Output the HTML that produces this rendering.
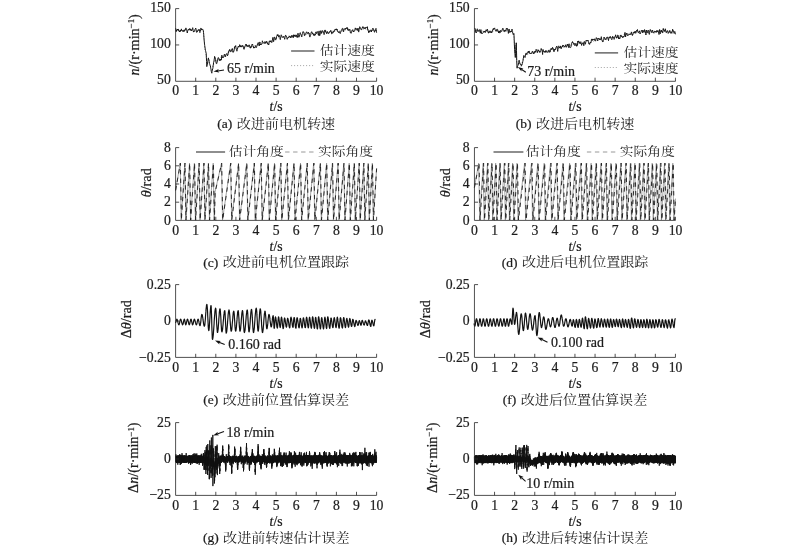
<!DOCTYPE html>
<html lang="zh"><head><meta charset="utf-8"><title>电机转速与位置估算对比</title>
<style>
html,body{margin:0;padding:0;background:#fff;}
body{width:800px;height:546px;overflow:hidden;}
svg{display:block;}
svg text{font-family:"Liberation Serif", "Noto Serif CJK SC", serif;font-size:13.7px;fill:#1c1c1c;font-weight:400;stroke:#1c1c1c;stroke-width:0.22px;}
svg text.cj{font-family:"Noto Serif CJK SC","Liberation Serif",serif;stroke:none;}
</style></head><body>
<svg width="800" height="546" viewBox="0 0 800 546">
<rect width="800" height="546" fill="#fff"/>
<polyline points="175.6,30.0 176.0,30.0 176.4,30.0 176.8,30.0 177.2,30.0 177.6,30.0 178.0,30.0 178.4,30.0 178.8,30.0 179.2,30.0 179.6,30.0 180.0,30.0 180.4,30.0 180.8,30.0 181.2,30.0 181.6,30.0 182.0,30.0 182.4,30.0 182.8,30.0 183.2,30.0 183.6,30.0 184.0,30.0 184.4,30.0 184.8,30.0 185.2,30.0 185.7,30.0 186.1,30.0 186.5,30.0 186.9,30.0 187.3,30.0 187.7,30.0 188.1,30.0 188.5,30.0 188.9,30.0 189.3,30.0 189.7,30.0 190.1,30.0 190.5,30.0 190.9,30.0 191.3,30.0 191.7,30.0 192.1,30.0 192.5,30.0 192.9,30.0 193.3,30.0 193.7,30.0 194.1,30.0 194.5,30.0 194.9,30.0 195.3,30.0 195.7,30.0 196.1,30.0 196.5,30.0 196.9,30.0 197.3,30.0 197.7,30.0 198.1,30.0 198.5,30.0 198.9,30.0 199.3,30.0 199.7,30.0 200.1,30.0 200.5,30.0 200.9,30.0 201.3,30.0 201.7,30.0 202.1,30.0 202.5,30.0 202.9,30.0 203.3,30.0 203.7,34.2 204.1,38.5 204.5,43.1 204.9,47.7 205.3,51.3 205.8,54.0 206.2,56.6 206.6,61.9 207.0,63.7 207.4,62.0 207.8,60.2 208.2,58.8 208.6,59.3 209.0,62.0 209.4,64.6 209.8,65.7 210.2,66.8 210.6,67.8 211.0,68.8 211.4,69.8 211.8,70.8 212.2,68.9 212.6,67.1 213.0,65.3 213.4,63.3 213.8,61.3 214.2,59.3 214.6,57.3 215.0,58.8 215.4,60.2 215.8,61.7 216.2,61.1 216.6,60.6 217.0,60.0 217.4,59.5 217.8,59.2 218.2,58.9 218.6,58.7 219.0,58.4 219.4,58.1 219.8,57.8 220.2,57.6 220.6,57.3 221.0,57.1 221.4,56.9 221.8,56.7 222.2,56.4 222.6,56.2 223.0,56.0 223.4,55.8 223.8,55.5 224.2,55.3 224.6,55.1 225.0,54.9 225.4,54.6 225.8,54.4 226.3,54.1 226.7,53.8 227.1,53.5 227.5,53.2 227.9,52.9 228.3,52.6 228.7,52.3 229.1,52.0 229.5,51.7 229.9,51.4 230.3,51.1 230.7,50.9 231.1,50.7 231.5,50.6 231.9,50.4 232.3,50.2 232.7,50.0 233.1,49.8 233.5,49.6 233.9,49.5 234.3,49.3 234.7,49.1 235.1,48.9 235.5,48.7 235.9,48.5 236.3,48.4 236.7,48.2 237.1,48.0 237.5,47.8 237.9,47.6 238.3,47.4 238.7,47.2 239.1,47.1 239.5,46.9 239.9,46.7 240.3,46.7 240.7,46.7 241.1,46.7 241.5,46.7 241.9,46.7 242.3,46.7 242.7,46.7 243.1,46.7 243.5,46.7 243.9,46.7 244.3,46.7 244.7,46.7 245.1,46.7 245.5,46.7 245.9,46.7 246.4,46.7 246.8,46.7 247.2,46.7 247.6,46.8 248.0,46.8 248.4,46.8 248.8,46.8 249.2,46.8 249.6,46.8 250.0,46.8 250.4,46.7 250.8,46.6 251.2,46.5 251.6,46.4 252.0,46.3 252.4,46.3 252.8,46.2 253.2,46.1 253.6,46.0 254.0,45.9 254.4,45.8 254.8,45.8 255.2,45.7 255.6,45.6 256.0,45.5 256.4,45.4 256.8,45.3 257.2,45.2 257.6,45.2 258.0,45.1 258.4,45.0 258.8,44.9 259.2,44.8 259.6,44.7 260.0,44.7 260.4,44.5 260.8,44.4 261.2,44.3 261.6,44.2 262.0,44.1 262.4,43.9 262.8,43.8 263.2,43.7 263.6,43.6 264.0,43.5 264.4,43.3 264.8,43.2 265.2,43.1 265.6,43.0 266.1,42.9 266.5,42.8 266.9,42.6 267.3,42.5 267.7,42.4 268.1,42.3 268.5,42.2 268.9,42.0 269.3,41.9 269.7,41.8 270.1,41.7 270.5,41.4 270.9,41.2 271.3,41.0 271.7,40.7 272.1,40.5 272.5,40.2 272.9,40.0 273.3,39.7 273.7,39.5 274.1,39.3 274.5,39.0 274.9,38.8 275.3,38.5 275.7,38.3 276.1,38.0 276.5,38.0 276.9,37.9 277.3,37.9 277.7,37.8 278.1,37.7 278.5,37.7 278.9,37.6 279.3,37.6 279.7,37.5 280.1,37.4 280.5,37.4 280.9,37.3 281.3,37.3 281.7,37.2 282.1,37.1 282.5,37.1 282.9,37.0 283.3,37.0 283.7,36.9 284.1,36.8 284.5,36.8 284.9,36.7 285.3,36.7 285.7,36.6 286.1,36.5 286.6,36.5 287.0,36.4 287.4,36.3 287.8,36.3 288.2,36.2 288.6,36.2 289.0,36.2 289.4,36.1 289.8,36.1 290.2,36.0 290.6,36.0 291.0,36.0 291.4,35.9 291.8,35.9 292.2,35.9 292.6,35.8 293.0,35.8 293.4,35.8 293.8,35.7 294.2,35.7 294.6,35.6 295.0,35.6 295.4,35.6 295.8,35.5 296.2,35.5 296.6,35.5 297.0,35.4 297.4,35.4 297.8,35.4 298.2,35.3 298.6,35.3 299.0,35.2 299.4,35.2 299.8,35.2 300.2,35.1 300.6,35.1 301.0,35.0 301.4,35.0 301.8,35.0 302.2,34.9 302.6,34.9 303.0,34.8 303.4,34.8 303.8,34.7 304.2,34.7 304.6,34.6 305.0,34.6 305.4,34.5 305.8,34.5 306.2,34.5 306.7,34.4 307.1,34.4 307.5,34.3 307.9,34.3 308.3,34.2 308.7,34.2 309.1,34.1 309.5,34.1 309.9,34.0 310.3,34.0 310.7,34.0 311.1,33.9 311.5,33.9 311.9,33.8 312.3,33.8 312.7,33.7 313.1,33.7 313.5,33.6 313.9,33.6 314.3,33.5 314.7,33.5 315.1,33.5 315.5,33.4 315.9,33.4 316.3,33.3 316.7,33.3 317.1,33.2 317.5,33.2 317.9,33.1 318.3,33.1 318.7,33.0 319.1,33.0 319.5,32.9 319.9,32.9 320.3,32.8 320.7,32.8 321.1,32.7 321.5,32.7 321.9,32.6 322.3,32.6 322.7,32.5 323.1,32.5 323.5,32.4 323.9,32.4 324.3,32.3 324.7,32.2 325.1,32.2 325.5,32.1 325.9,32.1 326.4,32.0 326.8,32.0 327.2,31.9 327.6,31.9 328.0,31.8 328.4,31.8 328.8,31.7 329.2,31.7 329.6,31.6 330.0,31.6 330.4,31.5 330.8,31.5 331.2,31.4 331.6,31.4 332.0,31.3 332.4,31.3 332.8,31.2 333.2,31.2 333.6,31.1 334.0,31.1 334.4,31.0 334.8,31.0 335.2,30.9 335.6,30.9 336.0,30.8 336.4,30.8 336.8,30.7 337.2,30.7 337.6,30.7 338.0,30.7 338.4,30.6 338.8,30.6 339.2,30.6 339.6,30.5 340.0,30.5 340.4,30.5 340.8,30.5 341.2,30.4 341.6,30.4 342.0,30.4 342.4,30.3 342.8,30.3 343.2,30.3 343.6,30.3 344.0,30.2 344.4,30.2 344.8,30.2 345.2,30.1 345.6,30.1 346.0,30.1 346.5,30.0 346.9,30.0 347.3,30.0 347.7,30.0 348.1,29.9 348.5,29.9 348.9,29.9 349.3,29.8 349.7,29.8 350.1,29.8 350.5,29.8 350.9,29.7 351.3,29.7 351.7,29.7 352.1,29.6 352.5,29.6 352.9,29.6 353.3,29.6 353.7,29.5 354.1,29.5 354.5,29.5 354.9,29.4 355.3,29.4 355.7,29.4 356.1,29.3 356.5,29.3 356.9,29.3 357.3,29.3 357.7,29.3 358.1,29.3 358.5,29.3 358.9,29.3 359.3,29.3 359.7,29.3 360.1,29.3 360.5,29.3 360.9,29.3 361.3,29.3 361.7,29.3 362.1,29.3 362.5,29.3 362.9,29.3 363.3,29.3 363.7,29.3 364.1,29.3 364.5,29.3 364.9,29.3 365.3,29.3 365.7,29.3 366.1,29.3 366.6,29.3 367.0,29.4 367.4,29.4 367.8,29.5 368.2,29.5 368.6,29.5 369.0,29.6 369.4,29.6 369.8,29.7 370.2,29.7 370.6,29.8 371.0,29.8 371.4,29.8 371.8,29.9 372.2,29.9 372.6,30.0 373.0,30.0 373.4,30.1 373.8,30.1 374.2,30.1 374.6,30.2 375.0,30.2 375.4,30.3 375.8,30.3 376.2,30.4 376.6,30.4" fill="none" stroke="#999" stroke-width="0.9" stroke-dasharray="1 1.6"/>
<polyline points="175.6,28.2 175.8,28.9 176.0,29.7 176.2,31.6 176.4,30.2 176.6,30.7 176.8,30.8 177.0,30.4 177.2,29.7 177.4,29.1 177.6,30.1 177.8,29.9 178.0,29.1 178.2,29.1 178.4,30.2 178.6,30.6 178.8,30.0 179.0,30.1 179.2,31.4 179.4,31.0 179.6,31.8 179.8,31.3 180.0,31.9 180.2,31.7 180.4,31.0 180.6,30.0 180.8,31.0 181.0,30.6 181.2,30.1 181.4,28.9 181.6,29.8 181.8,30.2 182.0,30.3 182.2,30.1 182.4,31.3 182.6,31.3 182.8,31.2 183.0,31.1 183.2,31.1 183.4,30.5 183.6,31.4 183.8,30.9 184.0,31.4 184.2,30.4 184.4,31.1 184.6,30.3 184.8,30.5 185.0,30.6 185.2,29.1 185.4,29.6 185.7,28.6 185.9,27.9 186.1,29.0 186.3,29.2 186.5,29.3 186.7,29.8 186.9,30.7 187.1,32.0 187.3,33.0 187.5,31.3 187.7,31.3 187.9,30.5 188.1,30.0 188.3,29.4 188.5,29.3 188.7,29.0 188.9,29.5 189.1,30.1 189.3,29.5 189.5,28.8 189.7,28.5 189.9,29.1 190.1,29.6 190.3,28.9 190.5,30.2 190.7,30.2 190.9,29.9 191.1,30.3 191.3,31.0 191.5,30.7 191.7,29.9 191.9,30.1 192.1,28.9 192.3,28.9 192.5,28.6 192.7,27.7 192.9,28.9 193.1,30.7 193.3,31.0 193.5,32.1 193.7,31.8 193.9,31.2 194.1,31.6 194.3,30.9 194.5,31.1 194.7,30.6 194.9,29.6 195.1,29.3 195.3,29.2 195.5,28.8 195.7,28.0 195.9,29.2 196.1,29.5 196.3,31.6 196.5,31.7 196.7,32.4 196.9,31.4 197.1,31.1 197.3,31.8 197.5,31.2 197.7,30.6 197.9,30.7 198.1,30.9 198.3,29.7 198.5,29.8 198.7,29.9 198.9,29.8 199.1,29.3 199.3,30.3 199.5,30.1 199.7,31.7 199.9,32.6 200.1,31.5 200.3,31.3 200.5,29.7 200.7,29.2 200.9,28.1 201.1,28.2 201.3,29.7 201.5,29.6 201.7,29.9 201.9,29.0 202.1,29.5 202.3,29.2 202.5,29.2 202.7,29.5 202.9,29.6 203.1,29.7 203.3,30.4 203.5,32.3 203.7,34.3 203.9,37.2 204.1,39.9 204.3,41.6 204.5,44.2 204.7,45.5 204.9,47.0 205.1,48.1 205.3,49.9 205.5,50.5 205.8,51.7 206.0,52.4 206.2,53.2 206.4,57.5 206.6,61.5 206.8,66.6 207.0,65.5 207.2,64.9 207.4,64.1 207.6,62.2 207.8,61.2 208.0,60.5 208.2,58.9 208.4,57.9 208.6,59.3 208.8,59.3 209.0,60.1 209.2,61.6 209.4,63.5 209.6,63.6 209.8,64.3 210.0,64.9 210.2,65.3 210.4,65.8 210.6,67.3 210.8,68.7 211.0,69.4 211.2,71.2 211.4,71.6 211.6,72.5 211.8,73.2 212.0,71.5 212.2,71.2 212.4,70.3 212.6,69.0 212.8,68.5 213.0,67.3 213.2,65.1 213.4,64.9 213.6,62.3 213.8,61.9 214.0,61.2 214.2,59.7 214.4,58.7 214.6,56.4 214.8,57.9 215.0,58.2 215.2,57.7 215.4,58.6 215.6,59.7 215.8,61.1 216.0,62.6 216.2,63.1 216.4,63.8 216.6,63.7 216.8,63.4 217.0,61.9 217.2,61.9 217.4,60.9 217.6,59.9 217.8,58.5 218.0,57.9 218.2,58.0 218.4,57.6 218.6,57.8 218.8,58.1 219.0,59.1 219.2,60.4 219.4,60.5 219.6,59.5 219.8,60.2 220.0,59.7 220.2,60.4 220.4,59.6 220.6,59.5 220.8,60.3 221.0,59.1 221.2,59.9 221.4,59.0 221.6,56.9 221.8,55.2 222.0,55.8 222.2,56.6 222.4,57.7 222.6,57.5 222.8,57.2 223.0,56.8 223.2,57.7 223.4,57.2 223.6,56.9 223.8,56.8 224.0,56.8 224.2,54.7 224.4,54.9 224.6,54.2 224.8,54.6 225.0,55.5 225.2,56.1 225.4,56.9 225.6,56.5 225.8,55.0 226.1,54.7 226.3,54.3 226.5,54.2 226.7,53.6 226.9,54.1 227.1,54.5 227.3,54.9 227.5,55.8 227.7,55.0 227.9,55.1 228.1,53.9 228.3,53.2 228.5,52.0 228.7,51.1 228.9,50.9 229.1,50.5 229.3,51.1 229.5,50.3 229.7,49.4 229.9,50.5 230.1,50.4 230.3,50.4 230.5,51.0 230.7,51.8 230.9,51.7 231.1,50.9 231.3,51.1 231.5,50.8 231.7,49.9 231.9,49.4 232.1,49.9 232.3,48.5 232.5,49.7 232.7,50.4 232.9,52.0 233.1,52.4 233.3,51.3 233.5,51.0 233.7,51.4 233.9,51.3 234.1,49.9 234.3,49.1 234.5,47.0 234.7,47.4 234.9,46.4 235.1,46.7 235.3,47.0 235.5,46.2 235.7,45.6 235.9,47.3 236.1,48.7 236.3,49.0 236.5,49.8 236.7,50.5 236.9,51.2 237.1,50.5 237.3,49.6 237.5,49.1 237.7,47.7 237.9,47.7 238.1,46.5 238.3,46.5 238.5,46.1 238.7,46.9 238.9,47.1 239.1,46.3 239.3,46.0 239.5,46.4 239.7,44.7 239.9,45.0 240.1,46.0 240.3,45.7 240.5,46.1 240.7,47.0 240.9,46.2 241.1,47.1 241.3,46.7 241.5,46.1 241.7,45.7 241.9,46.1 242.1,45.9 242.3,46.3 242.5,46.2 242.7,45.4 242.9,46.4 243.1,46.2 243.3,47.4 243.5,47.3 243.7,48.8 243.9,48.8 244.1,49.3 244.3,48.3 244.5,48.3 244.7,46.8 244.9,46.9 245.1,46.4 245.3,45.6 245.5,45.1 245.7,44.4 245.9,45.2 246.2,45.4 246.4,44.4 246.6,45.6 246.8,45.0 247.0,46.2 247.2,45.7 247.4,46.4 247.6,46.1 247.8,46.2 248.0,45.8 248.2,46.7 248.4,46.4 248.6,45.4 248.8,45.1 249.0,44.8 249.2,44.9 249.4,45.1 249.6,46.4 249.8,47.3 250.0,47.4 250.2,48.0 250.4,48.2 250.6,46.8 250.8,47.9 251.0,46.7 251.2,47.1 251.4,45.7 251.6,45.6 251.8,44.8 252.0,45.0 252.2,44.4 252.4,44.6 252.6,44.1 252.8,45.7 253.0,45.9 253.2,47.0 253.4,46.7 253.6,48.1 253.8,47.7 254.0,47.1 254.2,48.1 254.4,47.6 254.6,47.5 254.8,47.9 255.0,47.6 255.2,46.7 255.4,46.6 255.6,45.6 255.8,46.2 256.0,46.9 256.2,47.5 256.4,47.5 256.6,46.8 256.8,46.3 257.0,46.1 257.2,45.5 257.4,44.7 257.6,43.9 257.8,44.5 258.0,42.8 258.2,42.5 258.4,42.7 258.6,43.7 258.8,44.2 259.0,45.0 259.2,46.0 259.4,45.2 259.6,43.3 259.8,42.0 260.0,42.1 260.2,43.4 260.4,43.9 260.6,45.0 260.8,44.2 261.0,45.0 261.2,44.7 261.4,44.1 261.6,43.8 261.8,44.0 262.0,43.7 262.2,42.4 262.4,40.8 262.6,41.7 262.8,41.8 263.0,42.3 263.2,42.5 263.4,42.8 263.6,42.9 263.8,42.7 264.0,43.0 264.2,43.5 264.4,43.1 264.6,42.6 264.8,41.7 265.0,41.5 265.2,41.9 265.4,43.0 265.6,43.4 265.8,42.2 266.1,42.4 266.3,41.8 266.5,42.3 266.7,41.3 266.9,42.1 267.1,42.3 267.3,42.9 267.5,42.8 267.7,44.0 267.9,43.7 268.1,44.5 268.3,44.1 268.5,43.9 268.7,44.9 268.9,43.9 269.1,42.1 269.3,41.3 269.5,40.8 269.7,41.3 269.9,41.7 270.1,42.1 270.3,41.0 270.5,42.0 270.7,40.8 270.9,40.7 271.1,40.7 271.3,41.3 271.5,41.8 271.7,42.6 271.9,42.3 272.1,41.7 272.3,40.7 272.5,40.1 272.7,39.0 272.9,37.4 273.1,39.5 273.3,39.9 273.5,41.6 273.7,41.6 273.9,39.9 274.1,38.5 274.3,37.1 274.5,37.1 274.7,37.1 274.9,38.1 275.1,39.2 275.3,40.0 275.5,39.8 275.7,40.1 275.9,39.3 276.1,38.0 276.3,38.4 276.5,36.7 276.7,36.2 276.9,35.7 277.1,35.6 277.3,34.6 277.5,35.8 277.7,35.0 277.9,35.0 278.1,34.7 278.3,36.2 278.5,36.8 278.7,35.9 278.9,36.3 279.1,35.7 279.3,35.7 279.5,35.7 279.7,36.8 279.9,37.2 280.1,39.0 280.3,39.6 280.5,38.4 280.7,37.5 280.9,37.1 281.1,34.8 281.3,34.9 281.5,35.4 281.7,35.8 281.9,36.6 282.1,36.6 282.3,36.7 282.5,37.3 282.7,37.5 282.9,37.6 283.1,37.3 283.3,36.7 283.5,36.5 283.7,36.8 283.9,36.4 284.1,37.7 284.3,37.9 284.5,38.2 284.7,39.3 284.9,37.8 285.1,37.1 285.3,36.2 285.5,35.2 285.7,35.2 285.9,35.7 286.1,36.2 286.4,36.3 286.6,37.0 286.8,37.7 287.0,38.9 287.2,39.3 287.4,38.6 287.6,38.7 287.8,37.7 288.0,37.3 288.2,37.4 288.4,37.7 288.6,37.0 288.8,37.1 289.0,37.3 289.2,36.7 289.4,36.9 289.6,37.1 289.8,36.0 290.0,36.1 290.2,37.0 290.4,37.2 290.6,37.1 290.8,38.0 291.0,36.9 291.2,36.6 291.4,37.1 291.6,36.3 291.8,35.6 292.0,35.1 292.2,35.9 292.4,36.7 292.6,36.3 292.8,36.9 293.0,37.4 293.2,37.9 293.4,37.4 293.6,35.0 293.8,34.7 294.0,35.2 294.2,35.4 294.4,35.0 294.6,36.2 294.8,35.4 295.0,35.6 295.2,36.7 295.4,35.9 295.6,36.2 295.8,36.0 296.0,34.8 296.2,35.7 296.4,35.7 296.6,35.3 296.8,37.0 297.0,36.7 297.2,37.6 297.4,37.0 297.6,35.7 297.8,34.0 298.0,33.2 298.2,33.8 298.4,34.5 298.6,35.6 298.8,37.2 299.0,37.2 299.2,35.9 299.4,35.9 299.6,34.8 299.8,34.3 300.0,32.8 300.2,32.7 300.4,32.8 300.6,33.7 300.8,34.1 301.0,34.9 301.2,35.1 301.4,36.4 301.6,36.3 301.8,36.9 302.0,35.3 302.2,34.7 302.4,34.1 302.6,33.4 302.8,32.3 303.0,32.7 303.2,31.5 303.4,31.9 303.6,32.1 303.8,32.5 304.0,33.5 304.2,33.4 304.4,35.6 304.6,35.7 304.8,35.2 305.0,35.3 305.2,34.8 305.4,34.5 305.6,33.9 305.8,33.9 306.0,32.8 306.2,32.6 306.5,31.8 306.7,32.5 306.9,32.8 307.1,33.0 307.3,33.5 307.5,33.6 307.7,33.3 307.9,32.3 308.1,32.4 308.3,32.6 308.5,32.2 308.7,33.5 308.9,33.5 309.1,33.1 309.3,34.7 309.5,35.8 309.7,36.2 309.9,37.1 310.1,35.5 310.3,35.8 310.5,35.3 310.7,34.9 310.9,33.3 311.1,33.1 311.3,32.1 311.5,32.3 311.7,31.7 311.9,32.0 312.1,32.4 312.3,33.0 312.5,34.0 312.7,33.9 312.9,33.4 313.1,34.0 313.3,34.3 313.5,35.1 313.7,33.9 313.9,35.5 314.1,35.6 314.3,35.2 314.5,34.5 314.7,35.4 314.9,34.7 315.1,34.9 315.3,35.0 315.5,33.9 315.7,33.3 315.9,31.9 316.1,32.6 316.3,33.1 316.5,33.6 316.7,33.2 316.9,32.4 317.1,31.5 317.3,31.6 317.5,31.8 317.7,32.5 317.9,32.7 318.1,33.5 318.3,35.1 318.5,35.4 318.7,33.2 318.9,31.5 319.1,30.9 319.3,32.5 319.5,33.6 319.7,35.7 319.9,34.5 320.1,34.5 320.3,33.0 320.5,32.8 320.7,30.8 320.9,30.6 321.1,31.5 321.3,31.6 321.5,33.4 321.7,32.3 321.9,32.4 322.1,31.6 322.3,31.2 322.5,30.6 322.7,30.7 322.9,31.6 323.1,31.4 323.3,32.4 323.5,32.3 323.7,33.2 323.9,33.3 324.1,34.6 324.3,32.6 324.5,31.2 324.7,30.2 324.9,30.2 325.1,30.0 325.3,30.2 325.5,31.6 325.7,30.8 325.9,32.2 326.1,32.7 326.4,32.4 326.6,33.7 326.8,33.3 327.0,33.4 327.2,31.6 327.4,31.7 327.6,31.7 327.8,32.7 328.0,32.5 328.2,32.5 328.4,33.5 328.6,33.6 328.8,32.9 329.0,33.0 329.2,32.9 329.4,32.7 329.6,32.7 329.8,31.3 330.0,31.5 330.2,31.5 330.4,31.6 330.6,30.6 330.8,30.3 331.0,31.1 331.2,31.3 331.4,31.7 331.6,33.7 331.8,33.7 332.0,33.5 332.2,33.1 332.4,33.3 332.6,32.3 332.8,32.2 333.0,32.7 333.2,32.7 333.4,31.2 333.6,31.1 333.8,31.5 334.0,30.9 334.2,31.4 334.4,30.8 334.6,29.9 334.8,29.7 335.0,29.3 335.2,29.0 335.4,29.2 335.6,29.7 335.8,30.0 336.0,29.4 336.2,30.2 336.4,28.8 336.6,29.4 336.8,29.1 337.0,29.9 337.2,29.4 337.4,30.3 337.6,31.3 337.8,31.0 338.0,31.7 338.2,32.1 338.4,32.5 338.6,32.4 338.8,31.8 339.0,32.5 339.2,32.5 339.4,31.6 339.6,32.3 339.8,32.7 340.0,33.1 340.2,33.6 340.4,33.3 340.6,32.3 340.8,31.3 341.0,31.4 341.2,31.4 341.4,30.7 341.6,30.5 341.8,29.7 342.0,29.9 342.2,28.5 342.4,28.4 342.6,28.3 342.8,28.8 343.0,29.5 343.2,31.0 343.4,31.9 343.6,31.7 343.8,30.1 344.0,29.2 344.2,28.8 344.4,29.2 344.6,28.8 344.8,29.2 345.0,29.3 345.2,29.4 345.4,29.4 345.6,28.2 345.8,28.7 346.0,29.0 346.2,28.4 346.5,28.4 346.7,28.6 346.9,27.3 347.1,27.5 347.3,27.8 347.5,27.8 347.7,29.6 347.9,28.8 348.1,30.1 348.3,30.4 348.5,30.2 348.7,29.7 348.9,30.4 349.1,30.6 349.3,29.5 349.5,29.6 349.7,29.3 349.9,30.0 350.1,30.6 350.3,32.4 350.5,32.1 350.7,32.7 350.9,32.6 351.1,33.3 351.3,32.0 351.5,31.9 351.7,31.3 351.9,30.7 352.1,30.1 352.3,30.2 352.5,29.9 352.7,29.8 352.9,30.8 353.1,31.2 353.3,31.9 353.5,31.0 353.7,31.9 353.9,30.8 354.1,30.8 354.3,31.0 354.5,31.0 354.7,30.9 354.9,30.2 355.1,28.7 355.3,27.9 355.5,28.5 355.7,29.2 355.9,28.5 356.1,28.9 356.3,28.7 356.5,29.2 356.7,29.1 356.9,30.1 357.1,30.2 357.3,30.5 357.5,28.7 357.7,28.6 357.9,28.5 358.1,28.1 358.3,30.0 358.5,31.7 358.7,32.1 358.9,31.2 359.1,29.6 359.3,29.0 359.5,27.4 359.7,26.7 359.9,27.4 360.1,28.0 360.3,27.7 360.5,28.0 360.7,28.7 360.9,28.7 361.1,28.8 361.3,29.7 361.5,29.7 361.7,29.6 361.9,28.6 362.1,28.4 362.3,28.2 362.5,26.9 362.7,26.8 362.9,26.7 363.1,26.6 363.3,27.1 363.5,28.0 363.7,28.5 363.9,28.4 364.1,27.8 364.3,27.7 364.5,27.7 364.7,28.5 364.9,28.2 365.1,28.8 365.3,28.2 365.5,27.5 365.7,28.2 365.9,27.9 366.1,27.4 366.3,27.4 366.6,27.4 366.8,27.6 367.0,27.2 367.2,27.6 367.4,26.7 367.6,29.0 367.8,30.0 368.0,30.6 368.2,30.5 368.4,31.0 368.6,32.3 368.8,32.9 369.0,31.6 369.2,32.0 369.4,30.8 369.6,31.3 369.8,31.0 370.0,31.3 370.2,30.3 370.4,30.0 370.6,30.1 370.8,30.3 371.0,31.1 371.2,31.7 371.4,32.0 371.6,31.0 371.8,30.2 372.0,30.8 372.2,30.0 372.4,29.4 372.6,28.5 372.8,28.8 373.0,28.3 373.2,28.5 373.4,28.8 373.6,29.7 373.8,29.7 374.0,31.1 374.2,31.3 374.4,32.2 374.6,32.2 374.8,30.7 375.0,31.0 375.2,31.0 375.4,29.8 375.6,29.2 375.8,29.0 376.0,28.4 376.2,29.6 376.4,31.2 376.6,32.7" fill="none" stroke="#141414" stroke-width="1.0" stroke-linejoin="round"/>
<polyline points="474.4,31.1 474.9,31.1 475.3,31.1 475.7,31.1 476.1,31.1 476.5,31.1 476.9,31.1 477.3,31.1 477.7,31.1 478.1,31.1 478.5,31.1 478.9,31.1 479.3,31.1 479.7,31.1 480.1,31.1 480.5,31.1 480.9,31.1 481.3,31.1 481.7,31.1 482.1,31.1 482.5,31.1 482.9,31.1 483.3,31.1 483.7,31.0 484.1,31.0 484.5,31.0 484.9,31.0 485.3,31.0 485.7,31.0 486.1,31.0 486.5,31.0 486.9,31.0 487.3,31.0 487.7,31.0 488.1,31.0 488.5,31.0 488.9,31.0 489.3,31.0 489.7,31.0 490.1,31.0 490.5,31.0 490.9,31.0 491.3,31.0 491.7,31.0 492.1,31.0 492.5,31.0 492.9,31.0 493.3,31.0 493.7,31.0 494.1,30.9 494.6,30.9 495.0,30.9 495.4,30.9 495.8,30.9 496.2,30.9 496.6,30.9 497.0,30.9 497.4,30.9 497.8,30.9 498.2,30.9 498.6,30.9 499.0,30.9 499.4,30.9 499.8,30.9 500.2,30.9 500.6,30.9 501.0,30.9 501.4,30.9 501.8,30.9 502.2,30.9 502.6,30.9 503.0,30.9 503.4,30.9 503.8,30.9 504.2,30.9 504.6,30.9 505.0,30.8 505.4,30.8 505.8,30.8 506.2,30.8 506.6,30.8 507.0,30.8 507.4,30.8 507.8,30.8 508.2,30.8 508.6,30.8 509.0,30.8 509.4,30.8 509.8,30.8 510.2,30.8 510.6,30.8 511.0,30.8 511.4,30.8 511.8,30.8 512.2,30.8 512.6,30.8 513.0,31.9 513.4,33.0 513.8,34.0 514.2,41.3 514.6,48.6 515.1,52.9 515.5,51.7 515.9,44.9 516.3,42.0 516.7,59.5 517.1,66.8 517.5,65.3 517.9,63.9 518.3,62.5 518.7,61.2 519.1,61.9 519.5,62.5 519.9,63.1 520.3,63.7 520.7,64.4 521.1,65.0 521.5,64.6 521.9,63.1 522.3,61.7 522.7,60.2 523.1,59.2 523.5,58.2 523.9,57.2 524.3,56.2 524.7,56.0 525.1,55.8 525.5,55.6 525.9,55.4 526.3,55.2 526.7,55.0 527.1,54.8 527.5,54.6 527.9,54.4 528.3,54.2 528.7,54.0 529.1,53.8 529.5,53.6 529.9,53.4 530.3,53.2 530.7,53.1 531.1,53.1 531.5,53.0 531.9,52.9 532.3,52.9 532.7,52.8 533.1,52.8 533.5,52.7 533.9,52.7 534.3,52.6 534.8,52.6 535.2,52.5 535.6,52.5 536.0,52.4 536.4,52.3 536.8,52.3 537.2,52.2 537.6,52.2 538.0,52.1 538.4,52.1 538.8,52.0 539.2,52.0 539.6,51.9 540.0,51.9 540.4,51.8 540.8,51.7 541.2,51.7 541.6,51.6 542.0,51.6 542.4,51.5 542.8,51.5 543.2,51.4 543.6,51.4 544.0,51.3 544.4,51.3 544.8,51.2 545.2,51.1 545.6,51.0 546.0,51.0 546.4,50.9 546.8,50.8 547.2,50.7 547.6,50.6 548.0,50.6 548.4,50.5 548.8,50.4 549.2,50.3 549.6,50.3 550.0,50.2 550.4,50.1 550.8,50.0 551.2,49.9 551.6,49.9 552.0,49.8 552.4,49.7 552.8,49.6 553.2,49.5 553.6,49.5 554.0,49.4 554.4,49.3 554.9,49.2 555.3,49.1 555.7,49.1 556.1,49.0 556.5,48.9 556.9,48.8 557.3,48.7 557.7,48.7 558.1,48.6 558.5,48.5 558.9,48.4 559.3,48.3 559.7,48.3 560.1,48.2 560.5,48.1 560.9,48.0 561.3,47.9 561.7,47.8 562.1,47.6 562.5,47.5 562.9,47.4 563.3,47.3 563.7,47.2 564.1,47.1 564.5,47.0 564.9,46.9 565.3,46.7 565.7,46.6 566.1,46.5 566.5,46.4 566.9,46.3 567.3,46.2 567.7,46.1 568.1,46.0 568.5,45.8 568.9,45.7 569.3,45.6 569.7,45.5 570.1,45.4 570.5,45.3 570.9,45.2 571.3,45.1 571.7,45.0 572.1,44.8 572.5,44.7 572.9,44.6 573.3,44.5 573.7,44.4 574.1,44.3 574.5,44.2 575.0,44.2 575.4,44.1 575.8,44.1 576.2,44.0 576.6,44.0 577.0,43.9 577.4,43.9 577.8,43.8 578.2,43.8 578.6,43.7 579.0,43.7 579.4,43.6 579.8,43.6 580.2,43.6 580.6,43.5 581.0,43.5 581.4,43.4 581.8,43.4 582.2,43.3 582.6,43.3 583.0,43.2 583.4,43.2 583.8,43.1 584.2,43.1 584.6,43.0 585.0,43.0 585.4,43.0 585.8,42.9 586.2,42.9 586.6,42.8 587.0,42.8 587.4,42.7 587.8,42.6 588.2,42.5 588.6,42.4 589.0,42.3 589.4,42.2 589.8,42.1 590.2,42.1 590.6,42.0 591.0,41.9 591.4,41.8 591.8,41.7 592.2,41.6 592.6,41.5 593.0,41.4 593.4,41.3 593.8,41.2 594.2,41.2 594.6,41.1 595.0,41.0 595.5,40.9 595.9,40.8 596.3,40.7 596.7,40.6 597.1,40.5 597.5,40.4 597.9,40.4 598.3,40.3 598.7,40.2 599.1,40.1 599.5,40.0 599.9,39.9 600.3,39.8 600.7,39.7 601.1,39.7 601.5,39.6 601.9,39.5 602.3,39.4 602.7,39.3 603.1,39.3 603.5,39.2 603.9,39.1 604.3,39.0 604.7,38.9 605.1,38.9 605.5,38.8 605.9,38.7 606.3,38.6 606.7,38.5 607.1,38.4 607.5,38.4 607.9,38.3 608.3,38.2 608.7,38.1 609.1,38.0 609.5,38.0 609.9,37.9 610.3,37.8 610.7,37.7 611.1,37.6 611.5,37.6 611.9,37.5 612.3,37.4 612.7,37.3 613.1,37.2 613.5,37.2 613.9,37.1 614.3,37.0 614.7,36.9 615.1,36.8 615.6,36.8 616.0,36.7 616.4,36.6 616.8,36.5 617.2,36.4 617.6,36.3 618.0,36.3 618.4,36.2 618.8,36.1 619.2,36.0 619.6,35.9 620.0,35.8 620.4,35.6 620.8,35.5 621.2,35.4 621.6,35.3 622.0,35.2 622.4,35.1 622.8,35.0 623.2,34.9 623.6,34.8 624.0,34.7 624.4,34.6 624.8,34.5 625.2,34.4 625.6,34.3 626.0,34.2 626.4,34.1 626.8,34.0 627.2,33.8 627.6,33.7 628.0,33.6 628.4,33.5 628.8,33.4 629.2,33.3 629.6,33.2 630.0,33.2 630.4,33.1 630.8,33.0 631.2,32.9 631.6,32.8 632.0,32.7 632.4,32.7 632.8,32.6 633.2,32.5 633.6,32.4 634.0,32.3 634.4,32.2 634.8,32.2 635.2,32.1 635.7,32.0 636.1,31.9 636.5,31.9 636.9,31.9 637.3,31.9 637.7,31.9 638.1,31.9 638.5,31.9 638.9,31.9 639.3,31.9 639.7,31.9 640.1,31.9 640.5,31.9 640.9,31.9 641.3,31.9 641.7,31.9 642.1,31.9 642.5,31.9 642.9,31.9 643.3,31.9 643.7,31.9 644.1,31.9 644.5,31.9 644.9,31.9 645.3,31.9 645.7,31.9 646.1,31.9 646.5,31.9 646.9,31.9 647.3,31.9 647.7,31.9 648.1,31.9 648.5,31.9 648.9,31.9 649.3,31.9 649.7,31.9 650.1,31.9 650.5,31.9 650.9,31.9 651.3,31.9 651.7,31.9 652.1,31.9 652.5,31.9 652.9,31.9 653.3,31.9 653.7,31.9 654.1,31.9 654.5,31.9 654.9,31.9 655.4,31.9 655.8,31.9 656.2,31.8 656.6,31.8 657.0,31.8 657.4,31.8 657.8,31.8 658.2,31.8 658.6,31.8 659.0,31.8 659.4,31.8 659.8,31.8 660.2,31.8 660.6,31.8 661.0,31.8 661.4,31.8 661.8,31.7 662.2,31.7 662.6,31.7 663.0,31.7 663.4,31.7 663.8,31.7 664.2,31.7 664.6,31.7 665.0,31.7 665.4,31.7 665.8,31.7 666.2,31.7 666.6,31.7 667.0,31.7 667.4,31.6 667.8,31.6 668.2,31.6 668.6,31.6 669.0,31.6 669.4,31.6 669.8,31.6 670.2,31.6 670.6,31.6 671.0,31.6 671.4,31.6 671.8,31.6 672.2,31.6 672.6,31.6 673.0,31.5 673.4,31.5 673.8,31.5 674.2,31.5 674.6,31.5 675.0,31.5 675.5,31.5" fill="none" stroke="#999" stroke-width="0.9" stroke-dasharray="1 1.6"/>
<polyline points="474.4,29.0 474.7,28.5 474.9,28.7 475.1,29.1 475.3,28.8 475.5,29.7 475.7,32.2 475.9,32.3 476.1,32.9 476.3,32.1 476.5,32.5 476.7,31.6 476.9,29.8 477.1,29.3 477.3,28.8 477.5,29.6 477.7,30.7 477.9,30.5 478.1,31.3 478.3,30.7 478.5,31.0 478.7,30.9 478.9,31.3 479.1,30.3 479.3,29.6 479.5,30.4 479.7,30.8 479.9,31.7 480.1,32.1 480.3,33.2 480.5,32.2 480.7,30.6 480.9,29.6 481.1,30.9 481.3,31.4 481.5,33.4 481.7,33.6 481.9,34.0 482.1,33.8 482.3,33.2 482.5,33.3 482.7,33.1 482.9,32.9 483.1,32.8 483.3,32.4 483.5,31.5 483.7,31.9 483.9,32.0 484.1,31.9 484.3,31.9 484.5,31.0 484.7,32.2 484.9,31.5 485.1,31.9 485.3,32.3 485.5,32.4 485.7,31.3 485.9,31.4 486.1,29.8 486.3,30.1 486.5,30.9 486.7,30.8 486.9,30.9 487.1,29.9 487.3,29.0 487.5,29.6 487.7,30.6 487.9,31.9 488.1,32.3 488.3,31.9 488.5,33.2 488.7,32.6 488.9,32.9 489.1,32.1 489.3,31.2 489.5,30.9 489.7,31.4 489.9,31.8 490.1,32.8 490.3,32.3 490.5,32.2 490.7,31.7 490.9,31.1 491.1,31.3 491.3,31.9 491.5,33.0 491.7,32.6 491.9,32.4 492.1,32.3 492.3,31.1 492.5,30.1 492.7,30.0 492.9,29.3 493.1,28.8 493.3,28.6 493.5,29.5 493.7,29.1 493.9,29.2 494.1,28.0 494.3,28.3 494.6,27.9 494.8,28.7 495.0,29.5 495.2,30.2 495.4,30.1 495.6,30.3 495.8,30.3 496.0,30.0 496.2,31.3 496.4,30.7 496.6,29.5 496.8,29.5 497.0,29.3 497.2,29.2 497.4,29.8 497.6,29.6 497.8,31.0 498.0,30.9 498.2,32.0 498.4,31.9 498.6,32.9 498.8,31.9 499.0,31.2 499.2,30.9 499.4,32.1 499.6,31.4 499.8,33.1 500.0,32.9 500.2,32.3 500.4,30.7 500.6,30.6 500.8,30.3 501.0,30.9 501.2,31.2 501.4,31.5 501.6,31.5 501.8,31.3 502.0,30.5 502.2,30.1 502.4,28.9 502.6,28.3 502.8,28.5 503.0,28.4 503.2,28.5 503.4,29.3 503.6,29.7 503.8,29.9 504.0,31.2 504.2,31.8 504.4,31.7 504.6,31.6 504.8,30.1 505.0,30.6 505.2,30.0 505.4,30.6 505.6,31.0 505.8,31.3 506.0,30.6 506.2,28.9 506.4,28.3 506.6,28.9 506.8,28.9 507.0,29.1 507.2,28.3 507.4,29.3 507.6,28.9 507.8,29.6 508.0,31.2 508.2,31.7 508.4,33.4 508.6,32.1 508.8,30.4 509.0,29.1 509.2,29.2 509.4,30.9 509.6,31.7 509.8,32.5 510.0,32.0 510.2,31.4 510.4,31.4 510.6,32.1 510.8,31.7 511.0,31.1 511.2,31.9 511.4,31.1 511.6,30.7 511.8,30.4 512.0,29.1 512.2,30.3 512.4,31.6 512.6,32.8 512.8,33.4 513.0,33.9 513.2,34.5 513.4,34.1 513.6,34.1 513.8,33.4 514.0,35.2 514.2,39.6 514.4,44.8 514.6,49.6 514.9,53.7 515.1,55.0 515.3,57.5 515.5,53.5 515.7,49.8 515.9,46.1 516.1,44.5 516.3,42.9 516.5,50.7 516.7,60.4 516.9,64.7 517.1,68.2 517.3,66.9 517.5,66.3 517.7,65.9 517.9,65.6 518.1,65.2 518.3,64.9 518.5,63.2 518.7,63.8 518.9,62.0 519.1,60.2 519.3,60.8 519.5,61.6 519.7,62.7 519.9,63.7 520.1,64.2 520.3,64.4 520.5,64.4 520.7,63.9 520.9,64.3 521.1,64.2 521.3,66.2 521.5,65.8 521.7,65.3 521.9,64.9 522.1,64.7 522.3,63.8 522.5,63.4 522.7,61.6 522.9,61.4 523.1,60.3 523.3,58.3 523.5,58.1 523.7,55.8 523.9,55.4 524.1,55.9 524.3,56.5 524.5,56.5 524.7,56.7 524.9,57.3 525.1,57.5 525.3,56.7 525.5,55.4 525.7,53.6 525.9,53.2 526.1,53.2 526.3,53.1 526.5,53.7 526.7,54.6 526.9,54.0 527.1,53.4 527.3,53.1 527.5,52.8 527.7,53.2 527.9,52.3 528.1,51.6 528.3,52.5 528.5,51.4 528.7,52.2 528.9,52.0 529.1,51.3 529.3,51.2 529.5,52.9 529.7,53.3 529.9,53.0 530.1,53.5 530.3,53.3 530.5,53.6 530.7,54.0 530.9,53.8 531.1,53.3 531.3,53.0 531.5,52.9 531.7,53.4 531.9,52.4 532.1,52.3 532.3,51.4 532.5,51.0 532.7,51.6 532.9,51.7 533.1,52.8 533.3,52.7 533.5,53.5 533.7,53.9 533.9,53.0 534.1,53.3 534.3,51.9 534.5,52.3 534.8,52.4 535.0,51.2 535.2,52.2 535.4,51.0 535.6,51.6 535.8,50.7 536.0,49.7 536.2,49.3 536.4,50.1 536.6,50.5 536.8,51.3 537.0,51.7 537.2,52.6 537.4,52.5 537.6,51.2 537.8,51.4 538.0,49.7 538.2,50.0 538.4,50.1 538.6,51.0 538.8,50.6 539.0,50.6 539.2,51.4 539.4,51.0 539.6,51.9 539.8,52.5 540.0,51.9 540.2,51.6 540.4,51.3 540.6,51.5 540.8,50.6 541.0,49.2 541.2,48.5 541.4,49.6 541.6,49.4 541.8,49.2 542.0,50.1 542.2,51.2 542.4,52.5 542.6,54.5 542.8,51.1 543.0,50.2 543.2,49.6 543.4,50.6 543.6,51.0 543.8,51.6 544.0,52.0 544.2,51.5 544.4,52.2 544.6,51.6 544.8,51.5 545.0,52.3 545.2,52.1 545.4,52.3 545.6,51.0 545.8,51.1 546.0,50.5 546.2,51.0 546.4,51.0 546.6,51.8 546.8,52.0 547.0,52.4 547.2,51.7 547.4,51.7 547.6,52.0 547.8,52.3 548.0,51.7 548.2,51.8 548.4,51.7 548.6,50.9 548.8,50.1 549.0,49.9 549.2,51.0 549.4,51.4 549.6,52.3 549.8,52.3 550.0,51.1 550.2,51.6 550.4,50.7 550.6,49.9 550.8,49.1 551.0,48.9 551.2,48.2 551.4,49.1 551.6,49.6 551.8,49.8 552.0,49.2 552.2,49.0 552.4,47.8 552.6,47.3 552.8,48.3 553.0,48.5 553.2,48.3 553.4,50.0 553.6,50.0 553.8,51.3 554.0,51.8 554.2,51.0 554.4,50.8 554.6,49.1 554.9,49.6 555.1,49.6 555.3,49.1 555.5,49.5 555.7,49.2 555.9,47.5 556.1,47.2 556.3,47.2 556.5,47.1 556.7,46.2 556.9,47.0 557.1,47.0 557.3,48.5 557.5,49.7 557.7,51.4 557.9,49.6 558.1,48.8 558.3,46.6 558.5,45.9 558.7,46.3 558.9,46.5 559.1,46.7 559.3,47.5 559.5,47.2 559.7,48.1 559.9,47.3 560.1,47.8 560.3,45.9 560.5,46.7 560.7,46.3 560.9,47.1 561.1,48.7 561.3,48.6 561.5,47.3 561.7,47.3 561.9,46.9 562.1,46.7 562.3,46.1 562.5,46.8 562.7,45.3 562.9,45.3 563.1,46.0 563.3,45.3 563.5,45.6 563.7,46.1 563.9,46.6 564.1,46.5 564.3,47.2 564.5,46.6 564.7,46.2 564.9,46.0 565.1,46.4 565.3,46.0 565.5,44.8 565.7,45.4 565.9,46.1 566.1,46.7 566.3,47.3 566.5,46.8 566.7,45.9 566.9,46.0 567.1,45.4 567.3,44.2 567.5,45.3 567.7,44.2 567.9,44.4 568.1,45.5 568.3,46.3 568.5,47.5 568.7,47.0 568.9,44.6 569.1,43.8 569.3,45.6 569.5,46.2 569.7,47.4 569.9,47.9 570.1,47.7 570.3,47.5 570.5,47.7 570.7,47.4 570.9,47.1 571.1,46.3 571.3,44.9 571.5,43.6 571.7,43.1 571.9,42.6 572.1,42.2 572.3,42.3 572.5,41.6 572.7,42.7 572.9,42.3 573.1,42.9 573.3,43.4 573.5,43.9 573.7,44.3 573.9,43.4 574.1,43.0 574.3,43.5 574.5,44.0 574.7,44.8 575.0,45.8 575.2,45.2 575.4,44.8 575.6,43.8 575.8,43.4 576.0,43.3 576.2,43.8 576.4,44.4 576.6,46.2 576.8,46.3 577.0,45.5 577.2,44.9 577.4,45.3 577.6,44.0 577.8,41.2 578.0,42.1 578.2,41.4 578.4,42.2 578.6,40.9 578.8,41.8 579.0,42.2 579.2,41.8 579.4,42.8 579.6,42.2 579.8,42.6 580.0,43.9 580.2,43.5 580.4,42.4 580.6,42.1 580.8,41.7 581.0,42.3 581.2,43.8 581.4,44.0 581.6,45.4 581.8,44.5 582.0,44.3 582.2,43.2 582.4,43.4 582.6,43.0 582.8,42.9 583.0,43.2 583.2,42.7 583.4,44.2 583.6,44.9 583.8,45.7 584.0,43.7 584.2,41.6 584.4,41.5 584.6,42.2 584.8,42.3 585.0,43.0 585.2,44.3 585.4,43.8 585.6,42.4 585.8,41.7 586.0,41.2 586.2,40.2 586.4,40.8 586.6,40.6 586.8,40.7 587.0,41.2 587.2,40.5 587.4,41.0 587.6,40.5 587.8,40.4 588.0,40.9 588.2,40.5 588.4,41.4 588.6,42.3 588.8,43.5 589.0,44.1 589.2,43.3 589.4,43.6 589.6,44.4 589.8,43.5 590.0,42.9 590.2,42.5 590.4,43.1 590.6,42.3 590.8,42.8 591.0,42.4 591.2,41.5 591.4,39.8 591.6,39.1 591.8,38.9 592.0,39.8 592.2,40.1 592.4,39.6 592.6,40.4 592.8,39.1 593.0,39.6 593.2,39.0 593.4,39.1 593.6,39.6 593.8,39.8 594.0,39.6 594.2,39.7 594.4,39.2 594.6,38.8 594.8,40.3 595.0,41.1 595.3,41.0 595.5,40.4 595.7,39.7 595.9,38.9 596.1,38.5 596.3,37.7 596.5,38.1 596.7,38.0 596.9,38.0 597.1,39.2 597.3,40.1 597.5,41.0 597.7,40.6 597.9,39.3 598.1,38.1 598.3,38.3 598.5,39.0 598.7,38.9 598.9,38.5 599.1,38.6 599.3,38.7 599.5,39.7 599.7,39.1 599.9,38.8 600.1,38.8 600.3,39.6 600.5,39.1 600.7,39.5 600.9,38.8 601.1,37.8 601.3,36.7 601.5,37.7 601.7,39.4 601.9,40.1 602.1,40.0 602.3,41.0 602.5,41.8 602.7,41.9 602.9,41.4 603.1,41.7 603.3,40.8 603.5,40.3 603.7,39.4 603.9,38.5 604.1,37.1 604.3,38.2 604.5,37.9 604.7,38.1 604.9,38.2 605.1,39.3 605.3,40.0 605.5,39.7 605.7,39.4 605.9,39.5 606.1,39.7 606.3,38.2 606.5,38.1 606.7,37.6 606.9,37.8 607.1,37.0 607.3,36.9 607.5,37.4 607.7,38.2 607.9,38.8 608.1,39.4 608.3,39.6 608.5,40.6 608.7,39.0 608.9,38.1 609.1,37.0 609.3,36.9 609.5,37.8 609.7,37.8 609.9,37.8 610.1,37.2 610.3,36.4 610.5,36.8 610.7,37.8 610.9,37.5 611.1,38.8 611.3,38.9 611.5,39.0 611.7,39.5 611.9,39.6 612.1,38.8 612.3,38.1 612.5,36.3 612.7,36.5 612.9,36.8 613.1,37.7 613.3,37.3 613.5,37.4 613.7,37.6 613.9,38.6 614.1,39.4 614.3,38.4 614.5,38.3 614.7,37.2 614.9,37.4 615.1,36.1 615.4,36.1 615.6,34.8 615.8,35.5 616.0,36.7 616.2,36.8 616.4,37.0 616.6,38.2 616.8,37.7 617.0,37.8 617.2,37.4 617.4,37.4 617.6,37.0 617.8,35.0 618.0,35.2 618.2,36.1 618.4,36.9 618.6,38.8 618.8,38.0 619.0,37.9 619.2,37.6 619.4,38.7 619.6,38.0 619.8,38.6 620.0,38.1 620.2,37.0 620.4,35.2 620.6,35.0 620.8,35.4 621.0,36.0 621.2,35.7 621.4,36.7 621.6,36.7 621.8,37.0 622.0,36.3 622.2,36.3 622.4,37.3 622.6,37.5 622.8,38.0 623.0,37.3 623.2,36.9 623.4,36.8 623.6,36.2 623.8,36.7 624.0,36.9 624.2,36.5 624.4,35.9 624.6,35.2 624.8,32.9 625.0,32.4 625.2,34.1 625.4,35.2 625.6,36.9 625.8,34.9 626.0,34.5 626.2,33.7 626.4,33.4 626.6,33.5 626.8,34.2 627.0,33.4 627.2,35.0 627.4,35.4 627.6,35.2 627.8,35.7 628.0,35.8 628.2,35.3 628.4,35.0 628.6,34.5 628.8,34.5 629.0,34.8 629.2,34.6 629.4,34.8 629.6,34.2 629.8,34.3 630.0,33.9 630.2,33.8 630.4,34.6 630.6,34.3 630.8,33.8 631.0,33.1 631.2,33.0 631.4,31.9 631.6,32.4 631.8,34.0 632.0,35.0 632.2,35.1 632.4,35.5 632.6,34.2 632.8,34.6 633.0,34.5 633.2,33.2 633.4,32.4 633.6,32.1 633.8,32.1 634.0,32.7 634.2,33.2 634.4,32.6 634.6,33.0 634.8,31.6 635.0,31.4 635.2,31.0 635.5,32.8 635.7,33.3 635.9,32.8 636.1,32.2 636.3,31.7 636.5,30.5 636.7,30.4 636.9,31.0 637.1,30.4 637.3,29.8 637.5,29.5 637.7,31.3 637.9,32.0 638.1,32.1 638.3,32.8 638.5,32.9 638.7,32.4 638.9,31.8 639.1,31.8 639.3,31.1 639.5,30.8 639.7,32.4 639.9,32.8 640.1,34.0 640.3,32.9 640.5,32.6 640.7,32.4 640.9,32.2 641.1,31.6 641.3,30.8 641.5,30.3 641.7,30.0 641.9,30.6 642.1,31.0 642.3,31.7 642.5,32.8 642.7,32.1 642.9,30.0 643.1,30.8 643.3,31.4 643.5,31.4 643.7,31.6 643.9,32.4 644.1,31.0 644.3,31.3 644.5,29.6 644.7,29.7 644.9,29.9 645.1,31.1 645.3,32.1 645.5,31.9 645.7,33.3 645.9,35.0 646.1,33.6 646.3,31.1 646.5,30.0 646.7,30.7 646.9,31.7 647.1,32.6 647.3,32.9 647.5,32.9 647.7,32.7 647.9,30.7 648.1,30.3 648.3,30.1 648.5,30.9 648.7,31.6 648.9,33.4 649.1,33.9 649.3,34.4 649.5,33.8 649.7,32.3 649.9,30.8 650.1,29.8 650.3,29.5 650.5,30.1 650.7,30.9 650.9,31.1 651.1,30.9 651.3,31.6 651.5,32.5 651.7,32.4 651.9,32.2 652.1,30.6 652.3,30.0 652.5,30.7 652.7,30.5 652.9,31.2 653.1,32.8 653.3,32.4 653.5,32.7 653.7,32.9 653.9,33.2 654.1,32.2 654.3,32.0 654.5,31.7 654.7,31.0 654.9,31.1 655.1,31.8 655.4,31.9 655.6,31.6 655.8,31.2 656.0,32.4 656.2,32.4 656.4,31.9 656.6,30.7 656.8,30.8 657.0,30.5 657.2,31.3 657.4,31.9 657.6,31.5 657.8,31.8 658.0,30.5 658.2,31.1 658.4,31.6 658.6,32.9 658.8,33.6 659.0,34.5 659.2,33.1 659.4,31.5 659.6,29.5 659.8,30.8 660.0,32.5 660.2,33.8 660.4,33.6 660.6,32.7 660.8,31.2 661.0,31.2 661.2,30.2 661.4,31.4 661.6,30.4 661.8,31.7 662.0,32.2 662.2,31.5 662.4,32.1 662.6,32.8 662.8,32.8 663.0,30.7 663.2,28.6 663.4,29.7 663.6,28.8 663.8,29.9 664.0,30.5 664.2,31.1 664.4,30.4 664.6,30.9 664.8,31.5 665.0,30.9 665.2,29.7 665.4,28.8 665.6,29.9 665.8,31.1 666.0,31.6 666.2,32.7 666.4,32.7 666.6,32.1 666.8,31.4 667.0,31.4 667.2,31.2 667.4,31.3 667.6,30.6 667.8,31.3 668.0,31.8 668.2,33.4 668.4,32.8 668.6,32.8 668.8,32.6 669.0,32.3 669.2,32.5 669.4,31.0 669.6,30.9 669.8,30.4 670.0,32.0 670.2,32.1 670.4,32.3 670.6,32.5 670.8,33.3 671.0,33.0 671.2,31.8 671.4,32.6 671.6,33.0 671.8,33.3 672.0,32.3 672.2,31.1 672.4,31.1 672.6,29.3 672.8,30.0 673.0,29.9 673.2,30.3 673.4,31.0 673.6,31.8 673.8,32.2 674.0,33.3 674.2,33.4 674.4,32.4 674.6,31.5 674.8,31.8 675.0,32.2 675.2,33.1 675.5,34.3" fill="none" stroke="#141414" stroke-width="1.0" stroke-linejoin="round"/>
<path d="M175.60,8.60 V81.30 H376.60" fill="none" stroke="#2a2a2a" stroke-width="0.82"/>
<path d="M195.70,81.30 v-3.6 M215.80,81.30 v-3.6 M235.90,81.30 v-3.6 M256.00,81.30 v-3.6 M276.10,81.30 v-3.6 M296.20,81.30 v-3.6 M316.30,81.30 v-3.6 M336.40,81.30 v-3.6 M356.50,81.30 v-3.6 M376.60,81.30 v-3.6 M175.60,44.95 h3.6 M175.60,8.60 h3.6 " fill="none" stroke="#2a2a2a" stroke-width="0.82"/>
<text x="175.6" y="94.7" text-anchor="middle">0</text>
<text x="195.7" y="94.7" text-anchor="middle">1</text>
<text x="215.8" y="94.7" text-anchor="middle">2</text>
<text x="235.9" y="94.7" text-anchor="middle">3</text>
<text x="256.0" y="94.7" text-anchor="middle">4</text>
<text x="276.1" y="94.7" text-anchor="middle">5</text>
<text x="296.2" y="94.7" text-anchor="middle">6</text>
<text x="316.3" y="94.7" text-anchor="middle">7</text>
<text x="336.4" y="94.7" text-anchor="middle">8</text>
<text x="356.5" y="94.7" text-anchor="middle">9</text>
<text x="376.6" y="94.7" text-anchor="middle">10</text>
<text x="170.8" y="84.2" text-anchor="end">50</text>
<text x="170.8" y="48.1" text-anchor="end">100</text>
<text x="170.8" y="12.2" text-anchor="end">150</text>
<text x="276.1" y="110.9" text-anchor="middle"><tspan font-style="italic">t</tspan>/s</text>
<text x="217.3" y="128.1" style="font-size:13.5px">(a)</text>
<text class="cj" transform="translate(236.77,127.70) scale(1.1050,1)" style="font-size:12.72px">改进前电机转速</text>
<text transform="translate(138.8,44.9) rotate(-90)" text-anchor="middle" style="font-size:14.2px"><tspan font-style="italic">n</tspan>/(r·min<tspan font-size="8.8" dy="-4.8">−1</tspan><tspan dy="4.8">)</tspan></text>
<path d="M474.45,8.60 V81.30 H675.45" fill="none" stroke="#2a2a2a" stroke-width="0.82"/>
<path d="M494.55,81.30 v-3.6 M514.65,81.30 v-3.6 M534.75,81.30 v-3.6 M554.85,81.30 v-3.6 M574.95,81.30 v-3.6 M595.05,81.30 v-3.6 M615.15,81.30 v-3.6 M635.25,81.30 v-3.6 M655.35,81.30 v-3.6 M675.45,81.30 v-3.6 M474.45,44.95 h3.6 M474.45,8.60 h3.6 " fill="none" stroke="#2a2a2a" stroke-width="0.82"/>
<text x="474.4" y="94.7" text-anchor="middle">0</text>
<text x="494.6" y="94.7" text-anchor="middle">1</text>
<text x="514.6" y="94.7" text-anchor="middle">2</text>
<text x="534.8" y="94.7" text-anchor="middle">3</text>
<text x="554.9" y="94.7" text-anchor="middle">4</text>
<text x="575.0" y="94.7" text-anchor="middle">5</text>
<text x="595.0" y="94.7" text-anchor="middle">6</text>
<text x="615.1" y="94.7" text-anchor="middle">7</text>
<text x="635.2" y="94.7" text-anchor="middle">8</text>
<text x="655.4" y="94.7" text-anchor="middle">9</text>
<text x="675.5" y="94.7" text-anchor="middle">10</text>
<text x="469.6" y="84.2" text-anchor="end">50</text>
<text x="469.6" y="48.1" text-anchor="end">100</text>
<text x="469.6" y="12.2" text-anchor="end">150</text>
<text x="575.0" y="110.9" text-anchor="middle"><tspan font-style="italic">t</tspan>/s</text>
<text x="515.8" y="128.1" style="font-size:13.5px">(b)</text>
<text class="cj" transform="translate(536.00,127.70) scale(1.1050,1)" style="font-size:12.72px">改进后电机转速</text>
<text transform="translate(437.6,44.9) rotate(-90)" text-anchor="middle" style="font-size:14.2px"><tspan font-style="italic">n</tspan>/(r·min<tspan font-size="8.8" dy="-4.8">−1</tspan><tspan dy="4.8">)</tspan></text>
<path d="M291.1,51.0 H314.5" stroke="#3a3a3a" stroke-width="1.15"/>
<path d="M291.1,65.6 H314.5" stroke="#999" stroke-width="0.9" stroke-dasharray="1 2"/>
<text class="cj" transform="translate(319.80,55.00) scale(1.1050,1)" style="font-size:12.44px">估计速度</text>
<text class="cj" transform="translate(319.80,70.75) scale(1.1050,1)" style="font-size:12.44px">实际速度</text>
<path d="M594.8,52.9 H618.1" stroke="#3a3a3a" stroke-width="1.15"/>
<path d="M594.8,67.5 H618.1" stroke="#999" stroke-width="0.9" stroke-dasharray="1 2"/>
<text class="cj" transform="translate(623.45,56.90) scale(1.1050,1)" style="font-size:12.44px">估计速度</text>
<text class="cj" transform="translate(623.45,72.65) scale(1.1050,1)" style="font-size:12.44px">实际速度</text>
<path d="M224.0,70.0 L217.8,71.0" stroke="#111" stroke-width="1.05" fill="none"/>
<path d="M213.5,71.6 L218.7,68.9 L217.8,71.0 L219.3,72.6 Z" fill="#111"/>
<text x="227.0" y="73.2" text-anchor="start" style="font-size:14px">65 r/min</text>
<path d="M525.8,72.2 L521.4,69.3" stroke="#111" stroke-width="1.05" fill="none"/>
<path d="M517.8,67.0 L523.5,68.5 L521.4,69.3 L521.5,71.6 Z" fill="#111"/>
<text x="527.2" y="76.2" text-anchor="start" style="font-size:14px">73 r/min</text>
<polyline points="175.6,190.4 180.2,163.2 181.2,220.0 184.8,163.2 185.8,220.0 189.5,163.2 190.5,220.0 194.4,163.2 195.4,220.0 199.0,163.2 200.0,220.0 203.8,163.2 204.8,220.0 208.4,163.2 209.4,220.0 213.2,163.2 214.2,220.0 215.0,192.0 221.5,163.2 222.5,220.0 230.6,163.2 231.6,220.0 238.5,163.2 239.5,220.0 246.7,163.2 247.7,220.0 254.2,163.2 255.2,220.0 261.1,163.2 262.1,220.0 268.2,163.2 269.2,220.0 274.5,163.2 275.5,220.0 280.7,163.2 281.7,220.0 287.3,163.2 288.3,220.0 293.9,163.2 294.9,220.0 300.5,163.2 301.5,220.0 307.1,163.2 308.1,220.0 313.7,163.2 314.7,220.0 320.3,163.2 321.3,220.0 326.6,163.2 327.6,220.0 332.4,163.2 333.4,220.0 338.0,163.2 339.0,220.0 343.8,163.2 344.8,220.0 349.2,163.2 350.2,220.0 354.2,163.2 355.2,220.0 359.1,163.2 360.1,220.0 363.7,163.2 364.7,220.0 368.2,163.2 369.2,220.0 372.3,163.2 373.3,220.0 376.6,168.5" fill="none" stroke="#7a7a7a" stroke-width="0.68" stroke-linejoin="miter"/>
<polyline points="175.6,190.4 180.4,163.2 181.4,220.0 185.0,163.2 186.0,220.0 189.7,163.2 190.7,220.0 194.6,163.2 195.6,220.0 199.2,163.2 200.2,220.0 204.0,163.2 205.0,220.0 208.6,163.2 209.6,220.0 213.4,163.2 214.4,220.0 215.2,192.0 221.7,163.2 222.7,220.0 230.8,163.2 231.8,220.0 238.7,163.2 239.7,220.0 246.9,163.2 247.9,220.0 254.4,163.2 255.4,220.0 261.3,163.2 262.3,220.0 268.4,163.2 269.4,220.0 274.7,163.2 275.7,220.0 280.9,163.2 281.9,220.0 287.5,163.2 288.5,220.0 294.1,163.2 295.1,220.0 300.7,163.2 301.7,220.0 307.3,163.2 308.3,220.0 313.9,163.2 314.9,220.0 320.5,163.2 321.5,220.0 326.8,163.2 327.8,220.0 332.6,163.2 333.6,220.0 338.2,163.2 339.2,220.0 344.0,163.2 345.0,220.0 349.4,163.2 350.4,220.0 354.4,163.2 355.4,220.0 359.3,163.2 360.3,220.0 363.9,163.2 364.9,220.0 368.4,163.2 369.4,220.0 372.5,163.2 373.5,220.0 376.6,168.5" fill="none" stroke="#1c1c1c" stroke-width="0.92" stroke-dasharray="4.4 4.2"/>
<polyline points="474.4,187.6 478.7,163.2 479.7,220.0 483.2,163.2 484.2,220.0 487.5,163.2 488.5,220.0 491.6,163.2 492.6,220.0 495.7,163.2 496.7,220.0 499.8,163.2 500.8,220.0 504.3,163.2 505.3,220.0 508.4,163.2 509.4,220.0 512.6,163.2 513.6,220.0 517.0,163.2 518.0,220.0 524.6,163.2 525.6,220.0 531.5,163.2 532.5,220.0 537.8,163.2 538.8,220.0 544.2,163.2 545.2,220.0 550.5,163.2 551.5,220.0 556.8,163.2 557.8,220.0 562.9,163.2 563.9,220.0 569.6,163.2 570.6,220.0 575.4,163.2 576.4,220.0 580.9,163.2 581.9,220.0 586.2,163.2 587.2,220.0 591.1,163.2 592.1,220.0 596.0,163.2 597.0,220.0 601.0,163.2 602.0,220.0 606.0,163.2 607.0,220.0 610.9,163.2 611.9,220.0 615.9,163.2 616.9,220.0 620.8,163.2 621.8,220.0 625.8,163.2 626.8,220.0 630.4,163.2 631.4,220.0 634.8,163.2 635.8,220.0 639.3,163.2 640.3,220.0 643.6,163.2 644.6,220.0 648.0,163.2 649.0,220.0 652.2,163.2 653.2,220.0 656.3,163.2 657.3,220.0 660.4,163.2 661.4,220.0 664.5,163.2 665.5,220.0 668.7,163.2 669.7,220.0 672.8,163.2 673.8,220.0 675.5,198.6" fill="none" stroke="#7a7a7a" stroke-width="0.68" stroke-linejoin="miter"/>
<polyline points="474.4,187.6 479.1,163.2 480.1,220.0 483.6,163.2 484.6,220.0 487.9,163.2 488.9,220.0 492.1,163.2 493.1,220.0 496.1,163.2 497.1,220.0 500.2,163.2 501.2,220.0 504.8,163.2 505.8,220.0 508.8,163.2 509.8,220.0 513.1,163.2 514.1,220.0 517.5,163.2 518.5,220.0 525.1,163.2 526.1,220.0 532.0,163.2 533.0,220.0 538.2,163.2 539.2,220.0 544.7,163.2 545.7,220.0 551.0,163.2 552.0,220.0 557.2,163.2 558.2,220.0 563.4,163.2 564.4,220.0 570.1,163.2 571.1,220.0 575.9,163.2 576.9,220.0 581.4,163.2 582.4,220.0 586.7,163.2 587.7,220.0 591.6,163.2 592.6,220.0 596.5,163.2 597.5,220.0 601.5,163.2 602.5,220.0 606.5,163.2 607.5,220.0 611.4,163.2 612.4,220.0 616.4,163.2 617.4,220.0 621.2,163.2 622.2,220.0 626.2,163.2 627.2,220.0 630.9,163.2 631.9,220.0 635.2,163.2 636.2,220.0 639.8,163.2 640.8,220.0 644.1,163.2 645.1,220.0 648.5,163.2 649.5,220.0 652.7,163.2 653.7,220.0 656.8,163.2 657.8,220.0 660.9,163.2 661.9,220.0 665.0,163.2 666.0,220.0 669.2,163.2 670.2,220.0 673.2,163.2 674.2,220.0 675.5,198.6" fill="none" stroke="#1c1c1c" stroke-width="0.92" stroke-dasharray="4.4 4.2"/>
<path d="M175.60,147.60 V220.40 H376.60" fill="none" stroke="#2a2a2a" stroke-width="0.82"/>
<path d="M195.70,220.40 v-3.6 M215.80,220.40 v-3.6 M235.90,220.40 v-3.6 M256.00,220.40 v-3.6 M276.10,220.40 v-3.6 M296.20,220.40 v-3.6 M316.30,220.40 v-3.6 M336.40,220.40 v-3.6 M356.50,220.40 v-3.6 M376.60,220.40 v-3.6 M175.60,202.20 h3.6 M175.60,184.00 h3.6 M175.60,165.80 h3.6 M175.60,147.60 h3.6 " fill="none" stroke="#2a2a2a" stroke-width="0.82"/>
<text x="175.6" y="234.6" text-anchor="middle">0</text>
<text x="195.7" y="234.6" text-anchor="middle">1</text>
<text x="215.8" y="234.6" text-anchor="middle">2</text>
<text x="235.9" y="234.6" text-anchor="middle">3</text>
<text x="256.0" y="234.6" text-anchor="middle">4</text>
<text x="276.1" y="234.6" text-anchor="middle">5</text>
<text x="296.2" y="234.6" text-anchor="middle">6</text>
<text x="316.3" y="234.6" text-anchor="middle">7</text>
<text x="336.4" y="234.6" text-anchor="middle">8</text>
<text x="356.5" y="234.6" text-anchor="middle">9</text>
<text x="376.6" y="234.6" text-anchor="middle">10</text>
<text x="170.8" y="224.7" text-anchor="end">0</text>
<text x="170.8" y="206.4" text-anchor="end">2</text>
<text x="170.8" y="188.2" text-anchor="end">4</text>
<text x="170.8" y="170.0" text-anchor="end">6</text>
<text x="170.8" y="151.7" text-anchor="end">8</text>
<text x="276.1" y="250.6" text-anchor="middle"><tspan font-style="italic">t</tspan>/s</text>
<text x="203.2" y="266.5" style="font-size:13.5px">(c)</text>
<text class="cj" transform="translate(222.72,266.10) scale(1.1050,1)" style="font-size:12.72px">改进前电机位置跟踪</text>
<text transform="translate(151.4,182.8) rotate(-90)" text-anchor="middle" style="font-size:14.2px"><tspan font-style="italic">θ</tspan>/rad</text>
<path d="M474.45,147.60 V220.40 H675.45" fill="none" stroke="#2a2a2a" stroke-width="0.82"/>
<path d="M494.55,220.40 v-3.6 M514.65,220.40 v-3.6 M534.75,220.40 v-3.6 M554.85,220.40 v-3.6 M574.95,220.40 v-3.6 M595.05,220.40 v-3.6 M615.15,220.40 v-3.6 M635.25,220.40 v-3.6 M655.35,220.40 v-3.6 M675.45,220.40 v-3.6 M474.45,202.20 h3.6 M474.45,184.00 h3.6 M474.45,165.80 h3.6 M474.45,147.60 h3.6 " fill="none" stroke="#2a2a2a" stroke-width="0.82"/>
<text x="474.4" y="234.6" text-anchor="middle">0</text>
<text x="494.6" y="234.6" text-anchor="middle">1</text>
<text x="514.6" y="234.6" text-anchor="middle">2</text>
<text x="534.8" y="234.6" text-anchor="middle">3</text>
<text x="554.9" y="234.6" text-anchor="middle">4</text>
<text x="575.0" y="234.6" text-anchor="middle">5</text>
<text x="595.0" y="234.6" text-anchor="middle">6</text>
<text x="615.1" y="234.6" text-anchor="middle">7</text>
<text x="635.2" y="234.6" text-anchor="middle">8</text>
<text x="655.4" y="234.6" text-anchor="middle">9</text>
<text x="675.5" y="234.6" text-anchor="middle">10</text>
<text x="469.6" y="224.7" text-anchor="end">0</text>
<text x="469.6" y="206.4" text-anchor="end">2</text>
<text x="469.6" y="188.2" text-anchor="end">4</text>
<text x="469.6" y="170.0" text-anchor="end">6</text>
<text x="469.6" y="151.7" text-anchor="end">8</text>
<text x="575.0" y="250.6" text-anchor="middle"><tspan font-style="italic">t</tspan>/s</text>
<text x="501.7" y="266.5" style="font-size:13.5px">(d)</text>
<text class="cj" transform="translate(521.95,266.10) scale(1.1050,1)" style="font-size:12.72px">改进后电机位置跟踪</text>
<text transform="translate(450.2,182.8) rotate(-90)" text-anchor="middle" style="font-size:14.2px"><tspan font-style="italic">θ</tspan>/rad</text>
<polyline points="175.6,322.5 175.7,322.3 175.9,321.9 176.1,321.2 176.3,320.5 176.5,319.9 176.7,319.4 176.9,319.2 177.0,319.3 177.2,319.6 177.4,320.1 177.5,320.6 177.7,321.3 177.9,322.0 178.0,322.7 178.2,323.4 178.4,323.9 178.5,324.4 178.7,324.7 178.9,324.8 179.1,324.6 179.2,324.2 179.4,323.6 179.6,322.8 179.8,322.0 179.9,321.2 180.1,320.4 180.3,319.8 180.4,319.4 180.6,319.2 180.8,319.3 181.0,319.6 181.1,320.1 181.3,320.6 181.5,321.3 181.6,322.0 181.8,322.7 182.0,323.4 182.1,323.9 182.3,324.4 182.5,324.7 182.6,324.8 182.8,324.6 183.0,324.2 183.2,323.6 183.3,322.8 183.5,322.0 183.7,321.2 183.8,320.4 184.0,319.8 184.2,319.4 184.4,319.2 184.5,319.5 184.7,320.1 184.9,320.9 185.1,322.0 185.2,323.1 185.4,323.9 185.6,324.5 185.8,324.8 185.9,324.6 186.1,324.2 186.3,323.6 186.4,322.8 186.6,322.0 186.8,321.2 187.0,320.4 187.2,319.8 187.3,319.4 187.5,319.2 187.7,319.4 187.8,319.8 188.0,320.4 188.2,321.2 188.4,322.0 188.6,322.8 188.7,323.6 188.9,324.2 189.1,324.6 189.2,324.8 189.4,324.6 189.6,324.2 189.8,323.6 189.9,322.8 190.1,322.0 190.3,321.2 190.5,320.4 190.7,319.8 190.8,319.4 191.0,319.2 191.2,319.4 191.4,319.9 191.5,320.6 191.7,321.5 191.9,322.5 192.1,323.4 192.3,324.1 192.4,324.6 192.6,324.8 192.8,324.6 193.0,324.2 193.2,323.6 193.3,322.8 193.5,322.0 193.7,321.2 193.8,320.4 194.0,319.8 194.2,319.4 194.4,319.2 194.5,319.3 194.7,319.6 194.9,320.1 195.0,320.6 195.2,321.3 195.4,322.0 195.5,322.7 195.7,323.4 195.9,323.9 196.0,324.4 196.2,324.7 196.4,324.8 196.6,324.6 196.7,324.2 196.9,323.6 197.1,322.8 197.2,322.0 197.4,321.2 197.6,320.4 197.8,319.8 197.9,319.4 198.1,319.2 198.3,319.4 198.5,319.8 198.6,320.4 198.8,321.1 199.0,322.0 199.1,322.9 199.3,323.8 199.5,324.5 199.7,325.1 199.8,325.5 200.0,325.6 200.2,325.4 200.3,324.7 200.5,323.7 200.7,322.3 200.9,320.8 201.0,319.2 201.2,317.7 201.4,316.3 201.5,315.3 201.7,314.6 201.9,314.4 202.0,314.5 202.2,314.9 202.4,315.5 202.5,316.3 202.7,317.3 202.9,318.5 203.0,319.7 203.2,320.9 203.4,322.1 203.5,323.3 203.7,324.3 203.9,325.1 204.0,325.7 204.2,326.1 204.4,326.2 204.5,326.0 204.7,325.3 204.9,324.2 205.0,322.6 205.2,320.8 205.4,318.7 205.5,316.5 205.7,314.2 205.9,311.9 206.0,309.8 206.2,308.0 206.4,306.5 206.5,305.3 206.7,304.6 206.9,304.4 207.0,304.9 207.2,306.5 207.4,308.9 207.6,312.0 207.7,315.6 207.9,319.4 208.1,323.0 208.2,326.1 208.4,328.5 208.6,330.1 208.8,330.6 208.9,330.3 209.1,329.2 209.3,327.5 209.4,325.2 209.6,322.6 209.8,319.6 210.0,316.6 210.1,313.7 210.3,311.0 210.5,308.8 210.7,307.1 210.8,306.0 211.0,305.6 211.2,306.6 211.3,309.6 211.5,314.1 211.7,319.6 211.8,325.4 212.0,330.9 212.2,335.4 212.3,338.4 212.5,339.4 212.7,339.1 212.8,338.4 213.0,337.3 213.2,335.7 213.4,333.8 213.5,331.6 213.7,329.1 213.9,326.5 214.1,323.8 214.2,321.0 214.4,318.4 214.6,315.9 214.8,313.7 214.9,311.8 215.1,310.2 215.3,309.1 215.5,308.4 215.6,308.1 215.8,308.6 216.0,310.1 216.1,312.3 216.3,315.2 216.5,318.6 216.6,322.0 216.8,325.4 217.0,328.3 217.2,330.6 217.3,332.0 217.5,332.5 217.7,332.2 217.8,331.5 218.0,330.2 218.2,328.6 218.3,326.6 218.5,324.3 218.7,321.9 218.8,319.4 219.0,317.0 219.2,314.7 219.3,312.7 219.5,311.0 219.7,309.8 219.8,309.0 220.0,308.8 220.2,309.2 220.3,310.6 220.5,312.7 220.7,315.5 220.9,318.7 221.0,322.0 221.2,325.1 221.4,327.9 221.5,330.0 221.7,331.4 221.9,331.9 222.0,331.7 222.2,331.2 222.4,330.3 222.6,329.1 222.7,327.7 222.9,326.0 223.1,324.2 223.2,322.2 223.4,320.3 223.6,318.3 223.7,316.5 223.9,314.8 224.1,313.4 224.2,312.2 224.4,311.3 224.6,310.8 224.8,310.6 224.9,311.3 225.1,313.3 225.2,316.2 225.4,319.9 225.6,323.8 225.8,327.5 225.9,330.5 226.1,332.4 226.2,333.1 226.4,332.9 226.6,332.2 226.8,331.2 226.9,329.7 227.1,328.0 227.3,326.0 227.5,323.8 227.6,321.6 227.8,319.3 228.0,317.1 228.1,315.1 228.3,313.4 228.5,311.9 228.7,310.9 228.8,310.2 229.0,310.0 229.2,310.3 229.3,311.2 229.5,312.7 229.7,314.6 229.9,316.9 230.0,319.3 230.2,321.9 230.4,324.4 230.6,326.7 230.7,328.6 230.9,330.0 231.1,330.9 231.2,331.2 231.4,331.0 231.6,330.4 231.8,329.3 231.9,327.9 232.1,326.2 232.2,324.3 232.4,322.3 232.6,320.2 232.8,318.2 232.9,316.2 233.1,314.6 233.2,313.2 233.4,312.1 233.6,311.5 233.8,311.2 233.9,311.7 234.1,312.8 234.3,314.7 234.4,317.1 234.6,319.8 234.8,322.7 234.9,325.4 235.1,327.8 235.3,329.7 235.5,330.8 235.6,331.2 235.8,331.0 236.0,330.4 236.1,329.3 236.3,327.8 236.5,326.1 236.6,324.1 236.8,322.0 237.0,319.9 237.1,317.8 237.3,315.8 237.5,314.0 237.6,312.6 237.8,311.5 238.0,310.9 238.1,310.6 238.3,311.0 238.5,312.3 238.6,314.2 238.8,316.7 239.0,319.5 239.1,322.4 239.3,325.2 239.5,327.7 239.7,329.6 239.8,330.8 240.0,331.2 240.2,331.0 240.3,330.4 240.5,329.3 240.7,327.8 240.8,326.1 241.0,324.1 241.2,322.0 241.3,319.9 241.5,317.8 241.7,315.8 241.8,314.0 242.0,312.6 242.2,311.5 242.3,310.9 242.5,310.6 242.7,311.1 242.8,312.4 243.0,314.4 243.2,317.0 243.4,320.0 243.5,323.1 243.7,326.1 243.9,328.7 244.0,330.8 244.2,332.1 244.4,332.5 244.5,332.3 244.7,331.7 244.9,330.8 245.1,329.6 245.2,328.0 245.4,326.3 245.6,324.3 245.7,322.3 245.9,320.2 246.1,318.2 246.2,316.2 246.4,314.5 246.6,312.9 246.7,311.7 246.9,310.8 247.1,310.2 247.2,310.0 247.4,310.5 247.6,312.1 247.8,314.5 247.9,317.6 248.1,320.9 248.3,324.3 248.5,327.4 248.7,329.8 248.8,331.3 249.0,331.9 249.2,331.6 249.3,330.9 249.5,329.7 249.7,328.2 249.8,326.2 250.0,324.1 250.2,321.8 250.3,319.4 250.5,317.1 250.7,315.0 250.8,313.1 251.0,311.5 251.2,310.3 251.3,309.6 251.5,309.4 251.7,309.8 251.8,310.9 252.0,312.8 252.2,315.2 252.3,317.9 252.5,320.9 252.7,323.9 252.8,326.7 253.0,329.1 253.2,331.0 253.3,332.1 253.5,332.5 253.7,332.3 253.8,331.6 254.0,330.4 254.2,328.9 254.4,327.1 254.5,325.0 254.7,322.7 254.9,320.3 255.0,317.9 255.2,315.6 255.4,313.5 255.6,311.7 255.7,310.2 255.9,309.1 256.1,308.4 256.2,308.1 256.4,308.6 256.6,310.0 256.8,312.1 256.9,314.9 257.1,318.0 257.3,321.3 257.4,324.5 257.6,327.3 257.8,329.4 258.0,330.8 258.1,331.2 258.3,330.9 258.5,329.7 258.7,328.0 258.8,325.6 259.0,322.9 259.2,320.0 259.4,317.1 259.5,314.4 259.7,312.0 259.9,310.3 260.1,309.1 260.2,308.8 260.4,309.1 260.6,310.1 260.8,311.7 260.9,313.9 261.1,316.4 261.3,319.2 261.5,322.1 261.6,324.8 261.8,327.4 262.0,329.5 262.2,331.1 262.3,332.2 262.5,332.5 262.7,332.3 262.8,331.6 263.0,330.5 263.2,329.0 263.3,327.2 263.5,325.2 263.7,323.0 263.8,320.8 264.0,318.6 264.2,316.6 264.3,314.8 264.5,313.3 264.7,312.2 264.8,311.5 265.0,311.2 265.2,311.6 265.3,312.6 265.5,314.3 265.7,316.4 265.9,318.8 266.0,321.2 266.2,323.6 266.4,325.7 266.5,327.4 266.7,328.4 266.9,328.8 267.1,328.5 267.2,327.8 267.4,326.6 267.6,325.2 267.8,323.4 267.9,321.6 268.1,319.7 268.3,318.0 268.5,316.5 268.6,315.3 268.8,314.6 269.0,314.4 269.2,314.6 269.3,315.1 269.5,315.9 269.7,317.1 269.9,318.4 270.0,319.9 270.2,321.4 270.4,322.8 270.6,324.2 270.7,325.3 270.9,326.2 271.1,326.7 271.2,326.9 271.4,326.6 271.6,326.0 271.8,324.9 271.9,323.6 272.1,322.1 272.3,320.4 272.4,318.9 272.6,317.6 272.8,316.5 273.0,315.9 273.1,315.6 273.3,316.5 273.5,318.8 273.7,322.0 273.9,325.2 274.0,327.6 274.2,328.4 274.4,327.9 274.6,326.3 274.8,324.0 274.9,321.4 275.1,319.1 275.3,317.5 275.5,316.9 275.6,317.2 275.8,317.8 276.0,318.9 276.1,320.2 276.3,321.7 276.5,323.3 276.7,324.9 276.8,326.2 277.0,327.2 277.2,327.9 277.3,328.1 277.5,327.6 277.7,326.0 277.8,323.7 278.0,321.2 278.2,319.0 278.4,317.4 278.5,316.8 278.7,317.1 278.9,317.9 279.0,319.0 279.2,320.5 279.4,322.2 279.5,323.8 279.7,325.3 279.9,326.5 280.1,327.3 280.2,327.5 280.4,327.0 280.6,325.5 280.8,323.5 280.9,321.1 281.1,319.0 281.3,317.6 281.5,317.1 281.6,317.4 281.8,318.2 282.0,319.4 282.2,321.0 282.3,322.8 282.5,324.6 282.7,326.2 282.9,327.5 283.0,328.3 283.2,328.6 283.4,328.1 283.6,327.0 283.7,325.3 283.9,323.3 284.1,321.2 284.2,319.5 284.4,318.4 284.6,318.0 284.7,318.2 284.9,318.7 285.1,319.6 285.2,320.7 285.4,321.9 285.6,323.3 285.8,324.5 285.9,325.6 286.1,326.5 286.3,327.0 286.4,327.2 286.6,326.8 286.8,325.5 287.0,323.7 287.1,321.7 287.3,319.9 287.5,318.7 287.7,318.2 287.8,318.4 288.0,319.0 288.2,319.9 288.4,321.0 288.6,322.3 288.8,323.7 288.9,325.0 289.1,326.2 289.3,327.1 289.5,327.6 289.7,327.8 289.9,327.3 290.0,325.8 290.2,323.7 290.4,321.3 290.6,319.1 290.8,317.6 291.0,317.1 291.2,317.3 291.3,317.9 291.5,318.9 291.7,320.1 291.9,321.5 292.1,323.0 292.2,324.4 292.4,325.6 292.6,326.6 292.8,327.2 293.0,327.4 293.2,326.7 293.3,324.9 293.5,322.4 293.7,319.9 293.9,318.1 294.1,317.5 294.3,317.7 294.5,318.5 294.6,319.7 294.8,321.2 295.0,322.8 295.2,324.5 295.3,326.0 295.5,327.2 295.7,327.9 295.9,328.2 296.1,327.7 296.2,326.2 296.4,324.1 296.6,321.7 296.7,319.6 296.9,318.2 297.1,317.7 297.3,317.9 297.5,318.5 297.6,319.4 297.8,320.6 298.0,322.0 298.2,323.5 298.4,324.8 298.5,326.1 298.7,327.0 298.9,327.6 299.1,327.8 299.3,327.2 299.5,325.4 299.7,323.0 299.9,320.6 300.1,318.9 300.2,318.3 300.4,318.5 300.6,319.0 300.8,319.9 300.9,321.1 301.1,322.4 301.3,323.7 301.4,325.1 301.6,326.2 301.8,327.1 302.0,327.7 302.1,327.9 302.3,327.4 302.5,326.0 302.7,324.0 302.8,321.7 303.0,319.7 303.2,318.3 303.4,317.8 303.6,318.0 303.7,318.6 303.9,319.5 304.1,320.7 304.3,322.1 304.4,323.5 304.6,324.8 304.8,326.0 304.9,327.0 305.1,327.5 305.3,327.7 305.5,327.2 305.7,325.8 305.8,323.6 306.0,321.3 306.2,319.2 306.4,317.7 306.6,317.2 306.7,317.4 306.9,318.2 307.1,319.4 307.3,320.8 307.4,322.5 307.6,324.1 307.8,325.6 308.0,326.8 308.1,327.5 308.3,327.8 308.5,327.3 308.7,325.8 308.9,323.7 309.0,321.3 309.2,319.2 309.4,317.7 309.6,317.2 309.7,317.5 309.9,318.3 310.1,319.5 310.3,321.0 310.5,322.7 310.6,324.4 310.8,325.9 311.0,327.1 311.2,327.9 311.4,328.2 311.5,327.6 311.7,326.0 311.9,323.8 312.1,321.2 312.3,318.9 312.4,317.4 312.6,316.8 312.8,317.1 313.0,317.9 313.2,319.2 313.3,320.8 313.5,322.6 313.7,324.4 313.9,326.0 314.1,327.3 314.3,328.1 314.4,328.4 314.6,327.8 314.8,326.3 314.9,324.1 315.1,321.7 315.3,319.5 315.4,317.9 315.6,317.4 315.8,317.7 316.0,318.5 316.1,319.8 316.3,321.4 316.5,323.1 316.7,324.9 316.9,326.5 317.0,327.8 317.2,328.6 317.4,328.9 317.6,328.3 317.7,326.6 317.9,324.2 318.1,321.5 318.3,319.1 318.4,317.4 318.6,316.8 318.8,317.0 318.9,317.8 319.1,318.9 319.3,320.3 319.4,322.0 319.6,323.7 319.8,325.4 319.9,326.8 320.1,328.0 320.3,328.7 320.4,328.9 320.6,328.4 320.8,326.8 321.0,324.5 321.1,322.0 321.3,319.7 321.5,318.1 321.7,317.6 321.8,317.8 322.0,318.5 322.2,319.5 322.3,320.9 322.5,322.4 322.7,324.0 322.9,325.6 323.0,326.9 323.2,328.0 323.4,328.7 323.5,328.9 323.7,328.3 323.9,326.7 324.1,324.3 324.3,321.7 324.5,319.3 324.7,317.7 324.9,317.1 325.0,317.4 325.2,318.2 325.4,319.5 325.6,321.1 325.7,322.8 325.9,324.6 326.1,326.2 326.2,327.4 326.4,328.2 326.6,328.5 326.8,327.9 326.9,326.3 327.1,324.0 327.3,321.4 327.4,319.0 327.6,317.4 327.8,316.8 328.0,317.1 328.1,317.8 328.3,318.8 328.5,320.2 328.7,321.8 328.9,323.5 329.0,325.0 329.2,326.4 329.4,327.5 329.6,328.2 329.8,328.4 329.9,327.9 330.1,326.5 330.3,324.4 330.5,322.0 330.7,319.9 330.8,318.5 331.0,318.0 331.2,318.2 331.4,318.8 331.5,319.7 331.7,320.8 331.9,322.1 332.0,323.5 332.2,324.9 332.4,326.0 332.6,326.9 332.7,327.5 332.9,327.7 333.1,327.2 333.3,325.8 333.4,323.8 333.6,321.5 333.8,319.5 334.0,318.1 334.2,317.6 334.3,317.8 334.5,318.4 334.7,319.3 334.9,320.5 335.0,321.8 335.2,323.2 335.4,324.6 335.6,325.8 335.7,326.7 335.9,327.3 336.1,327.5 336.3,326.8 336.5,324.9 336.7,322.3 336.9,319.8 337.1,317.9 337.3,317.2 337.4,317.4 337.6,318.1 337.8,319.1 337.9,320.4 338.1,321.9 338.3,323.5 338.4,325.0 338.6,326.3 338.8,327.3 339.0,328.0 339.1,328.2 339.3,327.7 339.5,326.2 339.7,324.1 339.9,321.8 340.1,319.6 340.2,318.2 340.4,317.7 340.6,317.9 340.8,318.5 341.0,319.4 341.1,320.7 341.3,322.1 341.5,323.5 341.7,324.9 341.8,326.2 342.0,327.1 342.2,327.7 342.4,328.0 342.6,327.4 342.8,326.0 342.9,323.9 343.1,321.6 343.3,319.5 343.5,318.0 343.7,317.5 343.9,317.8 344.1,318.5 344.2,319.6 344.4,321.0 344.6,322.5 344.8,324.1 344.9,325.5 345.1,326.6 345.3,327.3 345.5,327.6 345.6,327.1 345.8,325.8 346.0,324.0 346.2,321.9 346.4,320.1 346.6,318.8 346.8,318.4 347.0,318.6 347.1,319.2 347.3,320.2 347.5,321.4 347.7,322.8 347.8,324.1 348.0,325.4 348.2,326.4 348.4,327.0 348.5,327.2 348.7,326.8 348.9,325.6 349.1,323.8 349.2,321.9 349.4,320.2 349.6,318.9 349.8,318.5 349.9,318.7 350.1,319.1 350.3,319.9 350.4,320.8 350.6,321.9 350.8,323.0 350.9,324.1 351.1,325.1 351.3,325.8 351.4,326.3 351.6,326.4 351.8,326.1 352.0,325.1 352.1,323.7 352.3,322.1 352.5,320.7 352.6,319.7 352.8,319.3 353.0,319.5 353.2,319.9 353.4,320.6 353.5,321.4 353.7,322.4 353.9,323.4 354.1,324.4 354.3,325.2 354.4,325.9 354.6,326.3 354.8,326.5 355.0,326.2 355.2,325.3 355.3,324.1 355.5,322.7 355.7,321.5 355.9,320.7 356.1,320.4 356.2,320.5 356.4,320.8 356.6,321.2 356.8,321.8 356.9,322.5 357.1,323.2 357.3,323.9 357.5,324.5 357.6,325.0 357.8,325.3 358.0,325.4 358.2,325.2 358.4,324.5 358.6,323.5 358.7,322.5 358.9,321.5 359.1,320.8 359.3,320.6 359.5,320.7 359.6,321.1 359.8,321.6 360.0,322.2 360.2,322.9 360.3,323.7 360.5,324.3 360.7,324.8 360.9,325.1 361.0,325.3 361.2,324.9 361.4,324.0 361.6,322.8 361.8,321.6 362.0,320.7 362.2,320.4 362.4,320.5 362.6,320.8 362.7,321.2 362.9,321.8 363.1,322.4 363.3,323.1 363.4,323.7 363.6,324.2 363.8,324.7 364.0,324.9 364.1,325.0 364.3,324.8 364.5,324.2 364.7,323.4 364.9,322.5 365.1,321.6 365.3,321.0 365.5,320.8 365.7,320.9 365.8,321.2 366.0,321.6 366.2,322.2 366.4,322.8 366.6,323.5 366.7,324.1 366.9,324.7 367.1,325.1 367.3,325.4 367.5,325.4 367.6,325.2 367.8,324.4 368.0,323.3 368.2,322.0 368.4,320.9 368.6,320.1 368.8,319.9 368.9,320.0 369.1,320.3 369.3,320.8 369.4,321.5 369.6,322.3 369.8,323.1 369.9,324.0 370.1,324.8 370.3,325.4 370.4,326.0 370.6,326.3 370.8,326.4 371.0,326.0 371.1,324.8 371.3,323.3 371.5,321.7 371.7,320.6 371.9,320.2 372.1,320.3 372.2,320.6 372.4,321.1 372.6,321.8 372.8,322.6 372.9,323.4 373.1,324.1 373.3,324.8 373.4,325.3 373.6,325.6 373.8,325.8 374.0,325.4 374.1,324.6 374.3,323.3 374.5,321.9 374.7,320.6 374.9,319.7 375.1,319.4" fill="none" stroke="#111" stroke-width="1.2" stroke-linejoin="round" stroke-linecap="round"/>
<polyline points="474.1,324.0 474.3,324.3 474.4,325.1 474.6,325.9 474.8,326.2 474.9,326.1 475.1,325.5 475.3,324.7 475.4,323.7 475.6,322.5 475.8,321.3 476.0,320.3 476.1,319.5 476.3,318.9 476.5,318.8 476.7,318.9 476.9,319.5 477.0,320.3 477.2,321.3 477.4,322.5 477.6,323.7 477.7,324.7 477.9,325.5 478.1,326.1 478.2,326.2 478.4,326.1 478.6,325.5 478.8,324.7 478.9,323.7 479.1,322.5 479.3,321.3 479.5,320.3 479.6,319.5 479.8,318.9 480.0,318.8 480.2,319.0 480.4,319.6 480.5,320.6 480.7,321.8 480.9,323.2 481.1,324.4 481.3,325.4 481.4,326.0 481.6,326.2 481.8,326.1 482.0,325.5 482.1,324.7 482.3,323.7 482.5,322.5 482.7,321.3 482.9,320.3 483.0,319.5 483.2,318.9 483.4,318.8 483.6,319.0 483.7,319.6 483.9,320.6 484.1,321.8 484.3,323.2 484.5,324.4 484.6,325.4 484.8,326.0 485.0,326.2 485.2,326.1 485.4,325.5 485.5,324.7 485.7,323.7 485.9,322.5 486.1,321.3 486.2,320.3 486.4,319.5 486.6,318.9 486.8,318.8 486.9,318.9 487.1,319.5 487.3,320.3 487.4,321.3 487.6,322.5 487.8,323.7 488.0,324.7 488.1,325.5 488.3,326.1 488.5,326.2 488.7,326.1 488.9,325.5 489.0,324.7 489.2,323.7 489.4,322.5 489.6,321.3 489.7,320.3 489.9,319.5 490.1,318.9 490.2,318.8 490.4,319.0 490.6,319.6 490.8,320.6 491.0,321.8 491.2,323.2 491.3,324.4 491.5,325.4 491.7,326.0 491.9,326.2 492.1,326.1 492.2,325.5 492.4,324.7 492.6,323.7 492.8,322.5 492.9,321.3 493.1,320.3 493.3,319.5 493.4,318.9 493.6,318.8 493.8,318.9 494.0,319.5 494.1,320.3 494.3,321.3 494.5,322.5 494.7,323.7 494.9,324.7 495.0,325.5 495.2,326.1 495.4,326.2 495.6,326.1 495.7,325.5 495.9,324.7 496.1,323.7 496.2,322.5 496.4,321.3 496.6,320.3 496.8,319.5 496.9,318.9 497.1,318.8 497.3,319.0 497.5,319.6 497.7,320.6 497.8,321.8 498.0,323.2 498.2,324.4 498.4,325.4 498.6,326.0 498.8,326.2 498.9,326.1 499.1,325.5 499.3,324.7 499.4,323.7 499.6,322.5 499.8,321.3 500.0,320.3 500.1,319.5 500.3,318.9 500.5,318.8 500.7,318.9 500.9,319.5 501.0,320.3 501.2,321.3 501.4,322.5 501.6,323.7 501.7,324.7 501.9,325.5 502.1,326.1 502.2,326.2 502.4,326.1 502.6,325.5 502.8,324.7 502.9,323.7 503.1,322.5 503.3,321.3 503.5,320.3 503.6,319.5 503.8,318.9 504.0,318.8 504.2,319.0 504.3,319.8 504.5,321.1 504.7,322.5 504.9,323.9 505.0,325.2 505.2,326.0 505.4,326.2 505.6,326.1 505.7,325.5 505.9,324.7 506.1,323.7 506.2,322.5 506.4,321.3 506.6,320.3 506.8,319.5 506.9,318.9 507.1,318.8 507.3,319.0 507.5,319.8 507.6,321.1 507.8,322.5 508.0,323.9 508.2,325.2 508.3,326.0 508.5,326.2 508.7,326.1 508.9,325.5 509.0,324.7 509.2,323.7 509.4,322.5 509.6,321.3 509.7,320.3 509.9,319.5 510.1,318.9 510.2,318.8 510.4,318.9 510.6,319.4 510.8,320.2 511.0,321.1 511.2,322.1 511.3,323.0 511.5,323.7 511.7,324.2 511.9,324.4 512.1,323.3 512.2,320.3 512.4,316.2 512.6,312.2 512.8,309.2 513.0,308.1 513.2,308.6 513.4,310.0 513.5,312.2 513.7,314.8 513.9,317.7 514.1,320.3 514.3,322.5 514.4,323.9 514.6,324.4 514.8,324.1 515.0,323.4 515.1,322.3 515.3,320.9 515.5,319.3 515.6,317.6 515.8,316.0 516.0,314.5 516.2,313.4 516.3,312.7 516.5,312.5 516.7,312.8 516.8,313.8 517.0,315.3 517.2,317.2 517.4,319.6 517.5,322.1 517.7,324.8 517.9,327.3 518.1,329.7 518.2,331.6 518.4,333.1 518.6,334.1 518.8,334.4 518.9,334.1 519.1,333.5 519.2,332.4 519.4,331.0 519.6,329.2 519.8,327.2 519.9,325.1 520.1,323.0 520.2,320.9 520.4,318.9 520.6,317.2 520.8,315.7 520.9,314.6 521.1,314.0 521.2,313.8 521.4,314.0 521.6,314.9 521.8,316.2 522.0,318.0 522.1,320.0 522.3,322.2 522.5,324.4 522.7,326.4 522.8,328.2 523.0,329.5 523.2,330.3 523.4,330.6 523.6,330.3 523.7,329.5 523.9,328.1 524.1,326.2 524.3,324.1 524.4,321.9 524.6,319.6 524.8,317.5 525.0,315.7 525.1,314.3 525.3,313.4 525.5,313.1 525.7,313.4 525.8,314.1 526.0,315.2 526.2,316.6 526.4,318.4 526.5,320.3 526.7,322.2 526.9,324.1 527.1,325.9 527.2,327.3 527.4,328.4 527.6,329.1 527.8,329.4 527.9,329.1 528.1,328.5 528.3,327.4 528.4,326.0 528.6,324.3 528.8,322.5 529.0,320.6 529.1,318.8 529.3,317.1 529.5,315.7 529.7,314.6 529.8,314.0 530.0,313.8 530.2,313.9 530.3,314.5 530.5,315.3 530.7,316.4 530.8,317.8 531.0,319.4 531.2,321.0 531.3,322.7 531.5,324.4 531.7,325.9 531.8,327.3 532.0,328.4 532.2,329.3 532.3,329.8 532.5,330.0 532.7,329.8 532.8,329.4 533.0,328.6 533.2,327.6 533.3,326.4 533.5,325.0 533.7,323.6 533.8,322.1 534.0,320.6 534.2,319.2 534.3,318.0 534.5,317.0 534.7,316.2 534.8,315.8 535.0,315.6 535.2,316.0 535.3,317.2 535.5,319.1 535.7,321.5 535.9,324.2 536.0,327.0 536.2,329.8 536.4,332.2 536.5,334.0 536.7,335.2 536.9,335.6 537.0,335.3 537.2,334.5 537.4,333.1 537.6,331.3 537.7,329.1 537.9,326.6 538.1,324.1 538.2,321.5 538.4,319.0 538.6,316.9 538.7,315.0 538.9,313.6 539.1,312.8 539.2,312.5 539.4,312.7 539.6,313.4 539.8,314.4 539.9,315.7 540.1,317.3 540.3,319.1 540.5,320.9 540.6,322.7 540.8,324.3 541.0,325.6 541.2,326.6 541.3,327.3 541.5,327.5 541.7,327.3 541.8,326.9 542.0,326.2 542.2,325.2 542.4,324.1 542.5,322.8 542.7,321.5 542.9,320.3 543.1,319.2 543.2,318.2 543.4,317.5 543.6,317.0 543.8,316.9 543.9,317.1 544.1,317.7 544.3,318.7 544.5,320.0 544.6,321.5 544.8,323.1 545.0,324.7 545.2,326.2 545.3,327.5 545.5,328.5 545.7,329.2 545.9,329.4 546.0,329.3 546.2,328.9 546.4,328.4 546.5,327.6 546.7,326.7 546.9,325.7 547.0,324.6 547.2,323.5 547.4,322.4 547.5,321.4 547.7,320.5 547.9,319.8 548.0,319.2 548.2,318.9 548.4,318.8 548.6,318.9 548.7,319.3 548.9,319.9 549.1,320.8 549.3,321.8 549.4,322.8 549.6,323.9 549.8,324.8 550.0,325.7 550.1,326.3 550.3,326.7 550.5,326.9 550.7,326.7 550.8,326.3 551.0,325.7 551.2,324.9 551.4,323.8 551.5,322.8 551.7,321.6 551.9,320.5 552.1,319.5 552.2,318.7 552.4,318.0 552.6,317.6 552.8,317.5 552.9,317.6 553.1,318.1 553.3,318.8 553.4,319.7 553.6,320.7 553.8,321.9 554.0,323.1 554.1,324.3 554.3,325.3 554.5,326.2 554.7,326.9 554.8,327.4 555.0,327.5 555.2,327.3 555.4,326.9 555.5,326.1 555.7,325.2 555.9,324.0 556.1,322.8 556.2,321.6 556.4,320.5 556.6,319.5 556.8,318.8 556.9,318.3 557.1,318.1 557.3,318.3 557.5,318.8 557.6,319.5 557.8,320.5 558.0,321.6 558.1,322.8 558.3,323.9 558.5,324.8 558.7,325.6 558.8,326.1 559.0,326.2 559.2,326.1 559.3,325.6 559.5,324.8 559.7,323.8 559.9,322.6 560.0,321.3 560.2,319.9 560.4,318.6 560.6,317.4 560.7,316.4 560.9,315.6 561.1,315.2 561.2,315.0 561.4,315.1 561.6,315.5 561.8,316.1 561.9,316.9 562.1,317.8 562.2,318.9 562.4,320.0 562.6,321.2 562.8,322.4 562.9,323.4 563.1,324.4 563.2,325.2 563.4,325.8 563.6,326.1 563.8,326.2 563.9,326.1 564.1,325.7 564.3,325.2 564.5,324.4 564.6,323.5 564.8,322.5 565.0,321.5 565.2,320.6 565.3,319.8 565.5,319.3 565.7,318.9 565.9,318.8 566.1,318.9 566.2,319.3 566.4,319.9 566.6,320.8 566.8,321.8 566.9,322.8 567.1,323.9 567.3,324.8 567.5,325.7 567.6,326.3 567.8,326.7 568.0,326.9 568.2,326.8 568.3,326.4 568.5,325.9 568.7,325.3 568.9,324.5 569.0,323.6 569.2,322.7 569.4,321.8 569.6,321.0 569.7,320.3 569.9,319.8 570.1,319.5 570.2,319.4 570.4,319.5 570.6,319.9 570.8,320.6 570.9,321.4 571.1,322.3 571.3,323.3 571.4,324.2 571.6,325.1 571.8,325.7 572.0,326.1 572.1,326.2 572.3,325.9 572.5,325.0 572.6,323.7 572.8,322.3 573.0,321.0 573.2,320.1 573.3,319.7 573.5,319.9 573.7,320.3 573.8,321.1 574.0,322.0 574.2,323.0 574.3,324.1 574.5,325.1 574.7,326.1 574.8,326.8 575.0,327.2 575.2,327.4 575.4,327.0 575.5,325.9 575.7,324.3 575.9,322.5 576.0,320.9 576.2,319.8 576.4,319.4 576.5,319.6 576.7,320.2 576.9,321.1 577.1,322.2 577.2,323.4 577.4,324.7 577.6,325.8 577.8,326.7 578.0,327.2 578.1,327.4 578.3,327.0 578.5,325.9 578.6,324.3 578.8,322.5 579.0,320.9 579.1,319.8 579.3,319.4 579.5,319.6 579.7,320.1 579.9,321.0 580.0,322.1 580.2,323.3 580.4,324.5 580.6,325.6 580.8,326.5 581.0,327.1 581.1,327.3 581.3,326.8 581.5,325.5 581.7,323.7 581.9,321.6 582.1,319.8 582.3,318.5 582.4,318.0 582.6,318.3 582.8,319.1 583.0,320.2 583.1,321.7 583.3,323.4 583.5,325.0 583.7,326.5 583.8,327.7 584.0,328.4 584.2,328.7 584.4,328.1 584.5,326.4 584.7,324.1 584.9,321.4 585.1,319.0 585.2,317.4 585.4,316.8 585.6,317.1 585.8,317.8 585.9,318.9 586.1,320.3 586.3,321.9 586.5,323.6 586.6,325.3 586.8,326.7 587.0,327.8 587.2,328.5 587.3,328.8 587.5,328.3 587.7,326.8 587.9,324.8 588.1,322.5 588.2,320.4 588.4,319.0 588.6,318.4 588.8,318.6 589.0,319.2 589.1,320.1 589.3,321.3 589.5,322.6 589.7,323.9 589.8,325.2 590.0,326.4 590.2,327.3 590.4,327.9 590.5,328.1 590.7,327.6 590.9,326.2 591.1,324.3 591.2,322.1 591.4,320.2 591.6,318.8 591.8,318.3 591.9,318.5 592.1,319.1 592.3,320.0 592.5,321.2 592.7,322.5 592.8,323.9 593.0,325.3 593.2,326.5 593.4,327.4 593.5,328.0 593.7,328.2 593.9,327.7 594.1,326.4 594.2,324.6 594.4,322.5 594.6,320.7 594.7,319.4 594.9,319.0 595.1,319.1 595.3,319.7 595.4,320.5 595.6,321.5 595.8,322.7 596.0,323.9 596.2,325.1 596.3,326.1 596.5,326.9 596.7,327.5 596.9,327.6 597.1,327.2 597.3,325.9 597.4,324.1 597.6,322.1 597.8,320.2 598.0,319.0 598.2,318.5 598.4,318.7 598.5,319.3 598.7,320.3 598.9,321.5 599.1,322.8 599.3,324.1 599.4,325.3 599.6,326.2 599.8,326.8 600.0,327.0 600.1,326.6 600.3,325.5 600.5,323.8 600.7,321.9 600.9,320.3 601.1,319.1 601.3,318.7 601.5,318.9 601.6,319.4 601.8,320.1 602.0,321.2 602.2,322.3 602.3,323.5 602.5,324.6 602.7,325.6 602.9,326.4 603.0,326.9 603.2,327.1 603.4,326.7 603.6,325.6 603.7,324.0 603.9,322.2 604.1,320.7 604.3,319.6 604.4,319.2 604.6,319.3 604.8,319.8 605.0,320.5 605.1,321.5 605.3,322.6 605.5,323.7 605.6,324.8 605.8,325.8 606.0,326.5 606.1,327.0 606.3,327.2 606.5,326.7 606.7,325.6 606.8,324.0 607.0,322.1 607.2,320.5 607.4,319.4 607.5,319.0 607.7,319.2 607.9,319.8 608.1,320.7 608.2,321.8 608.4,323.1 608.6,324.4 608.8,325.6 608.9,326.5 609.1,327.1 609.3,327.3 609.5,326.9 609.7,325.7 609.8,324.1 610.0,322.2 610.2,320.6 610.4,319.4 610.6,319.0 610.8,319.2 610.9,319.8 611.1,320.7 611.3,321.8 611.4,323.1 611.6,324.4 611.8,325.6 612.0,326.5 612.1,327.1 612.3,327.3 612.5,326.9 612.7,325.8 612.8,324.2 613.0,322.5 613.2,321.0 613.4,319.9 613.6,319.5 613.7,319.7 613.9,320.2 614.1,321.0 614.3,321.9 614.4,323.0 614.6,324.1 614.8,325.1 615.0,325.9 615.1,326.4 615.3,326.6 615.5,326.2 615.6,325.2 615.8,323.7 616.0,322.0 616.1,320.5 616.3,319.4 616.5,319.1 616.6,319.3 616.8,319.8 617.0,320.7 617.2,321.7 617.4,322.9 617.5,324.1 617.7,325.2 617.9,326.0 618.1,326.6 618.2,326.8 618.4,326.4 618.6,325.4 618.7,323.9 618.9,322.3 619.1,320.8 619.3,319.8 619.4,319.4 619.6,319.6 619.8,320.1 620.0,320.8 620.1,321.8 620.3,322.9 620.5,324.1 620.7,325.2 620.8,326.2 621.0,326.9 621.2,327.4 621.4,327.6 621.5,327.1 621.7,325.9 621.9,324.2 622.0,322.3 622.2,320.5 622.4,319.3 622.6,318.9 622.7,319.1 622.9,319.7 623.1,320.6 623.2,321.7 623.4,323.0 623.6,324.3 623.8,325.4 623.9,326.3 624.1,326.9 624.3,327.1 624.4,326.7 624.6,325.7 624.8,324.2 624.9,322.5 625.1,320.9 625.3,319.9 625.5,319.5 625.6,319.7 625.8,320.1 626.0,320.9 626.1,321.8 626.3,322.9 626.5,324.0 626.6,325.0 626.8,326.0 627.0,326.7 627.1,327.1 627.3,327.3 627.5,326.9 627.6,325.8 627.8,324.2 628.0,322.5 628.2,320.9 628.3,319.8 628.5,319.4 628.7,319.6 628.9,320.2 629.1,321.2 629.2,322.4 629.4,323.8 629.6,325.2 629.8,326.4 629.9,327.4 630.1,328.0 630.3,328.3 630.5,327.7 630.7,326.3 630.8,324.3 631.0,322.0 631.2,319.9 631.4,318.5 631.6,318.0 631.8,318.2 631.9,318.7 632.1,319.7 632.3,320.8 632.4,322.2 632.6,323.6 632.8,324.9 633.0,326.1 633.1,327.0 633.3,327.6 633.5,327.8 633.6,327.4 633.8,326.1 634.0,324.3 634.2,322.3 634.3,320.5 634.5,319.3 634.7,318.8 634.9,319.0 635.0,319.5 635.2,320.3 635.4,321.3 635.5,322.4 635.7,323.6 635.9,324.8 636.1,325.8 636.2,326.6 636.4,327.1 636.6,327.3 636.7,327.0 636.9,326.1 637.1,324.9 637.2,323.4 637.4,321.9 637.6,320.6 637.7,319.8 637.9,319.5 638.1,319.7 638.3,320.3 638.4,321.2 638.6,322.3 638.8,323.6 639.0,324.8 639.1,326.0 639.3,326.9 639.5,327.4 639.7,327.6 639.8,327.2 640.0,326.1 640.2,324.5 640.4,322.7 640.5,321.1 640.7,320.0 640.9,319.6 641.1,319.8 641.2,320.3 641.4,321.2 641.6,322.3 641.8,323.6 641.9,324.8 642.1,325.9 642.3,326.8 642.5,327.3 642.6,327.5 642.8,327.1 643.0,326.0 643.1,324.5 643.3,322.7 643.5,321.2 643.7,320.1 643.8,319.7 644.0,319.9 644.2,320.3 644.3,321.1 644.5,322.0 644.7,323.1 644.8,324.2 645.0,325.3 645.2,326.3 645.4,327.0 645.5,327.5 645.7,327.6 645.9,327.1 646.1,325.5 646.3,323.4 646.5,321.3 646.6,319.8 646.8,319.2 647.0,319.5 647.2,320.1 647.4,321.0 647.5,322.2 647.7,323.5 647.9,324.8 648.1,326.0 648.2,327.0 648.4,327.6 648.6,327.8 648.8,327.4 648.9,326.2 649.1,324.6 649.3,322.8 649.5,321.1 649.7,320.0 649.9,319.6 650.0,319.8 650.2,320.4 650.4,321.3 650.6,322.5 650.7,323.7 650.9,325.0 651.1,326.2 651.3,327.1 651.4,327.7 651.6,327.9 651.8,327.5 652.0,326.4 652.1,324.7 652.3,322.9 652.5,321.3 652.7,320.2 652.9,319.7 653.0,319.9 653.2,320.5 653.4,321.4 653.5,322.5 653.7,323.8 653.9,325.0 654.1,326.2 654.2,327.0 654.4,327.6 654.6,327.8 654.8,327.4 655.0,326.3 655.1,324.6 655.3,322.8 655.5,321.2 655.7,320.0 655.8,319.6 656.0,319.8 656.2,320.2 656.4,320.9 656.5,321.8 656.7,322.9 656.9,323.9 657.0,325.0 657.2,325.9 657.4,326.6 657.6,327.0 657.7,327.2 657.9,326.8 658.1,325.7 658.3,324.1 658.5,322.4 658.7,320.8 658.8,319.8 659.0,319.4 659.2,319.5 659.4,320.0 659.6,320.8 659.8,321.7 659.9,322.8 660.1,324.0 660.3,325.1 660.5,326.0 660.7,326.8 660.8,327.3 661.0,327.4 661.2,327.0 661.4,326.0 661.6,324.4 661.8,322.7 662.0,321.1 662.2,320.0 662.3,319.6 662.5,319.8 662.7,320.2 662.9,321.0 663.0,321.9 663.2,323.0 663.4,324.1 663.5,325.2 663.7,326.1 663.9,326.9 664.0,327.3 664.2,327.5 664.4,327.1 664.6,326.0 664.8,324.5 665.0,322.8 665.1,321.2 665.3,320.2 665.5,319.8 665.7,319.9 665.9,320.4 666.0,321.2 666.2,322.2 666.4,323.3 666.6,324.4 666.8,325.6 666.9,326.5 667.1,327.3 667.3,327.8 667.5,328.0 667.6,327.5 667.8,326.4 668.0,324.8 668.2,322.9 668.3,321.3 668.5,320.2 668.7,319.8 668.9,319.9 669.0,320.4 669.2,321.2 669.4,322.1 669.6,323.2 669.8,324.4 669.9,325.5 670.1,326.5 670.3,327.2 670.5,327.7 670.6,327.9 670.8,327.4 671.0,326.2 671.2,324.4 671.4,322.5 671.6,320.7 671.8,319.5 672.0,319.0 672.1,319.2 672.3,319.7 672.5,320.5 672.7,321.5 672.9,322.7 673.0,323.9 673.2,325.0 673.4,326.0 673.6,326.8 673.8,327.3 674.0,327.5 674.1,327.1 674.3,325.8 674.5,324.1 674.6,322.1 674.8,320.4 675.0,319.2 675.2,318.7" fill="none" stroke="#111" stroke-width="1.2" stroke-linejoin="round" stroke-linecap="round"/>
<path d="M175.60,284.60 V357.40 H376.60" fill="none" stroke="#2a2a2a" stroke-width="0.82"/>
<path d="M195.70,357.40 v-3.6 M215.80,357.40 v-3.6 M235.90,357.40 v-3.6 M256.00,357.40 v-3.6 M276.10,357.40 v-3.6 M296.20,357.40 v-3.6 M316.30,357.40 v-3.6 M336.40,357.40 v-3.6 M356.50,357.40 v-3.6 M376.60,357.40 v-3.6 M175.60,321.00 h3.6 M175.60,284.60 h3.6 " fill="none" stroke="#2a2a2a" stroke-width="0.82"/>
<text x="175.6" y="371.6" text-anchor="middle">0</text>
<text x="195.7" y="371.6" text-anchor="middle">1</text>
<text x="215.8" y="371.6" text-anchor="middle">2</text>
<text x="235.9" y="371.6" text-anchor="middle">3</text>
<text x="256.0" y="371.6" text-anchor="middle">4</text>
<text x="276.1" y="371.6" text-anchor="middle">5</text>
<text x="296.2" y="371.6" text-anchor="middle">6</text>
<text x="316.3" y="371.6" text-anchor="middle">7</text>
<text x="336.4" y="371.6" text-anchor="middle">8</text>
<text x="356.5" y="371.6" text-anchor="middle">9</text>
<text x="376.6" y="371.6" text-anchor="middle">10</text>
<text x="170.8" y="361.5" text-anchor="end">−0.25</text>
<text x="170.8" y="325.1" text-anchor="end">0</text>
<text x="170.8" y="288.7" text-anchor="end">0.25</text>
<text x="276.1" y="387.6" text-anchor="middle"><tspan font-style="italic">t</tspan>/s</text>
<text x="203.2" y="404.1" style="font-size:13.5px">(e)</text>
<text class="cj" transform="translate(222.72,403.75) scale(1.1050,1)" style="font-size:12.72px">改进前位置估算误差</text>
<text transform="translate(131.0,319.2) rotate(-90)" text-anchor="middle" style="font-size:14.2px">Δ<tspan font-style="italic">θ</tspan>/rad</text>
<path d="M474.45,284.60 V357.40 H675.45" fill="none" stroke="#2a2a2a" stroke-width="0.82"/>
<path d="M494.55,357.40 v-3.6 M514.65,357.40 v-3.6 M534.75,357.40 v-3.6 M554.85,357.40 v-3.6 M574.95,357.40 v-3.6 M595.05,357.40 v-3.6 M615.15,357.40 v-3.6 M635.25,357.40 v-3.6 M655.35,357.40 v-3.6 M675.45,357.40 v-3.6 M474.45,321.00 h3.6 M474.45,284.60 h3.6 " fill="none" stroke="#2a2a2a" stroke-width="0.82"/>
<text x="474.4" y="371.6" text-anchor="middle">0</text>
<text x="494.6" y="371.6" text-anchor="middle">1</text>
<text x="514.6" y="371.6" text-anchor="middle">2</text>
<text x="534.8" y="371.6" text-anchor="middle">3</text>
<text x="554.9" y="371.6" text-anchor="middle">4</text>
<text x="575.0" y="371.6" text-anchor="middle">5</text>
<text x="595.0" y="371.6" text-anchor="middle">6</text>
<text x="615.1" y="371.6" text-anchor="middle">7</text>
<text x="635.2" y="371.6" text-anchor="middle">8</text>
<text x="655.4" y="371.6" text-anchor="middle">9</text>
<text x="675.5" y="371.6" text-anchor="middle">10</text>
<text x="469.6" y="361.5" text-anchor="end">−0.25</text>
<text x="469.6" y="325.1" text-anchor="end">0</text>
<text x="469.6" y="288.7" text-anchor="end">0.25</text>
<text x="575.0" y="387.6" text-anchor="middle"><tspan font-style="italic">t</tspan>/s</text>
<text x="502.8" y="404.1" style="font-size:13.5px">(f)</text>
<text class="cj" transform="translate(520.82,403.75) scale(1.1050,1)" style="font-size:12.72px">改进后位置估算误差</text>
<text transform="translate(429.8,319.2) rotate(-90)" text-anchor="middle" style="font-size:14.2px">Δ<tspan font-style="italic">θ</tspan>/rad</text>
<path d="M224.7,344.4 L219.0,342.2" stroke="#111" stroke-width="1.05" fill="none"/>
<path d="M215.0,340.6 L220.9,340.9 L219.0,342.2 L219.5,344.4 Z" fill="#111"/>
<text x="228.2" y="348.7" text-anchor="start" style="font-size:14px">0.160 rad</text>
<path d="M547.5,342.2 L541.5,339.3" stroke="#111" stroke-width="1.05" fill="none"/>
<path d="M537.6,337.4 L543.5,338.1 L541.5,339.3 L541.8,341.6 Z" fill="#111"/>
<text x="551.0" y="346.8" text-anchor="start" style="font-size:14px">0.100 rad</text>
<polyline points="175.6,457.2 175.7,461.7 175.8,455.8 175.8,461.2 175.9,454.3 176.0,461.3 176.1,456.7 176.2,462.5 176.2,456.6 176.3,462.3 176.4,457.1 176.5,462.9 176.6,457.0 176.6,461.5 176.7,456.3 176.8,462.8 176.9,455.8 177.0,463.1 177.0,455.8 177.1,461.9 177.2,456.4 177.3,462.6 177.4,456.7 177.4,462.8 177.5,455.5 177.6,462.6 177.7,456.2 177.8,464.7 177.9,456.7 177.9,461.7 178.0,456.6 178.1,462.1 178.2,456.2 178.3,461.6 178.3,455.7 178.4,462.6 178.5,455.6 178.6,461.7 178.7,456.0 178.7,462.4 178.8,456.5 178.9,462.0 179.0,455.6 179.1,462.3 179.1,455.5 179.2,462.1 179.3,455.6 179.4,462.8 179.5,455.7 179.5,462.9 179.6,455.9 179.7,462.1 179.8,454.1 179.9,462.8 179.9,457.0 180.0,462.0 180.1,456.8 180.2,465.0 180.3,455.5 180.3,461.8 180.4,455.7 180.5,462.7 180.6,455.9 180.7,464.1 180.7,455.6 180.8,462.1 180.9,455.8 181.0,462.1 181.1,455.5 181.1,462.5 181.2,456.9 181.3,461.5 181.4,455.6 181.5,463.7 181.5,456.5 181.6,461.3 181.7,456.0 181.8,462.8 181.9,455.5 182.0,461.6 182.0,453.2 182.1,461.5 182.2,456.5 182.3,461.9 182.4,456.1 182.4,462.2 182.5,456.2 182.6,462.2 182.7,455.4 182.8,461.7 182.8,456.8 182.9,462.8 183.0,456.6 183.1,462.5 183.2,455.4 183.2,461.3 183.3,455.7 183.4,461.2 183.5,456.2 183.6,462.0 183.6,455.9 183.7,462.7 183.8,457.1 183.9,461.3 184.0,456.0 184.0,462.6 184.1,456.9 184.2,462.4 184.3,456.9 184.4,462.1 184.4,455.3 184.5,462.8 184.6,455.9 184.7,462.1 184.8,455.4 184.8,462.6 184.9,457.2 185.0,462.5 185.1,456.1 185.2,462.1 185.2,456.4 185.3,461.9 185.4,456.7 185.5,462.7 185.6,455.8 185.7,461.5 185.7,455.7 185.8,462.7 185.9,455.8 186.0,461.6 186.1,456.6 186.1,461.7 186.2,453.1 186.3,463.0 186.4,456.0 186.5,461.5 186.5,456.9 186.6,461.9 186.7,457.0 186.8,462.2 186.9,456.7 186.9,461.4 187.0,456.8 187.1,461.8 187.2,455.9 187.3,461.8 187.3,456.2 187.4,461.8 187.5,457.0 187.6,461.4 187.7,456.7 187.7,461.6 187.8,457.1 187.9,462.7 188.0,456.2 188.1,461.7 188.1,455.6 188.2,461.9 188.3,456.8 188.4,461.9 188.5,455.9 188.5,463.7 188.6,456.7 188.7,462.9 188.8,456.1 188.9,462.7 188.9,455.4 189.0,461.7 189.1,456.1 189.2,461.5 189.3,455.3 189.3,462.8 189.4,455.9 189.5,461.6 189.6,455.3 189.7,461.3 189.8,456.4 189.8,463.1 189.9,456.6 190.0,462.7 190.1,455.3 190.2,462.6 190.2,456.6 190.3,463.1 190.4,456.4 190.5,463.6 190.6,456.9 190.6,465.0 190.7,455.7 190.8,461.3 190.9,455.9 191.0,461.6 191.0,456.2 191.1,462.2 191.2,457.0 191.3,462.8 191.4,455.3 191.4,462.4 191.5,456.4 191.6,462.5 191.7,456.4 191.8,462.4 191.8,456.3 191.9,461.5 192.0,455.5 192.1,463.8 192.2,457.0 192.2,461.3 192.3,456.3 192.4,461.5 192.5,455.8 192.6,461.3 192.6,457.2 192.7,461.4 192.8,455.6 192.9,462.6 193.0,454.1 193.0,462.8 193.1,456.7 193.2,462.2 193.3,456.1 193.4,461.8 193.4,456.5 193.5,461.7 193.6,457.0 193.7,462.7 193.8,453.6 193.9,461.2 193.9,456.7 194.0,461.7 194.1,455.6 194.2,462.2 194.3,456.3 194.3,461.7 194.4,456.0 194.5,463.0 194.6,455.2 194.7,461.3 194.7,456.1 194.8,461.3 194.9,453.4 195.0,462.5 195.1,456.4 195.1,461.8 195.2,457.1 195.3,463.0 195.4,455.4 195.5,463.1 195.5,455.3 195.6,461.3 195.7,455.4 195.8,461.3 195.9,453.9 195.9,462.7 196.0,455.4 196.1,462.7 196.2,455.4 196.3,462.7 196.3,455.4 196.4,461.3 196.5,455.8 196.6,462.9 196.7,455.4 196.7,461.3 196.8,453.5 196.9,462.4 197.0,456.7 197.1,464.0 197.1,455.5 197.2,463.2 197.3,455.8 197.4,463.1 197.5,456.9 197.5,462.1 197.6,457.0 197.7,461.6 197.8,456.1 197.9,462.6 198.0,456.6 198.0,462.5 198.1,455.4 198.2,462.7 198.3,456.0 198.4,462.6 198.4,456.5 198.5,462.5 198.6,455.8 198.7,461.3 198.8,457.1 198.8,461.9 198.9,455.5 199.0,462.1 199.1,455.4 199.2,464.8 199.2,456.6 199.3,463.0 199.4,456.4 199.5,462.2 199.6,455.6 199.6,461.9 199.7,457.2 199.8,462.4 199.9,456.5 200.0,462.1 200.0,456.6 200.1,462.5 200.2,456.2 200.3,462.9 200.4,456.4 200.4,461.7 200.5,456.1 200.6,462.8 200.7,455.3 200.8,461.8 200.8,457.0 200.9,462.0 201.0,455.7 201.1,462.4 201.2,455.6 201.2,462.3 201.3,453.8 201.4,462.5 201.5,455.5 201.6,462.2 201.6,456.6 201.7,461.3 201.8,455.8 201.9,461.6 202.0,456.7 202.1,462.4 202.1,457.0 202.2,462.3 202.3,457.8 202.4,463.4 202.5,457.6 202.5,465.8 202.6,458.6 202.7,462.9 202.8,455.8 202.9,463.3 202.9,456.5 203.0,461.4 203.1,456.5 203.2,461.6 203.3,454.2 203.3,458.4 203.4,453.0 203.5,459.2 203.6,455.9 203.7,461.3 203.7,457.4 203.8,463.1 203.9,457.6 204.0,465.1 204.1,460.9 204.1,469.7 204.2,465.1 204.3,469.8 204.4,461.7 204.5,467.5 204.5,458.8 204.6,465.4 204.7,457.0 204.8,463.6 204.9,454.6 204.9,457.6 205.0,450.1 205.1,457.4 205.2,451.9 205.3,460.6 205.3,457.3 205.4,463.4 205.5,458.4 205.6,465.2 205.7,458.6 205.8,469.8 205.8,465.4 205.9,474.0 206.0,467.3 206.1,470.2 206.2,446.9 206.2,464.2 206.3,457.3 206.4,466.4 206.5,457.7 206.6,463.6 206.6,451.0 206.7,454.5 206.8,445.3 206.9,453.6 207.0,449.5 207.0,460.7 207.1,456.5 207.2,463.3 207.3,457.1 207.4,467.2 207.4,463.9 207.5,473.8 207.6,469.5 207.7,475.0 207.8,444.0 207.8,470.7 207.9,459.5 208.0,466.1 208.1,459.1 208.2,464.2 208.2,457.7 208.3,461.6 208.4,451.5 208.5,458.0 208.6,450.3 208.6,461.5 208.7,456.3 208.8,464.6 208.9,458.6 209.0,466.0 209.0,459.9 209.1,470.4 209.2,468.1 209.3,479.1 209.4,473.8 209.4,479.2 209.5,466.5 209.6,470.5 209.7,460.7 209.8,440.4 209.9,458.7 209.9,463.7 210.0,451.4 210.1,454.5 210.2,445.3 210.3,453.2 210.3,449.7 210.4,462.4 210.5,457.8 210.6,465.9 210.7,458.7 210.7,468.4 210.8,463.2 210.9,472.7 211.0,470.0 211.1,477.9 211.1,468.1 211.2,473.4 211.3,462.9 211.4,437.5 211.5,459.0 211.5,466.4 211.6,457.9 211.7,461.5 211.8,447.4 211.9,453.0 211.9,445.4 212.0,453.4 212.1,451.0 212.2,463.0 212.3,459.6 212.3,466.4 212.4,459.5 212.5,471.0 212.6,464.6 212.7,475.8 212.7,470.8 212.8,434.9 212.9,486.1 213.0,471.0 213.1,461.4 213.1,467.3 213.2,460.0 213.3,466.5 213.4,457.1 213.5,459.4 213.5,448.4 213.6,455.9 213.7,451.1 213.8,461.8 213.9,458.0 214.0,466.6 214.0,461.8 214.1,469.4 214.2,463.2 214.3,474.9 214.4,473.2 214.4,483.5 214.5,476.9 214.6,480.7 214.7,466.8 214.8,470.8 214.8,461.5 214.9,467.1 215.0,477.3 215.1,464.7 215.2,454.3 215.2,457.1 215.3,446.2 215.4,457.0 215.5,452.2 215.6,462.5 215.6,458.8 215.7,466.7 215.8,458.6 215.9,467.4 216.0,463.6 216.0,473.6 216.1,470.2 216.2,446.2 216.3,467.1 216.4,469.7 216.4,461.1 216.5,466.2 216.6,457.5 216.7,462.8 216.8,454.0 216.8,456.6 216.9,446.4 217.0,450.5 217.1,444.7 217.2,454.4 217.2,452.5 217.3,461.2 217.4,475.1 217.5,464.5 217.6,458.1 217.6,465.7 217.7,461.0 217.8,468.4 217.9,462.0 218.0,466.4 218.1,459.3 218.1,463.4 218.2,457.3 218.3,462.8 218.4,457.8 218.5,462.8 218.5,456.5 218.6,463.5 218.7,453.1 218.8,460.6 218.9,455.4 218.9,461.7 219.0,457.0 219.1,462.9 219.2,456.4 219.3,463.0 219.3,459.2 219.4,465.0 219.5,462.3 219.6,471.0 219.7,468.7 219.7,474.0 219.8,468.3 219.9,471.2 220.0,462.0 220.1,466.2 220.1,458.9 220.2,465.3 220.3,456.9 220.4,461.6 220.5,455.8 220.5,461.7 220.6,457.2 220.7,461.4 220.8,455.8 220.9,462.5 220.9,456.3 221.0,462.6 221.1,457.0 221.2,462.1 221.3,455.8 221.3,461.4 221.4,457.2 221.5,462.6 221.6,455.7 221.7,461.3 221.7,456.7 221.8,462.0 221.9,456.3 222.0,462.1 222.1,456.5 222.2,460.5 222.2,454.4 222.3,459.2 222.4,451.1 222.5,453.8 222.6,446.5 222.6,450.8 222.7,445.5 222.8,450.8 222.9,449.0 223.0,455.5 223.0,454.1 223.1,460.5 223.2,455.1 223.3,462.0 223.4,455.9 223.4,460.9 223.5,456.1 223.6,462.3 223.7,457.3 223.8,461.7 223.8,456.9 223.9,462.2 224.0,457.2 224.1,461.4 224.2,456.6 224.2,462.7 224.3,456.8 224.4,461.3 224.5,456.0 224.6,461.5 224.6,456.5 224.7,461.9 224.8,456.5 224.9,462.0 225.0,457.1 225.0,461.2 225.1,457.2 225.2,463.4 225.3,457.9 225.4,464.6 225.4,462.2 225.5,468.1 225.6,466.0 225.7,471.5 225.8,465.3 225.8,469.8 225.9,461.8 226.0,465.6 226.1,458.1 226.2,461.8 226.3,454.2 226.3,461.4 226.4,455.9 226.5,461.8 226.6,457.3 226.7,461.4 226.7,457.2 226.8,461.9 226.9,456.0 227.0,461.5 227.1,456.2 227.1,461.5 227.2,456.2 227.3,462.7 227.4,456.9 227.5,461.1 227.5,457.2 227.6,461.1 227.7,456.4 227.8,462.6 227.9,457.1 227.9,461.0 228.0,456.8 228.1,461.3 228.2,456.5 228.3,460.2 228.3,453.8 228.4,456.5 228.5,445.4 228.6,449.9 228.7,444.4 228.7,448.9 228.8,445.8 228.9,453.2 229.0,452.3 229.1,458.5 229.1,455.3 229.2,461.5 229.3,456.5 229.4,461.3 229.5,455.7 229.5,462.1 229.6,455.8 229.7,462.7 229.8,456.7 229.9,462.4 230.0,457.0 230.0,465.0 230.1,457.3 230.2,461.9 230.3,456.6 230.4,461.2 230.4,456.7 230.5,462.0 230.6,457.2 230.7,461.2 230.8,456.3 230.8,461.0 230.9,456.1 231.0,465.7 231.1,457.3 231.2,461.6 231.2,458.5 231.3,464.0 231.4,462.3 231.5,469.7 231.6,466.4 231.6,473.7 231.7,469.6 231.8,473.3 231.9,464.7 232.0,467.3 232.0,459.8 232.1,463.5 232.2,456.8 232.3,462.3 232.4,455.9 232.4,461.8 232.5,457.3 232.6,461.4 232.7,455.8 232.8,461.7 232.8,457.2 232.9,462.5 233.0,456.4 233.1,461.7 233.2,457.3 233.2,464.2 233.3,456.4 233.4,462.4 233.5,455.9 233.6,462.5 233.6,456.6 233.7,461.9 233.8,457.3 233.9,461.5 234.0,456.8 234.1,462.1 234.1,456.3 234.2,460.8 234.3,454.4 234.4,457.5 234.5,450.2 234.5,453.6 234.6,446.6 234.7,452.0 234.8,448.4 234.9,455.0 234.9,449.1 235.0,458.9 235.1,455.8 235.2,460.8 235.3,456.3 235.3,461.5 235.4,457.4 235.5,462.7 235.6,457.0 235.7,461.3 235.7,457.0 235.8,461.3 235.9,456.2 236.0,462.2 236.1,457.2 236.1,461.9 236.2,457.4 236.3,461.8 236.4,456.6 236.5,461.7 236.5,455.8 236.6,461.2 236.7,457.3 236.8,461.8 236.9,456.0 236.9,461.5 237.0,456.9 237.1,462.3 237.2,457.8 237.3,464.5 237.3,459.8 237.4,467.7 237.5,463.9 237.6,469.8 237.7,463.6 237.7,469.3 237.8,462.0 237.9,465.3 238.0,458.0 238.1,462.3 238.2,457.1 238.2,461.6 238.3,456.6 238.4,461.1 238.5,456.9 238.6,462.4 238.6,456.7 238.7,462.2 238.8,456.2 238.9,462.5 239.0,456.8 239.0,461.5 239.1,457.1 239.2,461.8 239.3,456.7 239.4,461.4 239.4,456.6 239.5,461.4 239.6,456.2 239.7,461.2 239.8,455.7 239.8,461.4 239.9,456.8 240.0,461.8 240.1,455.5 240.2,460.1 240.2,454.1 240.3,457.7 240.4,450.7 240.5,453.2 240.6,446.8 240.6,452.3 240.7,447.5 240.8,455.9 240.9,451.6 241.0,460.1 241.0,455.7 241.1,461.2 241.2,456.5 241.3,464.2 241.4,457.1 241.4,462.2 241.5,456.7 241.6,462.2 241.7,457.4 241.8,462.0 241.8,456.8 241.9,461.4 242.0,457.0 242.1,461.8 242.2,457.1 242.3,461.7 242.3,455.8 242.4,461.0 242.5,457.2 242.6,462.5 242.7,457.0 242.7,462.1 242.8,455.7 242.9,462.6 243.0,457.0 243.1,462.1 243.1,457.2 243.2,468.0 243.3,458.1 243.4,467.9 243.5,465.4 243.5,471.4 243.6,464.7 243.7,469.7 243.8,459.7 243.9,465.0 243.9,457.5 244.0,462.1 244.1,457.4 244.2,461.2 244.3,457.3 244.3,461.7 244.4,455.7 244.5,461.6 244.6,456.6 244.7,462.2 244.7,456.5 244.8,462.6 244.9,457.0 245.0,463.8 245.1,456.7 245.1,461.8 245.2,455.9 245.3,462.3 245.4,456.2 245.5,461.3 245.5,457.4 245.6,461.7 245.7,456.9 245.8,461.4 245.9,457.3 245.9,460.8 246.0,455.1 246.1,460.2 246.2,451.4 246.3,454.3 246.4,446.7 246.4,450.5 246.5,443.0 246.6,449.6 246.7,447.8 246.8,455.7 246.8,453.7 246.9,459.7 247.0,452.3 247.1,462.2 247.2,457.3 247.2,464.6 247.3,456.6 247.4,462.1 247.5,456.5 247.6,461.6 247.6,457.4 247.7,462.1 247.8,455.8 247.9,462.6 248.0,456.6 248.0,462.3 248.1,456.3 248.2,461.9 248.3,457.3 248.4,462.6 248.4,456.2 248.5,462.4 248.6,457.1 248.7,461.4 248.8,456.8 248.8,461.7 248.9,457.9 249.0,463.1 249.1,458.2 249.2,465.2 249.2,461.8 249.3,469.6 249.4,465.4 249.5,470.9 249.6,463.6 249.6,468.1 249.7,460.8 249.8,464.4 249.9,457.6 250.0,463.0 250.1,456.8 250.1,462.3 250.2,457.0 250.3,461.8 250.4,456.4 250.5,461.4 250.5,456.2 250.6,462.3 250.7,456.9 250.8,462.3 250.9,456.4 250.9,465.0 251.0,456.4 251.1,461.0 251.2,455.8 251.3,462.5 251.3,457.0 251.4,464.0 251.5,457.2 251.6,462.4 251.7,455.9 251.7,462.4 251.8,456.1 251.9,461.0 252.0,454.3 252.1,459.7 252.1,452.5 252.2,456.4 252.3,449.1 252.4,456.5 252.5,449.4 252.5,459.0 252.6,453.5 252.7,459.0 252.8,454.7 252.9,461.6 252.9,453.3 253.0,461.2 253.1,456.0 253.2,462.0 253.3,457.4 253.3,461.3 253.4,455.9 253.5,462.0 253.6,456.7 253.7,462.7 253.7,456.1 253.8,462.5 253.9,456.3 254.0,462.1 254.1,457.4 254.2,462.3 254.2,456.0 254.3,462.4 254.4,456.7 254.5,462.5 254.6,455.8 254.6,461.8 254.7,457.1 254.8,464.8 254.9,457.9 255.0,465.0 255.0,462.9 255.1,472.0 255.2,468.9 255.3,474.7 255.4,469.5 255.4,471.9 255.5,464.4 255.6,465.4 255.7,458.8 255.8,463.6 255.8,456.4 255.9,462.6 256.0,457.4 256.1,461.7 256.2,456.0 256.2,461.4 256.3,457.0 256.4,462.3 256.5,455.9 256.6,461.3 256.6,455.8 256.7,461.9 256.8,456.0 256.9,462.0 257.0,456.0 257.0,461.3 257.1,457.1 257.2,462.6 257.3,457.2 257.4,461.7 257.4,456.5 257.5,461.7 257.6,455.5 257.7,461.4 257.8,454.4 257.8,458.6 257.9,451.5 258.0,455.3 258.1,444.1 258.2,451.5 258.3,446.4 258.3,453.2 258.4,451.0 258.5,458.3 258.6,454.2 258.7,461.1 258.7,455.5 258.8,461.9 258.9,454.3 259.0,461.7 259.1,456.0 259.1,461.3 259.2,456.6 259.3,461.1 259.4,455.8 259.5,461.1 259.5,456.1 259.6,461.9 259.7,455.8 259.8,464.8 259.9,456.7 259.9,462.0 260.0,456.3 260.1,461.4 260.2,455.7 260.3,461.7 260.3,456.0 260.4,462.3 260.5,456.8 260.6,462.4 260.7,456.0 260.7,464.7 260.8,462.0 260.9,468.3 261.0,463.2 261.1,469.3 261.1,463.6 261.2,466.1 261.3,459.9 261.4,463.5 261.5,456.6 261.5,461.5 261.6,456.0 261.7,462.2 261.8,456.2 261.9,461.1 261.9,456.2 262.0,461.7 262.1,456.2 262.2,461.0 262.3,454.2 262.4,461.3 262.4,456.0 262.5,462.7 262.6,455.6 262.7,464.0 262.8,457.0 262.8,462.1 262.9,457.2 263.0,462.3 263.1,455.7 263.2,461.6 263.2,456.5 263.3,461.6 263.4,455.7 263.5,460.6 263.6,452.7 263.6,456.4 263.7,449.5 263.8,454.8 263.9,449.1 264.0,459.2 264.0,453.0 264.1,459.0 264.2,455.4 264.3,462.2 264.4,456.2 264.4,461.1 264.5,456.8 264.6,463.8 264.7,456.9 264.8,462.6 264.8,456.1 264.9,465.0 265.0,457.3 265.1,462.4 265.2,455.9 265.2,462.1 265.3,455.9 265.4,461.9 265.5,455.7 265.6,462.1 265.6,456.7 265.7,461.0 265.8,456.4 265.9,461.4 266.0,456.6 266.1,462.1 266.1,457.6 266.2,462.9 266.3,459.5 266.4,466.4 266.5,461.0 266.5,467.8 266.6,461.7 266.7,467.0 266.8,458.7 266.9,464.1 266.9,457.4 267.0,462.4 267.1,456.5 267.2,461.5 267.3,455.7 267.3,463.6 267.4,457.3 267.5,462.6 267.6,455.7 267.7,461.9 267.7,455.8 267.8,461.1 267.9,456.5 268.0,461.7 268.1,457.0 268.1,462.6 268.2,456.9 268.3,462.6 268.4,455.8 268.5,461.6 268.5,456.7 268.6,462.7 268.7,456.4 268.8,461.9 268.9,455.6 268.9,458.3 269.0,451.6 269.1,455.1 269.2,447.9 269.3,454.4 269.3,448.3 269.4,456.6 269.5,454.4 269.6,461.3 269.7,456.5 269.7,462.7 269.8,456.2 269.9,463.6 270.0,456.8 270.1,461.6 270.2,457.0 270.2,462.4 270.3,455.8 270.4,461.7 270.5,455.8 270.6,462.4 270.6,455.8 270.7,461.4 270.8,456.4 270.9,462.4 271.0,455.7 271.0,461.6 271.1,456.8 271.2,462.3 271.3,456.5 271.4,463.3 271.4,457.9 271.5,463.0 271.6,458.6 271.7,467.2 271.8,462.7 271.8,468.7 271.9,462.4 272.0,466.0 272.1,458.4 272.2,463.8 272.2,456.6 272.3,462.1 272.4,454.4 272.5,461.5 272.6,456.2 272.6,462.5 272.7,455.6 272.8,461.2 272.9,456.7 273.0,463.1 273.0,456.9 273.1,461.6 273.2,456.0 273.3,463.1 273.4,457.1 273.4,462.4 273.5,457.1 273.6,463.0 273.7,457.1 273.8,462.2 273.8,455.7 273.9,462.9 274.0,454.6 274.1,461.3 274.2,453.2 274.3,456.4 274.3,448.8 274.4,453.8 274.5,449.1 274.6,456.2 274.7,451.9 274.7,460.6 274.8,454.8 274.9,461.6 275.0,456.8 275.1,461.5 275.1,456.8 275.2,461.9 275.3,456.5 275.4,461.4 275.5,455.7 275.5,462.2 275.6,456.3 275.7,461.8 275.8,456.8 275.9,461.5 275.9,455.7 276.0,461.6 276.1,456.5 276.2,463.0 276.3,455.6 276.3,461.8 276.4,456.7 276.5,464.2 276.6,457.4 276.7,464.8 276.7,459.7 276.8,467.1 276.9,460.8 277.0,466.0 277.1,459.7 277.1,464.7 277.2,457.6 277.3,462.1 277.4,455.5 277.5,462.9 277.5,457.0 277.6,461.6 277.7,456.5 277.8,461.7 277.9,455.2 277.9,462.6 278.0,456.1 278.1,463.3 278.2,455.8 278.3,461.3 278.4,456.7 278.4,462.1 278.5,455.8 278.6,461.7 278.7,456.6 278.8,461.6 278.8,456.6 278.9,461.4 279.0,456.3 279.1,462.3 279.2,453.2 279.2,459.4 279.3,450.4 279.4,455.8 279.5,447.7 279.6,457.8 279.6,452.7 279.7,460.1 279.8,454.2 279.9,461.2 280.0,455.9 280.0,461.4 280.1,456.0 280.2,463.0 280.3,456.6 280.4,462.7 280.4,456.3 280.5,466.1 280.6,455.6 280.7,463.1 280.8,452.3 280.8,462.7 280.9,456.3 281.0,463.3 281.1,455.4 281.2,463.4 281.2,455.8 281.3,461.5 281.4,455.2 281.5,461.5 281.6,457.2 281.6,462.5 281.7,458.1 281.8,465.5 281.9,459.0 282.0,466.4 282.0,459.6 282.1,464.7 282.2,458.2 282.3,467.0 282.4,456.5 282.5,462.4 282.5,456.2 282.6,465.1 282.7,456.3 282.8,462.3 282.9,456.5 282.9,463.2 283.0,454.9 283.1,462.4 283.2,456.1 283.3,465.9 283.3,455.6 283.4,462.8 283.5,455.4 283.6,462.5 283.7,455.8 283.7,461.7 283.8,455.7 283.9,462.7 284.0,453.4 284.1,461.1 284.1,452.3 284.2,461.6 284.3,453.7 284.4,459.0 284.5,453.4 284.5,459.9 284.6,453.8 284.7,460.3 284.8,455.3 284.9,462.7 284.9,455.5 285.0,462.3 285.1,455.9 285.2,463.3 285.3,456.4 285.3,464.6 285.4,455.4 285.5,462.2 285.6,456.1 285.7,461.6 285.7,455.7 285.8,463.0 285.9,456.7 286.0,461.9 286.1,452.6 286.1,462.1 286.2,455.7 286.3,461.7 286.4,457.0 286.5,461.9 286.6,455.7 286.6,463.8 286.7,458.0 286.8,465.0 286.9,459.1 287.0,467.1 287.0,460.3 287.1,466.7 287.2,458.9 287.3,463.1 287.4,457.3 287.4,462.4 287.5,456.1 287.6,462.4 287.7,455.9 287.8,461.6 287.8,455.6 287.9,462.6 288.0,456.8 288.1,461.6 288.2,455.3 288.2,463.1 288.3,456.0 288.4,462.8 288.5,455.8 288.6,462.7 288.6,456.6 288.7,461.5 288.8,455.0 288.9,462.3 289.0,456.0 289.0,463.3 289.1,454.9 289.2,460.2 289.3,453.5 289.4,459.8 289.4,451.2 289.5,458.9 289.6,453.1 289.7,459.8 289.8,454.1 289.8,462.4 289.9,456.3 290.0,462.9 290.1,455.4 290.2,463.0 290.3,452.4 290.3,462.8 290.4,455.5 290.5,461.9 290.6,455.7 290.7,461.9 290.7,455.8 290.8,462.9 290.9,455.6 291.0,461.8 291.1,456.4 291.1,461.7 291.2,456.4 291.3,461.4 291.4,452.6 291.5,461.9 291.5,455.3 291.6,463.2 291.7,456.4 291.8,465.8 291.9,459.6 291.9,468.3 292.0,460.5 292.1,467.5 292.2,460.4 292.3,464.4 292.3,457.7 292.4,462.8 292.5,455.7 292.6,462.6 292.7,455.6 292.7,461.6 292.8,456.6 292.9,462.5 293.0,457.0 293.1,461.6 293.1,456.1 293.2,463.3 293.3,456.4 293.4,463.3 293.5,456.9 293.5,462.0 293.6,454.9 293.7,462.8 293.8,455.9 293.9,463.1 293.9,455.6 294.0,461.4 294.1,454.8 294.2,464.7 294.3,455.2 294.4,459.1 294.4,451.2 294.5,457.7 294.6,452.4 294.7,459.0 294.8,455.1 294.8,462.3 294.9,456.5 295.0,463.1 295.1,455.9 295.2,466.7 295.2,455.5 295.3,462.7 295.4,456.3 295.5,461.8 295.6,452.7 295.6,463.0 295.7,455.6 295.8,463.5 295.9,456.1 296.0,461.8 296.0,455.7 296.1,462.9 296.2,454.9 296.3,463.4 296.4,455.9 296.4,462.9 296.5,455.5 296.6,463.7 296.7,457.4 296.8,462.8 296.8,457.1 296.9,464.5 297.0,459.1 297.1,465.2 297.2,458.1 297.2,463.5 297.3,456.8 297.4,463.0 297.5,456.6 297.6,461.4 297.6,456.8 297.7,463.0 297.8,455.5 297.9,463.3 298.0,455.0 298.0,461.4 298.1,455.1 298.2,463.4 298.3,457.0 298.4,462.2 298.5,454.9 298.5,463.0 298.6,456.7 298.7,461.7 298.8,456.9 298.9,463.3 298.9,455.6 299.0,461.8 299.1,455.4 299.2,462.9 299.3,454.8 299.3,459.9 299.4,452.3 299.5,462.3 299.6,451.9 299.7,458.0 299.7,454.4 299.8,460.1 299.9,455.8 300.0,463.0 300.1,456.4 300.1,462.6 300.2,455.0 300.3,462.7 300.4,455.8 300.5,465.2 300.5,456.5 300.6,461.8 300.7,456.3 300.8,461.6 300.9,457.0 300.9,463.1 301.0,456.6 301.1,463.1 301.2,452.3 301.3,461.5 301.3,455.7 301.4,463.5 301.5,455.9 301.6,462.4 301.7,455.3 301.7,462.6 301.8,458.5 301.9,466.1 302.0,459.2 302.1,466.6 302.1,459.8 302.2,464.2 302.3,458.2 302.4,463.8 302.5,456.9 302.6,462.9 302.6,456.7 302.7,464.7 302.8,456.1 302.9,462.1 303.0,456.6 303.0,462.1 303.1,456.9 303.2,461.6 303.3,454.9 303.4,463.0 303.4,456.9 303.5,462.7 303.6,455.2 303.7,463.5 303.8,453.3 303.8,465.6 303.9,455.1 304.0,463.1 304.1,455.5 304.2,461.6 304.2,455.4 304.3,462.2 304.4,455.1 304.5,460.5 304.6,452.6 304.6,460.5 304.7,453.6 304.8,460.7 304.9,455.2 305.0,462.0 305.0,456.7 305.1,461.4 305.2,456.2 305.3,462.3 305.4,456.4 305.4,462.2 305.5,456.8 305.6,463.0 305.7,456.1 305.8,462.3 305.8,455.0 305.9,461.9 306.0,455.5 306.1,462.1 306.2,455.1 306.2,462.0 306.3,455.8 306.4,463.2 306.5,451.9 306.6,462.0 306.7,455.7 306.7,466.3 306.8,458.2 306.9,464.2 307.0,459.5 307.1,466.0 307.1,460.6 307.2,464.7 307.3,457.5 307.4,463.4 307.5,457.1 307.5,463.0 307.6,455.0 307.7,462.6 307.8,455.1 307.9,463.0 307.9,455.1 308.0,464.8 308.1,456.4 308.2,463.5 308.3,455.5 308.3,461.9 308.4,455.0 308.5,462.9 308.6,456.8 308.7,461.7 308.7,455.3 308.8,462.9 308.9,456.1 309.0,462.5 309.1,456.0 309.1,462.4 309.2,455.0 309.3,461.0 309.4,452.9 309.5,458.5 309.5,451.3 309.6,458.7 309.7,452.7 309.8,460.7 309.9,455.5 309.9,460.7 310.0,455.9 310.1,462.9 310.2,456.4 310.3,461.6 310.4,456.4 310.4,461.8 310.5,456.1 310.6,461.7 310.7,456.4 310.8,466.4 310.8,455.7 310.9,463.4 311.0,455.8 311.1,462.4 311.2,455.3 311.2,461.7 311.3,456.1 311.4,463.0 311.5,455.9 311.6,462.4 311.6,456.0 311.7,462.8 311.8,456.3 311.9,463.4 312.0,457.1 312.0,465.5 312.1,459.4 312.2,468.8 312.3,458.4 312.4,462.9 312.4,455.6 312.5,463.5 312.6,456.6 312.7,462.6 312.8,456.0 312.8,461.8 312.9,456.9 313.0,461.6 313.1,455.3 313.2,463.2 313.2,456.1 313.3,461.5 313.4,456.7 313.5,463.1 313.6,455.9 313.6,462.0 313.7,457.0 313.8,462.7 313.9,456.6 314.0,461.6 314.0,455.4 314.1,463.3 314.2,454.9 314.3,461.7 314.4,454.1 314.5,459.0 314.5,453.0 314.6,458.1 314.7,451.9 314.8,463.7 314.9,453.1 314.9,461.0 315.0,454.8 315.1,462.6 315.2,456.9 315.3,463.1 315.3,452.4 315.4,463.1 315.5,456.0 315.6,462.2 315.7,456.5 315.7,461.8 315.8,456.1 315.9,462.9 316.0,455.1 316.1,462.0 316.1,456.9 316.2,462.4 316.3,456.1 316.4,462.7 316.5,455.4 316.5,463.2 316.6,456.3 316.7,463.0 316.8,455.6 316.9,464.2 316.9,458.6 317.0,468.3 317.1,459.8 317.2,464.8 317.3,459.2 317.3,464.8 317.4,456.8 317.5,462.2 317.6,455.4 317.7,461.7 317.7,456.7 317.8,463.5 317.9,456.5 318.0,461.6 318.1,455.7 318.1,462.6 318.2,455.6 318.3,463.2 318.4,456.2 318.5,461.9 318.6,455.4 318.6,463.0 318.7,454.9 318.8,462.2 318.9,455.1 319.0,462.4 319.0,456.4 319.1,462.0 319.2,455.5 319.3,461.4 319.4,454.6 319.4,459.6 319.5,452.5 319.6,459.6 319.7,452.3 319.8,458.9 319.8,453.7 319.9,462.0 320.0,455.1 320.1,462.3 320.2,456.0 320.2,461.5 320.3,457.0 320.4,463.4 320.5,455.3 320.6,461.7 320.6,456.9 320.7,463.3 320.8,457.0 320.9,465.0 321.0,456.0 321.0,461.5 321.1,455.2 321.2,462.2 321.3,455.4 321.4,462.7 321.4,456.7 321.5,463.0 321.6,456.6 321.7,461.6 321.8,457.1 321.8,464.1 321.9,456.2 322.0,464.3 322.1,458.5 322.2,466.5 322.2,458.0 322.3,468.7 322.4,457.4 322.5,462.1 322.6,456.5 322.7,462.5 322.7,455.5 322.8,462.5 322.9,456.3 323.0,463.3 323.1,456.1 323.1,461.9 323.2,456.1 323.3,463.0 323.4,456.5 323.5,462.2 323.5,456.9 323.6,462.1 323.7,452.1 323.8,463.3 323.9,456.5 323.9,463.1 324.0,455.7 324.1,462.6 324.2,455.9 324.3,461.3 324.3,456.4 324.4,460.6 324.5,451.0 324.6,460.0 324.7,452.4 324.7,460.1 324.8,453.5 324.9,460.1 325.0,455.0 325.1,462.2 325.1,455.7 325.2,463.0 325.3,455.4 325.4,463.0 325.5,455.7 325.5,463.0 325.6,455.9 325.7,463.0 325.8,455.3 325.9,463.0 325.9,455.2 326.0,461.7 326.1,452.2 326.2,462.9 326.3,455.3 326.4,461.6 326.4,456.8 326.5,462.1 326.6,456.1 326.7,462.9 326.8,455.8 326.8,462.0 326.9,457.7 327.0,465.7 327.1,460.5 327.2,466.7 327.2,460.9 327.3,465.0 327.4,458.7 327.5,462.9 327.6,457.0 327.6,462.7 327.7,456.7 327.8,463.2 327.9,456.3 328.0,462.1 328.0,455.9 328.1,461.6 328.2,456.5 328.3,463.3 328.4,454.9 328.4,463.3 328.5,454.9 328.6,462.9 328.7,455.2 328.8,461.6 328.8,456.2 328.9,461.9 329.0,456.4 329.1,463.1 329.2,452.1 329.2,461.9 329.3,455.5 329.4,461.8 329.5,453.6 329.6,459.1 329.6,452.5 329.7,458.3 329.8,453.1 329.9,460.3 330.0,455.2 330.0,461.9 330.1,455.6 330.2,463.1 330.3,456.9 330.4,466.3 330.5,456.5 330.5,461.6 330.6,455.0 330.7,462.3 330.8,456.9 330.9,462.0 330.9,456.5 331.0,463.5 331.1,455.9 331.2,463.4 331.3,456.4 331.3,462.2 331.4,455.7 331.5,462.3 331.6,455.2 331.7,462.8 331.7,456.0 331.8,461.8 331.9,455.5 332.0,463.7 332.1,457.9 332.1,464.2 332.2,458.8 332.3,464.5 332.4,458.3 332.5,464.3 332.5,457.4 332.6,462.2 332.7,456.7 332.8,463.3 332.9,456.8 332.9,464.7 333.0,455.8 333.1,463.2 333.2,455.2 333.3,465.0 333.3,455.9 333.4,461.7 333.5,455.7 333.6,463.3 333.7,456.7 333.7,462.2 333.8,456.6 333.9,463.2 334.0,456.8 334.1,463.0 334.1,456.6 334.2,462.0 334.3,455.3 334.4,461.7 334.5,455.4 334.6,459.7 334.6,451.6 334.7,458.7 334.8,451.1 334.9,460.0 335.0,453.5 335.0,461.3 335.1,455.7 335.2,462.8 335.3,456.0 335.4,463.1 335.4,455.3 335.5,462.1 335.6,454.9 335.7,462.0 335.8,455.9 335.8,462.7 335.9,457.0 336.0,462.9 336.1,455.4 336.2,462.1 336.2,456.9 336.3,463.4 336.4,455.1 336.5,463.0 336.6,452.2 336.6,463.2 336.7,456.4 336.8,462.8 336.9,457.0 337.0,464.2 337.0,457.8 337.1,464.5 337.2,459.8 337.3,464.6 337.4,458.2 337.4,467.2 337.5,457.2 337.6,462.1 337.7,456.5 337.8,463.0 337.8,456.8 337.9,462.5 338.0,456.6 338.1,462.0 338.2,455.2 338.2,462.8 338.3,455.4 338.4,461.4 338.5,455.2 338.6,462.8 338.7,455.4 338.7,465.9 338.8,456.4 338.9,462.6 339.0,455.2 339.1,462.4 339.1,456.0 339.2,462.8 339.3,455.5 339.4,461.5 339.5,453.8 339.5,460.4 339.6,452.2 339.7,458.4 339.8,452.5 339.9,460.0 339.9,449.7 340.0,461.1 340.1,455.7 340.2,461.7 340.3,456.5 340.3,461.6 340.4,455.4 340.5,463.3 340.6,456.9 340.7,462.3 340.7,455.8 340.8,462.9 340.9,455.3 341.0,463.5 341.1,456.4 341.1,463.3 341.2,453.9 341.3,462.3 341.4,455.1 341.5,461.6 341.5,456.0 341.6,463.4 341.7,455.1 341.8,461.8 341.9,455.5 341.9,463.4 342.0,458.6 342.1,466.1 342.2,460.2 342.3,465.2 342.3,458.4 342.4,463.8 342.5,455.2 342.6,465.7 342.7,455.4 342.8,463.2 342.8,457.0 342.9,461.6 343.0,455.1 343.1,462.4 343.2,453.8 343.2,461.7 343.3,455.2 343.4,462.4 343.5,456.0 343.6,462.1 343.6,454.9 343.7,461.9 343.8,455.4 343.9,461.6 344.0,455.4 344.0,461.7 344.1,452.4 344.2,462.1 344.3,455.2 344.4,462.6 344.4,456.2 344.5,461.5 344.6,453.9 344.7,458.7 344.8,453.0 344.8,458.1 344.9,452.3 345.0,459.9 345.1,454.4 345.2,463.2 345.2,456.3 345.3,463.4 345.4,456.5 345.5,462.3 345.6,454.9 345.6,461.7 345.7,454.9 345.8,461.5 345.9,456.7 346.0,462.3 346.0,455.1 346.1,463.3 346.2,456.7 346.3,462.1 346.4,455.3 346.5,463.1 346.5,456.7 346.6,463.0 346.7,456.1 346.8,463.5 346.9,455.5 346.9,462.5 347.0,457.5 347.1,463.2 347.2,458.1 347.3,466.5 347.3,459.8 347.4,464.6 347.5,457.8 347.6,462.5 347.7,455.4 347.7,462.4 347.8,455.2 347.9,462.4 348.0,455.3 348.1,463.2 348.1,456.3 348.2,461.7 348.3,456.5 348.4,463.5 348.5,456.2 348.5,461.7 348.6,455.6 348.7,462.2 348.8,455.1 348.9,462.6 348.9,456.4 349.0,462.8 349.1,456.5 349.2,463.5 349.3,455.7 349.3,463.0 349.4,455.8 349.5,462.4 349.6,455.7 349.7,460.2 349.7,452.9 349.8,460.2 349.9,454.5 350.0,460.5 350.1,455.2 350.1,462.5 350.2,455.8 350.3,462.6 350.4,455.6 350.5,461.8 350.6,456.9 350.6,462.4 350.7,456.4 350.8,462.5 350.9,456.1 351.0,462.9 351.0,454.9 351.1,462.1 351.2,456.2 351.3,462.3 351.4,455.4 351.4,466.3 351.5,455.8 351.6,461.5 351.7,456.8 351.8,461.8 351.8,456.9 351.9,463.5 352.0,457.2 352.1,464.7 352.2,459.1 352.2,466.2 352.3,460.4 352.4,465.2 352.5,458.3 352.6,463.8 352.6,453.4 352.7,463.8 352.8,456.5 352.9,461.6 353.0,455.8 353.0,461.5 353.1,455.4 353.2,463.0 353.3,455.3 353.4,463.4 353.4,452.4 353.5,461.9 353.6,455.4 353.7,463.2 353.8,456.3 353.8,466.3 353.9,453.9 354.0,461.7 354.1,455.0 354.2,462.3 354.2,456.2 354.3,461.9 354.4,455.6 354.5,461.6 354.6,454.9 354.7,459.2 354.7,453.2 354.8,458.8 354.9,452.5 355.0,460.7 355.1,453.3 355.1,461.5 355.2,454.6 355.3,461.5 355.4,455.4 355.5,462.4 355.5,455.1 355.6,462.8 355.7,456.2 355.8,462.5 355.9,451.9 355.9,462.7 356.0,456.4 356.1,461.6 356.2,455.2 356.3,462.4 356.3,455.2 356.4,462.2 356.5,455.9 356.6,462.0 356.7,455.4 356.7,462.5 356.8,456.0 356.9,462.9 357.0,456.3 357.1,463.4 357.1,459.2 357.2,466.0 357.3,461.5 357.4,466.4 357.5,459.7 357.5,464.5 357.6,456.2 357.7,463.3 357.8,455.8 357.9,463.5 357.9,456.5 358.0,463.5 358.1,456.9 358.2,462.7 358.3,455.8 358.3,462.8 358.4,455.5 358.5,465.8 358.6,456.8 358.7,462.7 358.8,455.1 358.8,463.1 358.9,456.8 359.0,462.4 359.1,455.3 359.2,463.4 359.2,456.0 359.3,462.2 359.4,456.6 359.5,461.7 359.6,455.2 359.6,460.4 359.7,452.0 359.8,458.0 359.9,452.1 360.0,458.8 360.0,452.7 360.1,460.1 360.2,456.0 360.3,461.7 360.4,456.1 360.4,463.1 360.5,455.9 360.6,462.9 360.7,456.7 360.8,463.3 360.8,456.4 360.9,462.1 361.0,456.3 361.1,461.9 361.2,455.3 361.2,462.3 361.3,455.5 361.4,463.5 361.5,455.6 361.6,461.9 361.6,456.2 361.7,462.0 361.8,456.1 361.9,463.1 362.0,452.2 362.0,464.1 362.1,458.3 362.2,465.0 362.3,459.1 362.4,470.1 362.4,460.2 362.5,464.0 362.6,456.5 362.7,464.0 362.8,455.9 362.9,462.5 362.9,455.0 363.0,462.3 363.1,455.5 363.2,462.3 363.3,456.3 363.3,462.0 363.4,456.8 363.5,463.3 363.6,455.3 363.7,462.8 363.7,453.5 363.8,463.1 363.9,455.2 364.0,461.9 364.1,456.5 364.1,462.1 364.2,455.6 364.3,461.9 364.4,455.9 364.5,462.8 364.5,455.9 364.6,460.0 364.7,453.8 364.8,457.7 364.9,447.8 364.9,458.2 365.0,453.6 365.1,459.6 365.2,454.8 365.3,462.3 365.3,455.3 365.4,463.5 365.5,455.9 365.6,461.4 365.7,455.1 365.7,462.3 365.8,455.7 365.9,462.5 366.0,452.1 366.1,462.1 366.1,455.5 366.2,463.3 366.3,455.1 366.4,465.5 366.5,456.8 366.6,462.7 366.6,452.2 366.7,462.2 366.8,456.6 366.9,461.8 367.0,456.7 367.0,462.3 367.1,456.6 367.2,464.7 367.3,458.2 367.4,465.9 367.4,458.6 367.5,466.1 367.6,457.6 367.7,464.4 367.8,456.4 367.8,462.0 367.9,456.3 368.0,462.2 368.1,456.5 368.2,463.5 368.2,455.1 368.3,461.6 368.4,456.9 368.5,462.3 368.6,456.6 368.6,462.2 368.7,456.0 368.8,461.4 368.9,452.6 369.0,466.7 369.0,456.4 369.1,462.0 369.2,455.1 369.3,461.5 369.4,455.9 369.4,462.7 369.5,456.4 369.6,460.5 369.7,453.2 369.8,458.6 369.8,452.8 369.9,462.3 370.0,452.4 370.1,459.9 370.2,455.3 370.2,461.5 370.3,451.9 370.4,461.8 370.5,456.8 370.6,462.9 370.7,456.5 370.7,462.0 370.8,455.5 370.9,462.6 371.0,456.0 371.1,461.8 371.1,455.2 371.2,463.3 371.3,456.3 371.4,462.7 371.5,455.2 371.5,462.2 371.6,455.2 371.7,461.4 371.8,455.7 371.9,463.0 371.9,455.1 372.0,462.6 372.1,455.9 372.2,464.3 372.3,458.8 372.3,465.5 372.4,459.4 372.5,466.2 372.6,458.4 372.7,464.4 372.7,453.9 372.8,463.3 372.9,455.6 373.0,462.3 373.1,456.7 373.1,464.7 373.2,456.5 373.3,461.6 373.4,455.8 373.5,462.5 373.5,456.2 373.6,461.6 373.7,456.0 373.8,462.3 373.9,457.0 373.9,461.8 374.0,456.6 374.1,461.5 374.2,455.7 374.3,463.1 374.3,455.7 374.4,461.4 374.5,456.6 374.6,461.8 374.7,454.2 374.8,460.3 374.8,449.3 374.9,457.7 375.0,452.8 375.1,459.7 375.2,454.7 375.2,462.4 375.3,455.9 375.4,461.6 375.5,456.8 375.6,462.8 375.6,455.1 375.7,461.6 375.8,455.0 375.9,461.5 376.0,451.8 376.0,461.8 376.1,455.5 376.2,462.9 376.3,456.4 376.4,462.4 376.4,456.7 376.5,461.9 376.6,456.9" fill="none" stroke="#111" stroke-width="0.9" stroke-linejoin="round"/>
<polyline points="474.4,456.8 474.5,462.2 474.6,456.3 474.7,463.0 474.8,456.8 474.9,461.9 474.9,456.6 475.0,462.6 475.1,456.7 475.2,462.9 475.3,457.2 475.3,462.4 475.4,455.5 475.5,462.7 475.6,456.8 475.7,461.2 475.7,455.6 475.8,463.2 475.9,455.8 476.0,461.8 476.1,455.6 476.1,462.6 476.2,456.4 476.3,462.5 476.4,456.3 476.5,462.4 476.5,455.8 476.6,464.4 476.7,455.3 476.8,464.1 476.9,455.8 476.9,462.8 477.0,457.1 477.1,461.6 477.2,455.4 477.3,462.7 477.3,456.1 477.4,461.5 477.5,456.2 477.6,464.4 477.7,456.5 477.7,464.0 477.8,456.3 477.9,461.4 478.0,457.1 478.1,462.6 478.1,455.5 478.2,461.5 478.3,456.9 478.4,462.2 478.5,456.8 478.6,462.8 478.6,455.9 478.7,462.1 478.8,455.2 478.9,462.7 479.0,456.7 479.0,461.6 479.1,456.1 479.2,461.9 479.3,455.3 479.4,461.4 479.4,456.5 479.5,461.7 479.6,455.7 479.7,462.9 479.8,455.7 479.8,461.6 479.9,455.4 480.0,461.2 480.1,456.5 480.2,463.2 480.2,455.3 480.3,461.3 480.4,455.8 480.5,461.6 480.6,456.0 480.6,461.7 480.7,456.9 480.8,462.2 480.9,456.0 481.0,462.2 481.0,456.1 481.1,461.9 481.2,455.4 481.3,461.7 481.4,455.4 481.4,462.5 481.5,455.8 481.6,461.3 481.7,455.8 481.8,463.2 481.8,456.2 481.9,463.1 482.0,456.3 482.1,461.6 482.2,455.5 482.2,465.2 482.3,457.1 482.4,462.8 482.5,456.3 482.6,462.9 482.7,456.4 482.7,461.6 482.8,455.4 482.9,462.4 483.0,454.4 483.1,461.3 483.1,455.7 483.2,463.7 483.3,456.4 483.4,461.6 483.5,456.8 483.5,463.0 483.6,455.7 483.7,463.0 483.8,456.6 483.9,462.6 483.9,456.3 484.0,462.3 484.1,456.0 484.2,461.3 484.3,455.4 484.3,461.9 484.4,456.1 484.5,461.2 484.6,457.1 484.7,463.1 484.7,456.7 484.8,462.7 484.9,456.4 485.0,462.7 485.1,455.9 485.1,463.1 485.2,455.9 485.3,461.3 485.4,456.9 485.5,462.8 485.5,456.3 485.6,462.4 485.7,455.4 485.8,462.2 485.9,455.5 485.9,462.5 486.0,456.2 486.1,461.7 486.2,455.5 486.3,462.3 486.3,457.1 486.4,461.5 486.5,455.3 486.6,461.3 486.7,456.2 486.8,461.4 486.8,456.1 486.9,462.6 487.0,457.1 487.1,463.1 487.2,456.3 487.2,463.2 487.3,456.4 487.4,462.4 487.5,456.6 487.6,461.6 487.6,456.1 487.7,463.2 487.8,456.1 487.9,461.9 488.0,456.8 488.0,461.3 488.1,456.1 488.2,462.2 488.3,455.4 488.4,462.1 488.4,456.6 488.5,463.2 488.6,455.6 488.7,461.4 488.8,456.5 488.8,461.4 488.9,455.7 489.0,461.7 489.1,456.5 489.2,462.6 489.2,455.5 489.3,462.7 489.4,456.4 489.5,462.8 489.6,456.4 489.6,462.6 489.7,456.8 489.8,462.9 489.9,455.5 490.0,462.2 490.0,456.7 490.1,461.2 490.2,456.1 490.3,462.3 490.4,457.1 490.4,462.4 490.5,455.2 490.6,462.9 490.7,456.0 490.8,462.8 490.9,455.6 490.9,462.1 491.0,456.4 491.1,462.5 491.2,457.0 491.3,461.6 491.3,457.0 491.4,463.2 491.5,455.5 491.6,462.1 491.7,456.8 491.7,461.2 491.8,455.8 491.9,462.1 492.0,455.2 492.1,462.3 492.1,456.9 492.2,462.5 492.3,454.8 492.4,462.3 492.5,454.8 492.5,462.1 492.6,456.2 492.7,463.1 492.8,455.7 492.9,462.4 492.9,457.0 493.0,462.7 493.1,456.5 493.2,463.0 493.3,455.9 493.3,462.1 493.4,455.9 493.5,461.5 493.6,456.4 493.7,463.1 493.7,456.1 493.8,465.3 493.9,454.9 494.0,462.5 494.1,456.8 494.1,463.2 494.2,456.6 494.3,462.4 494.4,455.6 494.5,462.6 494.6,455.6 494.6,462.4 494.7,456.9 494.8,462.6 494.9,455.2 495.0,461.6 495.0,455.5 495.1,462.1 495.2,456.1 495.3,461.9 495.4,456.0 495.4,462.2 495.5,456.3 495.6,462.2 495.7,455.7 495.8,462.7 495.8,453.8 495.9,461.4 496.0,456.3 496.1,461.7 496.2,456.0 496.2,463.1 496.3,457.0 496.4,461.4 496.5,457.0 496.6,462.0 496.6,457.0 496.7,461.4 496.8,455.9 496.9,462.4 497.0,456.4 497.0,462.5 497.1,457.0 497.2,462.4 497.3,455.2 497.4,463.0 497.4,455.4 497.5,461.7 497.6,455.2 497.7,462.1 497.8,456.9 497.8,461.4 497.9,456.1 498.0,462.4 498.1,457.1 498.2,462.4 498.2,457.0 498.3,461.6 498.4,456.6 498.5,462.4 498.6,455.7 498.7,462.7 498.7,454.3 498.8,462.1 498.9,456.2 499.0,462.4 499.1,456.5 499.1,464.0 499.2,455.5 499.3,461.9 499.4,456.8 499.5,462.5 499.5,456.8 499.6,463.2 499.7,455.2 499.8,461.3 499.9,457.0 499.9,462.9 500.0,457.1 500.1,461.4 500.2,456.0 500.3,461.7 500.3,456.4 500.4,461.9 500.5,457.0 500.6,461.9 500.7,455.9 500.7,462.3 500.8,455.9 500.9,462.0 501.0,456.1 501.1,461.6 501.1,456.0 501.2,462.3 501.3,456.0 501.4,462.1 501.5,455.2 501.5,461.2 501.6,455.2 501.7,462.3 501.8,455.9 501.9,462.3 501.9,456.1 502.0,462.4 502.1,453.1 502.2,461.7 502.3,456.3 502.3,462.1 502.4,456.4 502.5,462.4 502.6,456.4 502.7,464.1 502.8,456.8 502.8,461.8 502.9,456.5 503.0,461.6 503.1,455.9 503.2,462.7 503.2,457.0 503.3,462.5 503.4,455.3 503.5,462.7 503.6,456.9 503.6,461.4 503.7,456.7 503.8,461.9 503.9,457.0 504.0,462.6 504.0,456.2 504.1,461.4 504.2,456.9 504.3,462.2 504.4,456.1 504.4,463.8 504.5,455.3 504.6,462.1 504.7,456.1 504.8,462.8 504.8,456.2 504.9,462.1 505.0,455.2 505.1,461.9 505.2,455.2 505.2,461.4 505.3,455.4 505.4,461.5 505.5,456.0 505.6,462.7 505.6,455.4 505.7,462.0 505.8,455.6 505.9,461.9 506.0,455.2 506.0,461.7 506.1,456.0 506.2,462.0 506.3,455.4 506.4,463.0 506.4,455.4 506.5,462.1 506.6,456.8 506.7,462.1 506.8,455.8 506.9,461.3 506.9,456.9 507.0,461.3 507.1,455.7 507.2,464.6 507.3,457.2 507.3,463.2 507.4,456.5 507.5,461.3 507.6,456.8 507.7,462.8 507.7,456.3 507.8,461.8 507.9,456.2 508.0,461.6 508.1,455.9 508.1,461.3 508.2,455.5 508.3,461.7 508.4,455.6 508.5,462.8 508.5,455.4 508.6,462.6 508.7,456.1 508.8,463.0 508.9,454.1 508.9,462.6 509.0,456.2 509.1,462.0 509.2,456.3 509.3,462.3 509.3,457.1 509.4,462.5 509.5,455.4 509.6,461.6 509.7,455.5 509.7,464.0 509.8,456.0 509.9,462.7 510.0,455.8 510.1,461.3 510.1,457.1 510.2,462.8 510.3,453.5 510.4,462.1 510.5,457.0 510.5,462.8 510.6,456.7 510.7,462.7 510.8,454.6 510.9,461.3 511.0,455.5 511.0,461.7 511.1,456.8 511.2,461.7 511.3,456.2 511.4,463.0 511.4,455.6 511.5,461.3 511.6,455.5 511.7,462.5 511.8,455.2 511.8,461.5 511.9,457.1 512.0,463.2 512.1,455.4 512.2,461.5 512.2,455.4 512.3,461.3 512.4,455.8 512.5,462.1 512.6,456.6 512.6,462.7 512.7,456.0 512.8,461.6 512.9,456.9 513.0,462.7 513.0,456.8 513.1,461.4 513.2,455.3 513.3,461.8 513.4,455.3 513.4,461.5 513.5,456.1 513.6,462.3 513.7,455.9 513.8,460.4 513.8,454.7 513.9,459.6 514.0,454.6 514.1,461.4 514.2,456.5 514.2,462.6 514.3,455.6 514.4,462.4 514.5,459.0 514.6,466.9 514.6,462.2 514.7,469.1 514.8,463.1 514.9,465.1 515.0,457.4 515.1,462.3 515.1,456.3 515.2,461.5 515.3,456.1 515.4,459.1 515.5,451.2 515.5,454.6 515.6,449.4 515.7,456.4 515.8,453.0 515.9,445.0 515.9,456.3 516.0,461.7 516.1,455.3 516.2,464.2 516.3,461.0 516.3,468.0 516.4,464.8 516.5,469.3 516.6,463.2 516.7,473.9 516.7,457.7 516.8,462.0 516.9,456.3 517.0,461.6 517.1,456.4 517.1,458.7 517.2,452.0 517.3,454.6 517.4,450.1 517.5,456.3 517.5,453.8 517.6,461.3 517.7,456.8 517.8,462.0 517.9,457.5 517.9,462.7 518.0,459.9 518.1,467.4 518.2,465.2 518.3,469.7 518.3,463.7 518.4,465.3 518.5,457.7 518.6,462.0 518.7,456.8 518.8,461.4 518.8,455.9 518.9,457.4 519.0,449.4 519.1,452.4 519.2,447.4 519.2,453.5 519.3,452.0 519.4,460.6 519.5,456.4 519.6,461.7 519.6,457.5 519.7,462.5 519.8,458.9 519.9,465.8 520.0,463.2 520.0,466.8 520.1,460.7 520.2,464.3 520.3,456.5 520.4,461.1 520.4,456.2 520.5,462.0 520.6,454.9 520.7,457.6 520.8,450.0 520.8,451.7 520.9,447.7 521.0,454.2 521.1,452.9 521.2,462.0 521.2,457.3 521.3,461.7 521.4,457.6 521.5,463.5 521.6,460.7 521.6,466.8 521.7,464.4 521.8,468.9 521.9,462.2 522.0,464.2 522.0,457.3 522.1,461.8 522.2,456.4 522.3,460.9 522.4,455.5 522.4,459.1 522.5,449.7 522.6,452.2 522.7,447.6 522.8,453.3 522.9,452.1 522.9,460.2 523.0,457.0 523.1,461.9 523.2,455.9 523.3,462.3 523.3,459.5 523.4,466.9 523.5,463.9 523.6,468.7 523.7,445.3 523.7,465.2 523.8,458.3 523.9,461.1 524.0,456.9 524.1,461.9 524.1,455.8 524.2,456.7 524.3,448.7 524.4,451.0 524.5,445.1 524.5,453.5 524.6,452.8 524.7,459.2 524.8,456.6 524.9,461.7 524.9,457.7 525.0,462.7 525.1,460.1 525.2,466.6 525.3,462.4 525.3,468.0 525.4,461.2 525.5,464.9 525.6,457.9 525.7,462.3 525.7,456.8 525.8,460.6 525.9,453.5 526.0,456.6 526.1,448.2 526.1,450.4 526.2,447.1 526.3,452.7 526.4,452.2 526.5,460.5 526.5,457.2 526.6,461.0 526.7,444.9 526.8,463.1 526.9,460.7 527.0,469.7 527.0,466.9 527.1,471.6 527.2,463.8 527.3,465.4 527.4,458.4 527.4,461.8 527.5,457.6 527.6,461.4 527.7,455.4 527.8,457.4 527.8,448.4 527.9,450.9 528.0,446.0 528.1,453.0 528.2,452.5 528.2,459.2 528.3,456.2 528.4,461.1 528.5,457.6 528.6,463.5 528.6,460.6 528.7,466.5 528.8,463.7 528.9,467.3 529.0,461.2 529.0,464.5 529.1,458.5 529.2,461.5 529.3,457.4 529.4,462.1 529.4,456.1 529.5,461.1 529.6,454.8 529.7,458.7 529.8,453.9 529.8,460.0 529.9,456.3 530.0,462.8 530.1,458.3 530.2,463.8 530.2,458.1 530.3,463.4 530.4,459.2 530.5,465.9 530.6,461.1 530.6,465.9 530.7,459.6 530.8,463.8 530.9,459.7 531.0,463.8 531.1,460.3 531.1,464.0 531.2,460.1 531.3,464.4 531.4,459.9 531.5,464.8 531.5,460.4 531.6,464.6 531.7,460.3 531.8,464.6 531.9,460.2 531.9,465.0 532.0,461.2 532.1,464.9 532.2,460.2 532.3,465.5 532.3,460.0 532.4,465.2 532.5,460.7 532.6,463.9 532.7,460.1 532.7,465.3 532.8,460.6 532.9,464.0 533.0,460.6 533.1,463.7 533.1,460.3 533.2,464.8 533.3,458.7 533.4,463.8 533.5,459.1 533.5,463.8 533.6,458.9 533.7,462.6 533.8,458.8 533.9,463.6 533.9,458.9 534.0,463.5 534.1,459.4 534.2,466.5 534.3,458.2 534.3,463.6 534.4,458.9 534.5,463.5 534.6,459.3 534.7,463.8 534.8,458.2 534.8,463.5 534.9,458.8 535.0,466.2 535.1,457.6 535.2,463.9 535.2,457.6 535.3,462.4 535.4,458.4 535.5,462.9 535.6,457.7 535.6,466.2 535.7,458.6 535.8,463.4 535.9,458.2 536.0,464.8 536.0,460.1 536.1,466.2 536.2,461.4 536.3,466.9 536.4,461.2 536.4,468.6 536.5,460.5 536.6,465.1 536.7,460.4 536.8,464.1 536.8,458.8 536.9,463.6 537.0,457.6 537.1,463.5 537.2,457.5 537.2,463.6 537.3,457.3 537.4,463.2 537.5,457.4 537.6,462.8 537.6,457.6 537.7,462.9 537.8,457.9 537.9,462.0 538.0,457.5 538.0,462.2 538.1,456.7 538.2,463.5 538.3,457.8 538.4,462.3 538.4,457.4 538.5,462.9 538.6,457.1 538.7,461.7 538.8,456.6 538.9,460.6 538.9,454.0 539.0,460.8 539.1,451.8 539.2,459.1 539.3,453.3 539.3,463.0 539.4,454.9 539.5,459.5 539.6,455.8 539.7,461.4 539.7,455.6 539.8,461.4 539.9,456.7 540.0,461.5 540.1,456.5 540.1,462.6 540.2,456.7 540.3,463.3 540.4,457.2 540.5,463.2 540.5,456.0 540.6,462.9 540.7,456.1 540.8,462.4 540.9,456.2 540.9,463.0 541.0,456.0 541.1,462.2 541.2,456.0 541.3,466.2 541.3,457.0 541.4,462.0 541.5,458.0 541.6,463.8 541.7,457.7 541.7,465.0 541.8,458.1 541.9,464.3 542.0,458.7 542.1,464.7 542.1,456.8 542.2,464.4 542.3,459.5 542.4,464.6 542.5,457.2 542.5,463.3 542.6,457.5 542.7,462.2 542.8,457.0 542.9,462.6 543.0,455.7 543.0,461.3 543.1,455.6 543.2,461.1 543.3,452.8 543.4,461.2 543.4,456.6 543.5,462.0 543.6,456.0 543.7,464.9 543.8,456.3 543.8,461.5 543.9,456.5 544.0,461.5 544.1,455.9 544.2,462.1 544.2,453.8 544.3,461.3 544.4,454.9 544.5,460.3 544.6,454.5 544.6,459.4 544.7,454.4 544.8,459.0 544.9,454.1 545.0,458.6 545.0,452.8 545.1,459.3 545.2,452.1 545.3,460.0 545.4,456.0 545.4,461.1 545.5,456.3 545.6,462.6 545.7,456.8 545.8,461.9 545.8,456.8 545.9,462.4 546.0,455.8 546.1,462.6 546.2,455.9 546.2,461.5 546.3,456.5 546.4,462.7 546.5,457.0 546.6,462.3 546.6,456.2 546.7,462.8 546.8,456.1 546.9,462.5 547.0,457.3 547.1,462.4 547.1,456.5 547.2,463.4 547.3,457.1 547.4,463.8 547.5,459.4 547.5,465.9 547.6,455.9 547.7,468.1 547.8,460.2 547.9,468.9 547.9,458.6 548.0,468.2 548.1,459.0 548.2,464.2 548.3,458.2 548.3,462.2 548.4,457.3 548.5,462.0 548.6,455.7 548.7,462.4 548.7,457.0 548.8,461.9 548.9,457.2 549.0,462.0 549.1,457.0 549.1,462.2 549.2,456.8 549.3,462.7 549.4,456.5 549.5,465.1 549.5,456.7 549.6,461.4 549.7,455.6 549.8,462.6 549.9,456.4 549.9,461.8 550.0,455.8 550.1,460.1 550.2,454.6 550.3,459.5 550.3,454.2 550.4,459.2 550.5,453.6 550.6,458.3 550.7,453.4 550.7,458.7 550.8,453.0 550.9,460.3 551.0,454.0 551.1,460.9 551.2,455.8 551.2,462.4 551.3,455.8 551.4,462.9 551.5,456.3 551.6,461.9 551.6,455.8 551.7,462.3 551.8,455.3 551.9,464.8 552.0,455.6 552.0,461.7 552.1,456.6 552.2,461.4 552.3,456.7 552.4,461.4 552.4,455.9 552.5,461.4 552.6,455.5 552.7,463.1 552.8,456.3 552.8,462.5 552.9,456.2 553.0,462.6 553.1,458.3 553.2,464.3 553.2,454.8 553.3,464.7 553.4,458.8 553.5,464.3 553.6,458.8 553.6,464.4 553.7,458.0 553.8,463.5 553.9,457.9 554.0,463.6 554.0,457.4 554.1,462.2 554.2,456.3 554.3,461.9 554.4,456.3 554.4,462.5 554.5,455.6 554.6,462.5 554.7,456.4 554.8,461.6 554.9,456.1 554.9,461.7 555.0,455.9 555.1,461.9 555.2,456.7 555.3,462.6 555.3,455.3 555.4,462.7 555.5,455.6 555.6,462.6 555.7,455.8 555.7,460.3 555.8,455.2 555.9,459.3 556.0,454.8 556.1,459.9 556.1,453.4 556.2,458.8 556.3,453.1 556.4,459.5 556.5,452.8 556.5,459.1 556.6,453.9 556.7,460.5 556.8,455.2 556.9,462.2 556.9,455.6 557.0,462.2 557.1,456.6 557.2,462.1 557.3,456.4 557.3,461.7 557.4,455.8 557.5,462.7 557.6,457.1 557.7,462.7 557.7,455.9 557.8,462.2 557.9,455.4 558.0,462.1 558.1,456.6 558.1,461.6 558.2,455.7 558.3,461.4 558.4,455.8 558.5,462.8 558.5,456.9 558.6,463.3 558.7,457.5 558.8,464.0 558.9,459.5 559.0,465.1 559.0,459.1 559.1,465.3 559.2,456.3 559.3,464.9 559.4,459.2 559.4,465.1 559.5,458.4 559.6,464.1 559.7,457.1 559.8,462.2 559.8,456.2 559.9,462.5 560.0,456.2 560.1,462.5 560.2,456.9 560.2,462.0 560.3,455.4 560.4,461.3 560.5,456.3 560.6,462.7 560.6,456.3 560.7,461.6 560.8,455.5 560.9,461.2 561.0,455.5 561.0,462.1 561.1,455.4 561.2,461.8 561.3,455.3 561.4,461.9 561.4,454.6 561.5,459.9 561.6,452.4 561.7,458.8 561.8,452.2 561.8,457.9 561.9,451.1 562.0,458.4 562.1,452.0 562.2,459.5 562.2,453.3 562.3,459.1 562.4,454.0 562.5,461.4 562.6,456.3 562.6,462.7 562.7,455.0 562.8,461.4 562.9,456.6 563.0,461.5 563.1,456.1 563.1,461.4 563.2,456.1 563.3,462.1 563.4,456.9 563.5,462.3 563.5,457.0 563.6,461.7 563.7,456.4 563.8,461.4 563.9,457.2 563.9,462.9 564.0,456.4 564.1,462.8 564.2,457.8 564.3,464.4 564.3,458.0 564.4,464.3 564.5,458.2 564.6,465.1 564.7,460.6 564.7,465.2 564.8,460.6 564.9,465.9 565.0,459.9 565.1,464.1 565.1,458.5 565.2,463.6 565.3,456.8 565.4,462.3 565.5,453.6 565.5,463.0 565.6,456.8 565.7,462.6 565.8,456.7 565.9,463.0 565.9,456.5 566.0,465.5 566.1,456.6 566.2,461.2 566.3,456.8 566.3,462.6 566.4,457.1 566.5,461.8 566.6,456.2 566.7,462.9 566.7,456.5 566.8,463.0 566.9,456.5 567.0,461.7 567.1,454.7 567.2,461.1 567.2,454.3 567.3,460.0 567.4,453.4 567.5,459.8 567.6,452.0 567.6,458.1 567.7,452.3 567.8,459.2 567.9,452.8 568.0,461.4 568.0,454.2 568.1,462.4 568.2,455.9 568.3,461.6 568.4,454.9 568.4,461.8 568.5,455.7 568.6,461.6 568.7,456.4 568.8,462.1 568.8,455.3 568.9,462.4 569.0,456.0 569.1,461.5 569.2,456.1 569.2,461.4 569.3,456.4 569.4,462.3 569.5,456.3 569.6,463.0 569.6,455.9 569.7,463.4 569.8,456.7 569.9,463.4 570.0,457.2 570.0,465.6 570.1,459.9 570.2,465.7 570.3,459.2 570.4,466.9 570.4,460.0 570.5,466.3 570.6,459.7 570.7,465.2 570.8,458.5 570.8,463.0 570.9,458.0 571.0,462.1 571.1,457.0 571.2,462.2 571.3,456.7 571.3,462.0 571.4,456.9 571.5,461.3 571.6,456.1 571.7,463.0 571.7,456.1 571.8,461.6 571.9,456.3 572.0,462.9 572.1,456.9 572.1,463.0 572.2,455.1 572.3,461.6 572.4,456.4 572.5,462.4 572.5,455.5 572.6,461.5 572.7,455.5 572.8,460.6 572.9,454.0 572.9,460.1 573.0,452.9 573.1,461.2 573.2,452.0 573.3,459.6 573.3,452.4 573.4,459.0 573.5,452.7 573.6,459.3 573.7,455.1 573.7,461.3 573.8,455.4 573.9,462.7 574.0,456.6 574.1,463.2 574.1,456.0 574.2,462.5 574.3,453.8 574.4,462.4 574.5,456.1 574.5,461.9 574.6,456.0 574.7,461.8 574.8,455.8 574.9,463.1 575.0,455.8 575.0,462.8 575.1,456.8 575.2,463.1 575.3,454.2 575.4,461.9 575.4,457.7 575.5,462.7 575.6,456.7 575.7,467.2 575.8,459.2 575.8,466.0 575.9,455.7 576.0,465.2 576.1,460.1 576.2,466.1 576.2,459.0 576.3,464.1 576.4,457.4 576.5,463.4 576.6,454.1 576.6,463.6 576.7,456.9 576.8,463.3 576.9,456.5 577.0,462.1 577.0,455.1 577.1,462.5 577.2,456.4 577.3,462.9 577.4,456.7 577.4,462.6 577.5,456.9 577.6,462.8 577.7,456.5 577.8,462.4 577.8,457.1 577.9,462.3 578.0,455.3 578.1,461.8 578.2,455.1 578.2,462.4 578.3,455.6 578.4,461.8 578.5,455.1 578.6,460.9 578.6,453.6 578.7,459.4 578.8,454.9 578.9,460.7 579.0,454.8 579.1,459.8 579.1,455.3 579.2,461.1 579.3,454.3 579.4,460.8 579.5,454.7 579.5,461.6 579.6,455.6 579.7,461.5 579.8,456.6 579.9,461.4 579.9,455.7 580.0,463.0 580.1,455.3 580.2,461.6 580.3,455.6 580.3,462.9 580.4,455.1 580.5,462.1 580.6,456.8 580.7,462.2 580.7,456.4 580.8,463.2 580.9,456.4 581.0,462.5 581.1,455.9 581.1,464.2 581.2,456.6 581.3,464.7 581.4,455.5 581.5,465.4 581.5,458.0 581.6,463.9 581.7,456.4 581.8,464.0 581.9,457.9 581.9,463.3 582.0,457.6 582.1,463.7 582.2,456.3 582.3,462.0 582.3,455.6 582.4,463.0 582.5,456.0 582.6,461.4 582.7,457.0 582.7,462.0 582.8,455.8 582.9,461.5 583.0,456.0 583.1,461.7 583.2,455.9 583.2,462.2 583.3,456.1 583.4,461.8 583.5,456.2 583.6,463.0 583.6,456.6 583.7,462.4 583.8,455.1 583.9,462.0 584.0,455.3 584.0,461.6 584.1,453.9 584.2,460.5 584.3,452.5 584.4,458.2 584.4,453.8 584.5,459.2 584.6,452.1 584.7,459.5 584.8,453.5 584.8,461.5 584.9,455.8 585.0,460.8 585.1,456.2 585.2,461.6 585.2,454.9 585.3,462.0 585.4,456.6 585.5,462.3 585.6,455.6 585.6,462.9 585.7,453.6 585.8,463.1 585.9,456.0 586.0,464.2 586.0,455.8 586.1,462.8 586.2,457.0 586.3,461.8 586.4,456.5 586.4,463.0 586.5,455.3 586.6,463.3 586.7,456.8 586.8,463.8 586.8,456.3 586.9,463.4 587.0,458.9 587.1,464.1 587.2,458.5 587.3,464.3 587.3,458.2 587.4,465.0 587.5,458.7 587.6,464.1 587.7,457.0 587.7,463.9 587.8,456.1 587.9,462.1 588.0,456.9 588.1,462.1 588.1,455.2 588.2,462.8 588.3,455.8 588.4,462.2 588.5,455.6 588.5,461.6 588.6,455.1 588.7,461.8 588.8,456.7 588.9,461.8 588.9,456.8 589.0,462.0 589.1,455.3 589.2,461.6 589.3,455.7 589.3,461.5 589.4,456.0 589.5,462.4 589.6,455.9 589.7,461.5 589.7,453.4 589.8,460.6 589.9,453.0 590.0,460.1 590.1,451.9 590.1,459.8 590.2,454.0 590.3,459.5 590.4,454.7 590.5,460.1 590.5,455.7 590.6,462.3 590.7,456.2 590.8,461.4 590.9,455.9 590.9,462.4 591.0,455.2 591.1,461.5 591.2,456.5 591.3,462.0 591.4,456.0 591.4,461.8 591.5,455.3 591.6,463.1 591.7,455.7 591.8,461.4 591.8,455.9 591.9,462.4 592.0,455.2 592.1,462.5 592.2,456.0 592.2,462.0 592.3,456.7 592.4,463.6 592.5,458.0 592.6,463.7 592.6,458.4 592.7,464.5 592.8,460.0 592.9,465.6 593.0,457.4 593.0,465.8 593.1,459.3 593.2,464.1 593.3,457.2 593.4,464.2 593.4,456.0 593.5,463.5 593.6,456.9 593.7,461.6 593.8,456.4 593.8,461.5 593.9,457.0 594.0,462.3 594.1,456.6 594.2,462.7 594.2,456.7 594.3,463.0 594.4,456.1 594.5,461.5 594.6,455.2 594.6,462.0 594.7,457.0 594.8,463.0 594.9,456.4 595.0,461.7 595.0,455.1 595.1,461.7 595.2,454.7 595.3,460.7 595.4,454.5 595.5,460.8 595.5,454.0 595.6,460.9 595.7,454.6 595.8,461.2 595.9,454.8 595.9,460.1 596.0,455.6 596.1,461.2 596.2,456.4 596.3,461.9 596.3,455.7 596.4,462.5 596.5,455.2 596.6,463.1 596.7,452.9 596.7,461.7 596.8,455.9 596.9,464.5 597.0,455.8 597.1,462.8 597.1,455.2 597.2,463.3 597.3,456.2 597.4,462.6 597.5,455.9 597.5,461.9 597.6,457.0 597.7,463.2 597.8,456.2 597.9,461.9 597.9,455.9 598.0,462.5 598.1,457.9 598.2,464.7 598.3,458.4 598.3,464.9 598.4,457.1 598.5,463.8 598.6,456.7 598.7,462.8 598.7,458.2 598.8,463.0 598.9,456.0 599.0,463.8 599.1,457.1 599.2,462.2 599.2,455.7 599.3,462.1 599.4,456.6 599.5,464.7 599.6,455.9 599.6,461.7 599.7,457.0 599.8,462.1 599.9,455.9 600.0,462.4 600.0,456.1 600.1,462.8 600.2,455.9 600.3,461.8 600.4,454.0 600.4,462.1 600.5,456.7 600.6,462.9 600.7,456.4 600.8,460.7 600.8,455.0 600.9,461.4 601.0,453.4 601.1,459.7 601.2,453.5 601.2,460.4 601.3,453.3 601.4,461.9 601.5,453.1 601.6,461.7 601.6,453.8 601.7,463.4 601.8,456.2 601.9,461.5 602.0,456.5 602.0,461.5 602.1,455.5 602.2,463.4 602.3,456.4 602.4,461.6 602.4,456.6 602.5,461.4 602.6,456.3 602.7,462.1 602.8,455.2 602.8,462.8 602.9,453.1 603.0,462.3 603.1,453.7 603.2,462.3 603.3,456.4 603.3,462.0 603.4,455.5 603.5,462.0 603.6,456.2 603.7,465.4 603.7,457.7 603.8,464.2 603.9,457.1 604.0,463.1 604.1,457.9 604.1,464.4 604.2,456.6 604.3,463.8 604.4,457.4 604.5,462.1 604.5,456.8 604.6,462.4 604.7,456.5 604.8,461.5 604.9,455.1 604.9,463.2 605.0,456.6 605.1,461.8 605.2,456.5 605.3,463.1 605.3,456.0 605.4,465.5 605.5,456.5 605.6,463.1 605.7,456.9 605.7,461.4 605.8,456.7 605.9,461.9 606.0,455.6 606.1,461.8 606.1,454.8 606.2,462.8 606.3,455.9 606.4,462.0 606.5,454.0 606.5,461.6 606.6,454.3 606.7,459.5 606.8,454.1 606.9,459.6 606.9,451.6 607.0,461.6 607.1,455.3 607.2,460.5 607.3,454.5 607.4,461.2 607.4,455.4 607.5,462.9 607.6,455.9 607.7,461.8 607.8,456.8 607.8,461.8 607.9,455.8 608.0,461.9 608.1,455.0 608.2,463.4 608.2,456.5 608.3,463.4 608.4,455.0 608.5,463.4 608.6,457.0 608.6,461.5 608.7,455.7 608.8,461.8 608.9,455.2 609.0,461.8 609.0,455.7 609.1,463.3 609.2,456.2 609.3,463.1 609.4,458.2 609.4,464.9 609.5,458.5 609.6,464.7 609.7,456.7 609.8,462.7 609.8,456.8 609.9,464.4 610.0,456.3 610.1,462.6 610.2,456.6 610.2,461.5 610.3,455.2 610.4,462.9 610.5,456.6 610.6,463.3 610.6,456.9 610.7,463.3 610.8,455.1 610.9,462.4 611.0,456.0 611.0,461.5 611.1,455.3 611.2,463.2 611.3,456.1 611.4,461.4 611.5,456.0 611.5,461.5 611.6,456.5 611.7,462.7 611.8,456.5 611.9,461.3 611.9,452.9 612.0,461.6 612.1,454.4 612.2,461.7 612.3,452.8 612.3,460.8 612.4,455.3 612.5,461.0 612.6,454.3 612.7,461.7 612.7,454.6 612.8,460.9 612.9,455.1 613.0,461.8 613.1,455.5 613.1,462.0 613.2,455.6 613.3,462.1 613.4,453.7 613.5,461.6 613.5,455.8 613.6,463.4 613.7,456.2 613.8,461.6 613.9,455.9 613.9,462.7 614.0,456.8 614.1,461.9 614.2,457.1 614.3,462.9 614.3,456.6 614.4,462.8 614.5,455.6 614.6,463.5 614.7,455.8 614.7,464.2 614.8,456.8 614.9,462.8 615.0,456.6 615.1,463.6 615.1,456.7 615.2,463.9 615.3,457.0 615.4,462.7 615.5,457.8 615.6,463.0 615.6,455.8 615.7,463.7 615.8,455.8 615.9,462.0 616.0,456.1 616.0,465.4 616.1,455.4 616.2,462.9 616.3,455.5 616.4,462.6 616.4,455.3 616.5,465.7 616.6,455.0 616.7,462.4 616.8,455.9 616.8,462.9 616.9,456.4 617.0,462.1 617.1,456.5 617.2,462.6 617.2,456.4 617.3,461.6 617.4,455.6 617.5,462.1 617.6,454.3 617.6,462.2 617.7,454.1 617.8,460.5 617.9,455.0 618.0,461.0 618.0,454.9 618.1,461.2 618.2,455.9 618.3,462.6 618.4,454.5 618.4,461.9 618.5,455.3 618.6,462.2 618.7,455.9 618.8,462.2 618.8,456.1 618.9,461.4 619.0,456.3 619.1,461.5 619.2,456.6 619.3,462.5 619.3,456.8 619.4,461.4 619.5,456.5 619.6,462.0 619.7,455.9 619.7,461.7 619.8,455.1 619.9,461.6 620.0,455.4 620.1,461.8 620.1,456.2 620.2,461.7 620.3,456.4 620.4,463.4 620.5,457.2 620.5,462.8 620.6,456.1 620.7,463.7 620.8,455.9 620.9,462.8 620.9,457.7 621.0,462.3 621.1,456.9 621.2,462.4 621.3,455.5 621.3,465.7 621.4,457.0 621.5,462.7 621.6,456.8 621.7,462.1 621.7,456.5 621.8,462.5 621.9,455.4 622.0,461.6 622.1,455.3 622.1,461.8 622.2,453.5 622.3,462.6 622.4,456.7 622.5,462.3 622.5,456.1 622.6,461.7 622.7,455.8 622.8,464.2 622.9,456.1 622.9,461.6 623.0,455.3 623.1,460.7 623.2,456.1 623.3,461.7 623.4,454.6 623.4,460.1 623.5,453.8 623.6,461.9 623.7,454.5 623.8,460.7 623.8,455.7 623.9,462.4 624.0,456.2 624.1,462.2 624.2,455.3 624.2,462.2 624.3,455.6 624.4,462.6 624.5,454.2 624.6,461.7 624.6,456.8 624.7,462.5 624.8,455.2 624.9,461.4 625.0,455.7 625.0,462.5 625.1,456.9 625.2,465.0 625.3,455.9 625.4,461.8 625.4,456.4 625.5,462.9 625.6,456.9 625.7,462.2 625.8,457.0 625.8,463.8 625.9,457.2 626.0,463.9 626.1,457.6 626.2,462.6 626.2,457.1 626.3,462.5 626.4,456.0 626.5,463.0 626.6,457.1 626.6,461.9 626.7,455.7 626.8,462.0 626.9,456.6 627.0,462.6 627.0,455.4 627.1,462.7 627.2,456.2 627.3,461.7 627.4,456.7 627.5,463.3 627.5,455.6 627.6,463.2 627.7,455.0 627.8,463.2 627.9,454.5 627.9,462.1 628.0,455.4 628.1,462.3 628.2,457.0 628.3,462.9 628.3,455.1 628.4,463.1 628.5,456.6 628.6,462.9 628.7,454.6 628.7,461.2 628.8,455.3 628.9,462.1 629.0,455.7 629.1,462.0 629.1,454.9 629.2,460.8 629.3,456.0 629.4,461.2 629.5,456.6 629.5,461.9 629.6,455.3 629.7,462.5 629.8,456.3 629.9,462.3 629.9,456.6 630.0,461.8 630.1,456.9 630.2,463.3 630.3,455.6 630.3,463.3 630.4,455.9 630.5,461.7 630.6,455.8 630.7,461.9 630.7,456.3 630.8,463.8 630.9,456.8 631.0,463.0 631.1,456.1 631.1,461.7 631.2,455.4 631.3,464.0 631.4,457.6 631.5,463.8 631.6,457.7 631.6,463.0 631.7,455.5 631.8,464.7 631.9,456.8 632.0,463.5 632.0,457.1 632.1,465.5 632.2,456.8 632.3,462.7 632.4,455.8 632.4,463.2 632.5,455.1 632.6,461.7 632.7,455.5 632.8,462.9 632.8,456.8 632.9,463.1 633.0,456.1 633.1,463.1 633.2,456.7 633.2,462.9 633.3,455.4 633.4,461.7 633.5,454.4 633.6,461.9 633.6,455.2 633.7,463.3 633.8,456.5 633.9,461.1 634.0,454.7 634.0,464.9 634.1,454.4 634.2,460.5 634.3,455.1 634.4,461.2 634.4,454.8 634.5,460.4 634.6,454.4 634.7,461.8 634.8,455.8 634.8,462.2 634.9,456.2 635.0,462.8 635.1,456.0 635.2,461.9 635.2,455.2 635.3,461.5 635.4,455.1 635.5,461.5 635.6,456.5 635.7,463.4 635.7,456.0 635.8,462.9 635.9,455.1 636.0,462.4 636.1,455.9 636.1,463.3 636.2,456.9 636.3,462.3 636.4,455.9 636.5,462.7 636.5,454.4 636.6,463.4 636.7,455.8 636.8,462.6 636.9,456.7 636.9,463.5 637.0,456.6 637.1,463.7 637.2,458.1 637.3,463.7 637.3,457.1 637.4,463.1 637.5,456.1 637.6,462.9 637.7,456.0 637.7,462.3 637.8,456.8 637.9,462.5 638.0,455.8 638.1,463.4 638.1,455.7 638.2,461.8 638.3,456.7 638.4,462.0 638.5,456.6 638.5,461.8 638.6,457.0 638.7,462.6 638.8,456.5 638.9,461.7 638.9,455.0 639.0,462.9 639.1,456.1 639.2,461.4 639.3,456.2 639.4,462.1 639.4,455.1 639.5,462.0 639.6,456.2 639.7,461.0 639.8,456.2 639.8,462.1 639.9,455.4 640.0,460.9 640.1,455.6 640.2,462.1 640.2,453.3 640.3,460.9 640.4,456.3 640.5,461.7 640.6,455.6 640.6,462.5 640.7,455.6 640.8,462.6 640.9,455.5 641.0,463.3 641.0,455.3 641.1,462.9 641.2,456.3 641.3,462.7 641.4,455.9 641.4,462.1 641.5,456.6 641.6,463.3 641.7,455.2 641.8,461.8 641.8,456.7 641.9,461.4 642.0,456.3 642.1,462.6 642.2,455.2 642.2,462.0 642.3,457.3 642.4,462.7 642.5,457.0 642.6,462.5 642.6,457.7 642.7,462.6 642.8,456.7 642.9,463.2 643.0,455.6 643.0,462.1 643.1,455.9 643.2,464.2 643.3,455.5 643.4,462.7 643.5,455.2 643.5,462.0 643.6,457.1 643.7,462.6 643.8,455.5 643.9,461.9 643.9,455.6 644.0,461.5 644.1,456.8 644.2,461.7 644.3,456.6 644.3,461.8 644.4,457.0 644.5,462.3 644.6,455.0 644.7,463.1 644.7,455.1 644.8,461.5 644.9,455.5 645.0,461.9 645.1,456.4 645.1,461.8 645.2,455.2 645.3,461.0 645.4,455.4 645.5,461.5 645.5,454.7 645.6,460.5 645.7,455.7 645.8,461.1 645.9,455.9 645.9,462.3 646.0,455.9 646.1,462.0 646.2,455.4 646.3,464.8 646.3,456.9 646.4,461.6 646.5,453.3 646.6,462.9 646.7,456.9 646.7,462.2 646.8,455.3 646.9,462.0 647.0,455.5 647.1,461.9 647.1,455.3 647.2,464.4 647.3,455.1 647.4,462.2 647.5,456.4 647.6,462.3 647.6,456.1 647.7,462.7 647.8,456.3 647.9,463.4 648.0,457.3 648.0,462.2 648.1,456.0 648.2,463.9 648.3,456.5 648.4,463.3 648.4,456.3 648.5,463.2 648.6,455.8 648.7,462.9 648.8,456.8 648.8,465.2 648.9,455.4 649.0,462.1 649.1,456.0 649.2,462.9 649.2,456.8 649.3,462.9 649.4,456.5 649.5,462.2 649.6,456.3 649.6,462.9 649.7,456.3 649.8,461.7 649.9,456.6 650.0,461.7 650.0,457.0 650.1,461.4 650.2,455.4 650.3,462.0 650.4,456.7 650.4,461.3 650.5,454.7 650.6,461.4 650.7,456.2 650.8,461.5 650.8,456.2 650.9,461.3 651.0,455.1 651.1,462.7 651.2,455.1 651.2,461.1 651.3,455.0 651.4,461.5 651.5,456.1 651.6,461.6 651.7,456.7 651.7,462.1 651.8,456.8 651.9,462.1 652.0,455.4 652.1,462.2 652.1,456.7 652.2,462.6 652.3,456.9 652.4,462.6 652.5,456.3 652.5,462.0 652.6,456.4 652.7,462.6 652.8,456.4 652.9,462.0 652.9,455.4 653.0,461.9 653.1,456.9 653.2,463.4 653.3,455.5 653.3,462.7 653.4,456.1 653.5,462.7 653.6,456.1 653.7,462.9 653.7,456.2 653.8,463.1 653.9,457.8 654.0,462.2 654.1,456.7 654.1,463.3 654.2,455.6 654.3,461.9 654.4,456.7 654.5,462.6 654.5,455.3 654.6,461.7 654.7,456.2 654.8,462.9 654.9,455.1 654.9,463.1 655.0,455.8 655.1,461.6 655.2,456.8 655.3,462.1 655.4,456.7 655.4,462.1 655.5,456.4 655.6,462.5 655.7,455.3 655.8,461.6 655.8,456.0 655.9,462.2 656.0,456.3 656.1,461.8 656.2,455.2 656.2,462.2 656.3,453.6 656.4,462.0 656.5,454.7 656.6,462.5 656.6,455.2 656.7,461.7 656.8,456.2 656.9,462.1 657.0,454.9 657.0,463.0 657.1,456.4 657.2,462.6 657.3,455.1 657.4,462.5 657.4,455.3 657.5,463.4 657.6,457.0 657.7,463.1 657.8,455.8 657.8,463.2 657.9,455.5 658.0,461.8 658.1,455.4 658.2,462.7 658.2,456.1 658.3,461.8 658.4,457.0 658.5,462.3 658.6,456.4 658.6,461.7 658.7,456.5 658.8,462.2 658.9,457.0 659.0,463.1 659.0,457.6 659.1,463.0 659.2,455.9 659.3,465.7 659.4,455.6 659.5,462.0 659.5,456.9 659.6,462.4 659.7,456.2 659.8,463.3 659.9,455.6 659.9,461.4 660.0,455.9 660.1,462.0 660.2,456.6 660.3,464.1 660.3,454.6 660.4,461.9 660.5,457.0 660.6,463.2 660.7,456.0 660.7,461.8 660.8,455.6 660.9,461.5 661.0,456.3 661.1,463.3 661.1,453.8 661.2,461.8 661.3,455.3 661.4,462.3 661.5,454.7 661.5,462.8 661.6,456.0 661.7,461.5 661.8,455.3 661.9,462.4 661.9,455.8 662.0,462.8 662.1,455.3 662.2,460.9 662.3,455.8 662.3,462.4 662.4,455.8 662.5,462.2 662.6,455.6 662.7,461.8 662.7,456.1 662.8,461.5 662.9,456.5 663.0,462.3 663.1,455.9 663.1,463.4 663.2,456.2 663.3,463.2 663.4,456.9 663.5,461.6 663.6,455.9 663.6,461.8 663.7,456.0 663.8,463.3 663.9,453.0 664.0,463.3 664.0,454.5 664.1,462.0 664.2,455.8 664.3,463.3 664.4,456.8 664.4,462.5 664.5,456.6 664.6,462.8 664.7,456.5 664.8,463.0 664.8,455.8 664.9,462.8 665.0,457.2 665.1,462.7 665.2,455.5 665.2,462.8 665.3,455.8 665.4,461.8 665.5,456.5 665.6,462.8 665.6,454.9 665.7,462.9 665.8,456.6 665.9,465.0 666.0,455.5 666.0,462.5 666.1,456.6 666.2,461.9 666.3,455.7 666.4,463.8 666.4,456.3 666.5,462.4 666.6,456.8 666.7,463.0 666.8,456.7 666.8,461.9 666.9,456.5 667.0,463.0 667.1,456.2 667.2,461.3 667.2,455.2 667.3,462.6 667.4,455.1 667.5,462.8 667.6,456.2 667.7,463.9 667.7,455.4 667.8,462.9 667.9,456.6 668.0,465.5 668.1,455.9 668.1,463.3 668.2,455.1 668.3,462.9 668.4,456.8 668.5,462.4 668.5,455.3 668.6,462.6 668.7,456.6 668.8,463.9 668.9,455.2 668.9,462.8 669.0,456.7 669.1,463.0 669.2,455.6 669.3,462.0 669.3,457.0 669.4,462.0 669.5,456.0 669.6,465.4 669.7,455.6 669.7,465.3 669.8,455.1 669.9,462.4 670.0,456.5 670.1,463.6 670.1,457.2 670.2,463.0 670.3,457.1 670.4,463.9 670.5,455.3 670.5,465.7 670.6,456.4 670.7,462.5 670.8,455.2 670.9,461.6 670.9,455.2 671.0,462.9 671.1,456.3 671.2,461.8 671.3,456.4 671.3,462.4 671.4,456.2 671.5,461.9 671.6,455.7 671.7,461.8 671.8,456.3 671.8,463.4 671.9,456.5 672.0,462.6 672.1,455.6 672.2,461.3 672.2,456.8 672.3,462.1 672.4,454.6 672.5,462.7 672.6,454.4 672.6,461.6 672.7,455.7 672.8,461.6 672.9,456.0 673.0,461.2 673.0,455.2 673.1,465.0 673.2,456.3 673.3,463.2 673.4,455.3 673.4,463.0 673.5,455.5 673.6,465.4 673.7,456.2 673.8,462.0 673.8,455.1 673.9,463.5 674.0,456.9 674.1,463.4 674.2,456.4 674.2,462.6 674.3,455.4 674.4,462.1 674.5,455.9 674.6,461.7 674.6,456.4 674.7,462.9 674.8,456.1 674.9,462.3 675.0,457.0 675.0,463.0 675.1,455.6 675.2,461.9 675.3,456.0 675.4,463.3 675.5,456.2" fill="none" stroke="#111" stroke-width="0.9" stroke-linejoin="round"/>
<path d="M175.60,422.60 V495.40 H376.60" fill="none" stroke="#2a2a2a" stroke-width="0.82"/>
<path d="M195.70,495.40 v-3.6 M215.80,495.40 v-3.6 M235.90,495.40 v-3.6 M256.00,495.40 v-3.6 M276.10,495.40 v-3.6 M296.20,495.40 v-3.6 M316.30,495.40 v-3.6 M336.40,495.40 v-3.6 M356.50,495.40 v-3.6 M376.60,495.40 v-3.6 M175.60,459.00 h3.6 M175.60,422.60 h3.6 " fill="none" stroke="#2a2a2a" stroke-width="0.82"/>
<text x="175.6" y="509.6" text-anchor="middle">0</text>
<text x="195.7" y="509.6" text-anchor="middle">1</text>
<text x="215.8" y="509.6" text-anchor="middle">2</text>
<text x="235.9" y="509.6" text-anchor="middle">3</text>
<text x="256.0" y="509.6" text-anchor="middle">4</text>
<text x="276.1" y="509.6" text-anchor="middle">5</text>
<text x="296.2" y="509.6" text-anchor="middle">6</text>
<text x="316.3" y="509.6" text-anchor="middle">7</text>
<text x="336.4" y="509.6" text-anchor="middle">8</text>
<text x="356.5" y="509.6" text-anchor="middle">9</text>
<text x="376.6" y="509.6" text-anchor="middle">10</text>
<text x="170.8" y="499.1" text-anchor="end">−25</text>
<text x="170.8" y="463.0" text-anchor="end">0</text>
<text x="170.8" y="426.7" text-anchor="end">25</text>
<text x="276.1" y="525.6" text-anchor="middle"><tspan font-style="italic">t</tspan>/s</text>
<text x="202.9" y="542.1" style="font-size:13.5px">(g)</text>
<text class="cj" transform="translate(223.10,541.75) scale(1.1050,1)" style="font-size:12.72px">改进前转速估计误差</text>
<text transform="translate(138.4,457.7) rotate(-90)" text-anchor="middle" style="font-size:14.2px">Δ<tspan font-style="italic">n</tspan>/(r·min<tspan font-size="8.8" dy="-4.8">−1</tspan><tspan dy="4.8">)</tspan></text>
<path d="M474.45,422.60 V495.40 H675.45" fill="none" stroke="#2a2a2a" stroke-width="0.82"/>
<path d="M494.55,495.40 v-3.6 M514.65,495.40 v-3.6 M534.75,495.40 v-3.6 M554.85,495.40 v-3.6 M574.95,495.40 v-3.6 M595.05,495.40 v-3.6 M615.15,495.40 v-3.6 M635.25,495.40 v-3.6 M655.35,495.40 v-3.6 M675.45,495.40 v-3.6 M474.45,459.00 h3.6 M474.45,422.60 h3.6 " fill="none" stroke="#2a2a2a" stroke-width="0.82"/>
<text x="474.4" y="509.6" text-anchor="middle">0</text>
<text x="494.6" y="509.6" text-anchor="middle">1</text>
<text x="514.6" y="509.6" text-anchor="middle">2</text>
<text x="534.8" y="509.6" text-anchor="middle">3</text>
<text x="554.9" y="509.6" text-anchor="middle">4</text>
<text x="575.0" y="509.6" text-anchor="middle">5</text>
<text x="595.0" y="509.6" text-anchor="middle">6</text>
<text x="615.1" y="509.6" text-anchor="middle">7</text>
<text x="635.2" y="509.6" text-anchor="middle">8</text>
<text x="655.4" y="509.6" text-anchor="middle">9</text>
<text x="675.5" y="509.6" text-anchor="middle">10</text>
<text x="469.6" y="499.1" text-anchor="end">−25</text>
<text x="469.6" y="463.0" text-anchor="end">0</text>
<text x="469.6" y="426.7" text-anchor="end">25</text>
<text x="575.0" y="525.6" text-anchor="middle"><tspan font-style="italic">t</tspan>/s</text>
<text x="501.7" y="542.1" style="font-size:13.5px">(h)</text>
<text class="cj" transform="translate(521.95,541.75) scale(1.1050,1)" style="font-size:12.72px">改进后转速估计误差</text>
<text transform="translate(437.2,457.7) rotate(-90)" text-anchor="middle" style="font-size:14.2px">Δ<tspan font-style="italic">n</tspan>/(r·min<tspan font-size="8.8" dy="-4.8">−1</tspan><tspan dy="4.8">)</tspan></text>
<path d="M224.0,431.5 L217.2,434.0" stroke="#111" stroke-width="1.05" fill="none"/>
<path d="M213.2,435.5 L217.8,431.8 L217.2,434.0 L219.1,435.3 Z" fill="#111"/>
<text x="226.5" y="436.8" text-anchor="start" style="font-size:14px">18 r/min</text>
<path d="M525.6,481.4 L521.5,477.6" stroke="#111" stroke-width="1.05" fill="none"/>
<path d="M518.3,474.7 L523.7,477.1 L521.5,477.6 L521.1,479.9 Z" fill="#111"/>
<text x="526.3" y="487.8" text-anchor="start" style="font-size:14px">10 r/min</text>
<path d="M196.0,152 H225.1" stroke="#3a3a3a" stroke-width="1.15"/>
<text class="cj" transform="translate(228.80,156.20) scale(1.1050,1)" style="font-size:12.44px">估计角度</text>
<path d="M285.1,152 H313.6" stroke="#8c8c8c" stroke-width="0.9" stroke-dasharray="4.4 3.6"/>
<text class="cj" transform="translate(318.10,156.20) scale(1.1050,1)" style="font-size:12.44px">实际角度</text>
<path d="M493.5,152 H523.4" stroke="#3a3a3a" stroke-width="1.15"/>
<text class="cj" transform="translate(525.75,156.20) scale(1.1050,1)" style="font-size:12.44px">估计角度</text>
<path d="M586.9,152 H615.4" stroke="#8c8c8c" stroke-width="0.9" stroke-dasharray="4.4 3.6"/>
<text class="cj" transform="translate(619.75,156.20) scale(1.1050,1)" style="font-size:12.44px">实际角度</text>
</svg>
</body></html>
